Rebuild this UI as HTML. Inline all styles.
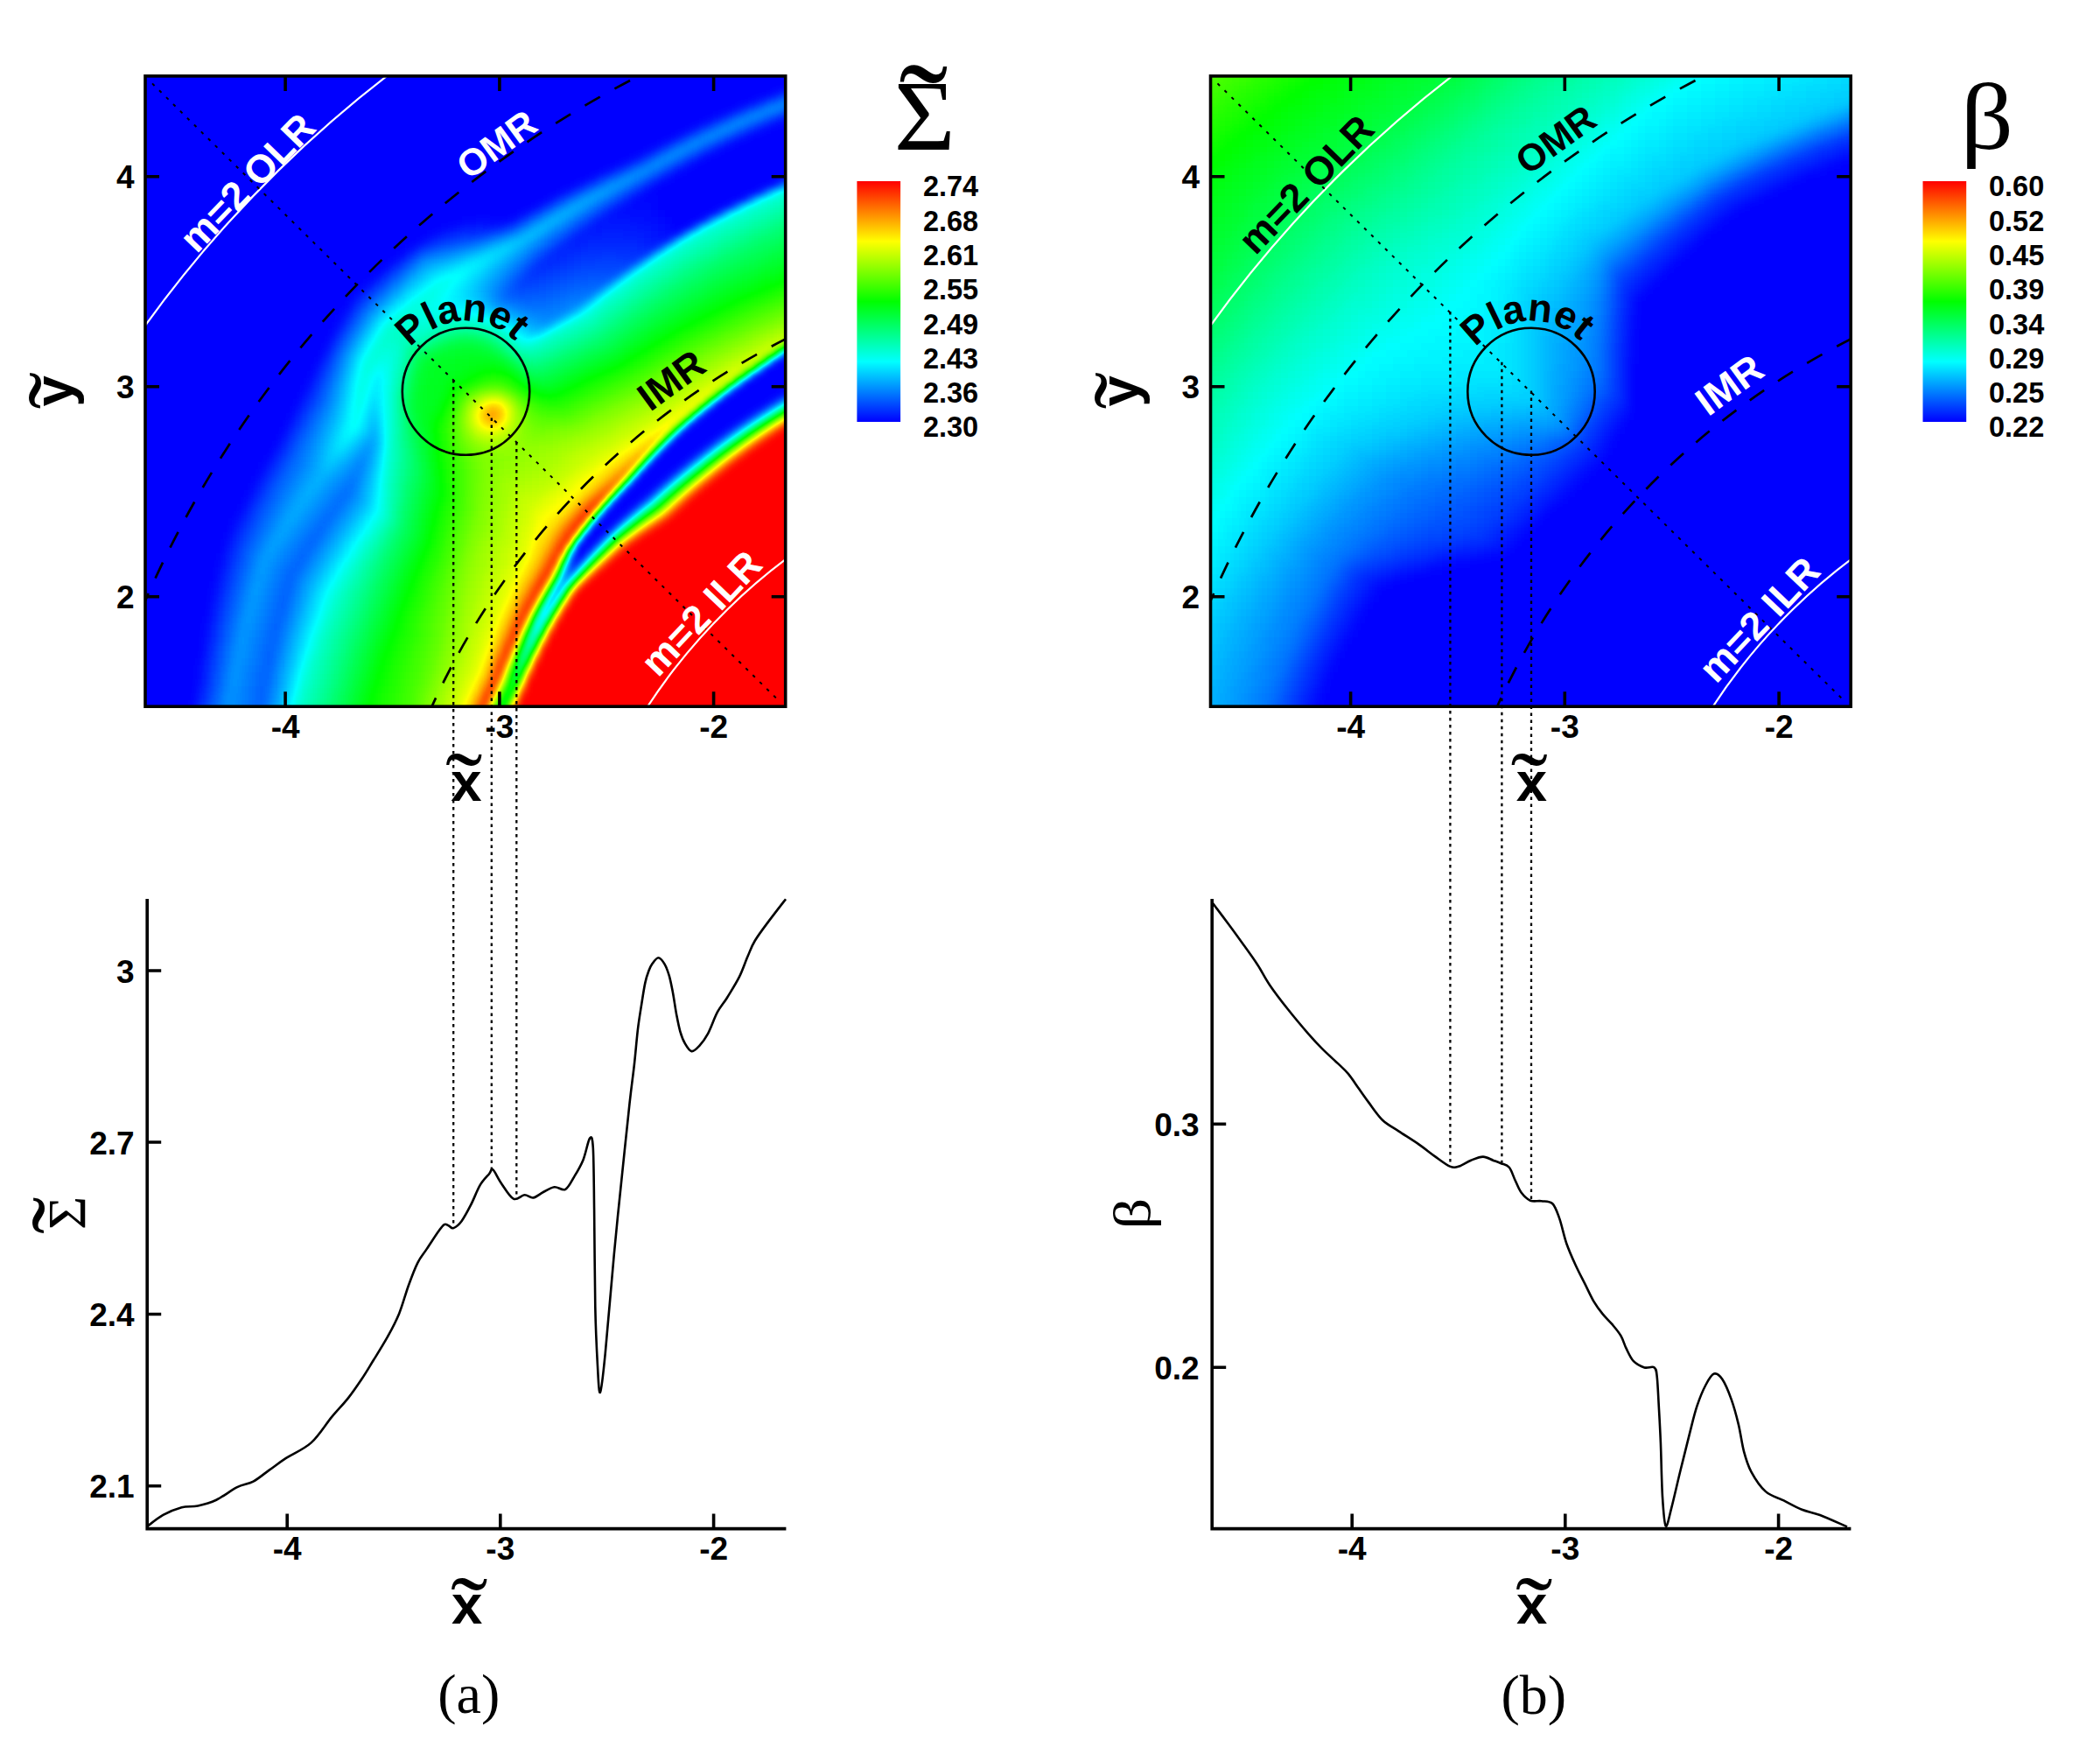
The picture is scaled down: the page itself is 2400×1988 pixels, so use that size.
<!DOCTYPE html><html><head><meta charset="utf-8"><title>figure</title><style>html,body{margin:0;padding:0;background:#fff}svg{display:block}</style></head><body>
<svg xmlns="http://www.w3.org/2000/svg" width="2400" height="1988" viewBox="0 0 2400 1988">
<rect width="2400" height="1988" fill="#fff"/>
<filter id="cm1" x="144" y="64" width="776" height="760" filterUnits="userSpaceOnUse" color-interpolation-filters="sRGB">
<feGaussianBlur stdDeviation="4.0"/>
<feComponentTransfer><feFuncR type="table" tableValues="0 0 0 1 1"/><feFuncG type="table" tableValues="0 1 1 1 0"/><feFuncB type="table" tableValues="1 1 0 0 0"/></feComponentTransfer>
</filter>
<clipPath id="fc1"><rect x="166.0" y="86.9" width="731.7" height="720.3"/></clipPath>
<g clip-path="url(#fc1)"><g filter="url(#cm1)">
<path fill="#000000" d="M144 64h776v8h-776zM144 72h776v8h-776zM144 80h776v8h-776zM144 88h776v8h-776zM144 96h752v8h-752zM144 104h736v8h-736zM144 112h712v8h-712zM144 120h696v8h-696zM144 128h672v8h-672zM144 136h656v8h-656zM896 136h24v8h-24zM144 144h640v8h-640zM880 144h40v8h-40zM144 152h624v8h-624zM856 152h64v8h-64zM144 160h608v8h-608zM840 160h80v8h-80zM144 168h592v8h-592zM824 168h96v8h-96zM144 176h576v8h-576zM808 176h112v8h-112zM144 184h560v8h-560zM792 184h128v8h-128zM144 192h544v8h-544zM784 192h136v8h-136zM144 200h528v8h-528zM768 200h128v8h-128zM144 208h512v8h-512zM752 208h128v8h-128zM144 216h496v8h-496zM744 216h120v8h-120zM144 224h480v8h-480zM752 224h96v8h-96zM144 232h464v8h-464zM752 232h80v8h-80zM144 240h448v8h-448zM760 240h56v8h-56zM144 248h384v8h-384zM768 248h32v8h-32zM144 256h360v8h-360zM768 256h16v8h-16zM144 264h344v8h-344zM144 272h336v8h-336zM144 280h320v8h-320zM144 288h312v8h-312zM144 296h304v8h-304zM144 304h296v8h-296zM144 312h280v8h-280zM144 320h272v8h-272zM144 328h264v8h-264zM144 336h256v8h-256zM144 344h256v8h-256zM144 352h248v8h-248zM144 360h240v8h-240zM144 368h240v8h-240zM144 376h232v8h-232zM144 384h232v8h-232zM144 392h224v8h-224zM912 392h8v8h-8zM144 400h224v8h-224zM896 400h24v8h-24zM144 408h216v8h-216zM888 408h32v8h-32zM144 416h216v8h-216zM872 416h48v8h-48zM144 424h208v8h-208zM864 424h56v8h-56zM144 432h208v8h-208zM856 432h64v8h-64zM144 440h200v8h-200zM840 440h64v8h-64zM144 448h200v8h-200zM832 448h56v8h-56zM144 456h192v8h-192zM824 456h56v8h-56zM144 464h192v8h-192zM808 464h56v8h-56zM144 472h184v8h-184zM800 472h56v8h-56zM144 480h184v8h-184zM792 480h48v8h-48zM144 488h176v8h-176zM784 488h48v8h-48zM144 496h176v8h-176zM776 496h40v8h-40zM144 504h168v8h-168zM768 504h40v8h-40zM144 512h168v8h-168zM760 512h40v8h-40zM144 520h160v8h-160zM752 520h32v8h-32zM144 528h152v8h-152zM744 528h32v8h-32zM144 536h152v8h-152zM736 536h32v8h-32zM144 544h144v8h-144zM728 544h32v8h-32zM144 552h144v8h-144zM720 552h32v8h-32zM144 560h136v8h-136zM712 560h32v8h-32zM144 568h136v8h-136zM704 568h24v8h-24zM144 576h128v8h-128zM696 576h24v8h-24zM144 584h128v8h-128zM688 584h24v8h-24zM144 592h120v8h-120zM680 592h24v8h-24zM144 600h120v8h-120zM672 600h24v8h-24zM144 608h112v8h-112zM672 608h16v8h-16zM144 616h112v8h-112zM664 616h16v8h-16zM144 624h112v8h-112zM656 624h16v8h-16zM144 632h104v8h-104zM656 632h8v8h-8zM144 640h104v8h-104zM144 648h104v8h-104zM144 656h104v8h-104zM144 664h96v8h-96zM144 672h96v8h-96zM144 680h96v8h-96zM144 688h96v8h-96zM144 696h96v8h-96zM144 704h88v8h-88zM144 712h88v8h-88zM144 720h88v8h-88zM144 728h88v8h-88zM144 736h88v8h-88zM144 744h88v8h-88zM144 752h80v8h-80zM144 760h80v8h-80zM144 768h80v8h-80zM144 776h80v8h-80zM144 784h80v8h-80zM144 792h80v8h-80zM144 800h72v8h-72zM144 808h72v8h-72zM144 816h72v8h-72z"/>
<path fill="#010101" d="M896 96h8v8h-8zM856 112h8v8h-8zM816 128h8v8h-8zM912 128h8v8h-8zM800 136h8v8h-8zM784 144h8v8h-8zM872 144h8v8h-8zM768 152h8v8h-8zM752 160h8v8h-8zM736 168h8v8h-8zM720 176h8v8h-8zM704 184h8v8h-8zM776 192h8v8h-8zM896 200h8v8h-8zM736 216h8v8h-8zM728 224h24v8h-24zM608 232h8v8h-8zM744 232h8v8h-8zM592 240h8v8h-8zM752 240h8v8h-8zM528 248h16v8h-16zM560 248h24v8h-24zM760 248h8v8h-8zM504 256h8v8h-8zM488 264h8v8h-8zM464 280h8v8h-8zM424 312h8v8h-8zM416 320h8v8h-8zM384 360h8v8h-8zM376 376h8v8h-8zM368 392h8v8h-8zM360 408h8v8h-8zM352 424h8v8h-8zM344 440h8v8h-8zM888 448h8v8h-8zM336 456h8v8h-8zM816 456h8v8h-8zM328 472h8v8h-8zM320 488h8v8h-8zM768 496h8v8h-8zM816 496h8v8h-8zM312 504h8v8h-8zM760 504h8v8h-8zM752 512h8v8h-8zM784 520h8v8h-8zM296 528h8v8h-8zM288 544h8v8h-8zM280 560h8v8h-8zM728 568h8v8h-8zM272 576h8v8h-8zM256 608h8v8h-8zM248 632h8v8h-8zM240 664h8v8h-8zM232 704h8v8h-8zM224 752h8v8h-8zM216 800h8v8h-8z"/>
<path fill="#020202" d="M888 136h8v8h-8zM688 192h8v8h-8zM672 200h8v8h-8zM760 200h8v8h-8zM624 224h8v8h-8zM720 232h24v8h-24zM744 240h8v8h-8zM544 248h16v8h-16zM752 248h8v8h-8zM512 256h8v8h-8zM760 256h8v8h-8zM784 256h8v8h-8zM768 264h8v8h-8zM456 288h8v8h-8zM408 328h8v8h-8zM400 336h8v8h-8zM848 432h8v8h-8zM904 440h8v8h-8zM864 464h8v8h-8zM840 480h8v8h-8zM304 520h8v8h-8zM744 520h8v8h-8zM776 528h8v8h-8zM720 576h8v8h-8zM264 592h8v8h-8zM248 640h8v8h-8zM240 672h8v8h-8zM232 712h8v8h-8zM224 760h8v8h-8zM224 768h8v8h-8zM216 808h8v8h-8z"/>
<path fill="#030303" d="M880 104h8v8h-8zM840 120h8v8h-8zM832 160h8v8h-8zM816 168h8v8h-8zM800 176h8v8h-8zM656 208h8v8h-8zM744 208h8v8h-8zM880 208h8v8h-8zM640 216h8v8h-8zM720 224h8v8h-8zM712 232h8v8h-8zM704 240h40v8h-40zM736 248h16v8h-16zM752 256h8v8h-8zM496 264h8v8h-8zM760 264h8v8h-8zM480 272h8v8h-8zM392 352h8v8h-8zM776 488h8v8h-8zM736 528h8v8h-8zM296 536h8v8h-8zM712 584h8v8h-8zM256 616h8v8h-8zM240 680h8v8h-8zM232 720h8v8h-8zM224 776h8v8h-8zM216 816h8v8h-8z"/>
<path fill="#040404" d="M904 96h8v8h-8zM824 128h8v8h-8zM904 128h8v8h-8zM848 152h8v8h-8zM784 184h8v8h-8zM696 240h8v8h-8zM584 248h8v8h-8zM688 248h8v8h-8zM720 248h16v8h-16zM520 256h8v8h-8zM744 256h8v8h-8zM752 264h8v8h-8zM448 296h8v8h-8zM384 368h8v8h-8zM352 432h8v8h-8zM344 448h8v8h-8zM336 464h8v8h-8zM328 480h8v8h-8zM320 496h8v8h-8zM808 504h8v8h-8zM288 552h8v8h-8zM280 568h8v8h-8zM272 584h8v8h-8zM264 600h8v8h-8zM656 640h8v8h-8zM248 648h8v8h-8zM232 728h8v8h-8z"/>
<path fill="#050505" d="M864 144h8v8h-8zM728 176h8v8h-8zM768 192h8v8h-8zM864 216h8v8h-8zM696 248h24v8h-24zM800 248h8v8h-8zM680 256h8v8h-8zM728 256h16v8h-16zM744 264h8v8h-8zM752 272h8v8h-8zM440 304h8v8h-8zM376 384h8v8h-8zM368 400h8v8h-8zM360 416h8v8h-8zM312 512h8v8h-8zM728 536h8v8h-8zM768 536h8v8h-8zM704 592h8v8h-8zM256 624h8v8h-8zM664 632h8v8h-8zM248 656h8v8h-8zM240 688h8v8h-8zM232 736h8v8h-8zM224 784h8v8h-8z"/>
<path fill="#060606" d="M864 112h8v8h-8zM808 136h8v8h-8zM880 136h8v8h-8zM744 168h8v8h-8zM712 184h8v8h-8zM728 216h8v8h-8zM704 232h8v8h-8zM600 240h8v8h-8zM528 256h16v8h-16zM552 256h16v8h-16zM672 256h8v8h-8zM688 256h40v8h-40zM664 264h8v8h-8zM736 264h8v8h-8zM744 272h8v8h-8zM432 312h8v8h-8zM400 344h8v8h-8zM304 528h8v8h-8zM696 600h8v8h-8zM664 608h8v8h-8zM672 624h8v8h-8zM240 696h8v8h-8zM232 744h8v8h-8zM224 792h8v8h-8z"/>
<path fill="#070707" d="M792 144h8v8h-8zM776 152h8v8h-8zM760 160h8v8h-8zM696 192h8v8h-8zM752 200h8v8h-8zM848 224h8v8h-8zM616 232h8v8h-8zM816 240h8v8h-8zM680 248h8v8h-8zM544 256h8v8h-8zM504 264h8v8h-8zM672 264h16v8h-16zM712 264h24v8h-24zM656 272h8v8h-8zM736 272h8v8h-8zM472 280h8v8h-8zM424 320h8v8h-8zM352 440h8v8h-8zM880 456h8v8h-8zM296 544h8v8h-8zM288 560h8v8h-8zM280 576h8v8h-8zM272 592h8v8h-8zM264 608h8v8h-8zM688 608h8v8h-8zM680 616h8v8h-8zM256 632h8v8h-8zM248 664h8v8h-8zM240 704h8v8h-8z"/>
<path fill="#080808" d="M832 232h8v8h-8zM568 256h8v8h-8zM688 264h24v8h-24zM488 272h8v8h-8zM648 272h8v8h-8zM664 272h8v8h-8zM728 272h8v8h-8zM640 280h8v8h-8zM416 328h8v8h-8zM408 336h8v8h-8zM392 360h8v8h-8zM360 424h8v8h-8zM344 456h8v8h-8zM336 472h8v8h-8zM328 488h8v8h-8zM320 504h8v8h-8zM760 544h8v8h-8zM256 640h8v8h-8zM248 672h8v8h-8zM232 752h8v8h-8zM224 800h8v8h-8z"/>
<path fill="#090909" d="M888 104h8v8h-8zM848 120h8v8h-8zM824 160h8v8h-8zM808 168h8v8h-8zM680 200h8v8h-8zM664 208h8v8h-8zM648 216h8v8h-8zM632 224h8v8h-8zM712 224h8v8h-8zM688 240h8v8h-8zM512 264h8v8h-8zM656 264h8v8h-8zM672 272h56v8h-56zM648 280h16v8h-16zM736 280h16v8h-16zM632 288h8v8h-8zM384 376h8v8h-8zM368 408h8v8h-8zM824 448h8v8h-8zM784 480h8v8h-8zM832 488h8v8h-8zM312 520h8v8h-8zM264 616h8v8h-8zM648 648h8v8h-8zM240 712h8v8h-8zM232 760h8v8h-8z"/>
<path fill="#0a0a0a" d="M896 128h8v8h-8zM840 152h8v8h-8zM792 176h8v8h-8zM736 208h8v8h-8zM760 272h8v8h-8zM664 280h8v8h-8zM728 280h8v8h-8zM464 288h8v8h-8zM640 288h8v8h-8zM624 296h8v8h-8zM376 392h8v8h-8zM856 472h8v8h-8zM800 512h8v8h-8zM304 536h8v8h-8zM296 552h8v8h-8zM288 568h8v8h-8zM280 584h8v8h-8zM272 600h8v8h-8zM256 648h8v8h-8zM248 680h8v8h-8zM240 720h8v8h-8zM232 768h8v8h-8zM224 808h8v8h-8z"/>
<path fill="#0b0b0b" d="M912 96h8v8h-8zM856 144h8v8h-8zM776 184h8v8h-8zM664 256h8v8h-8zM520 264h8v8h-8zM496 272h8v8h-8zM672 280h56v8h-56zM624 288h8v8h-8zM648 288h8v8h-8zM456 296h8v8h-8zM616 296h8v8h-8zM632 296h8v8h-8zM352 448h8v8h-8zM344 464h8v8h-8zM336 480h8v8h-8zM328 496h8v8h-8zM320 512h8v8h-8zM264 624h8v8h-8zM248 688h8v8h-8zM240 728h8v8h-8zM232 776h8v8h-8zM224 816h8v8h-8z"/>
<path fill="#0c0c0c" d="M832 128h8v8h-8zM904 200h8v8h-8zM696 232h8v8h-8zM592 248h8v8h-8zM528 264h16v8h-16zM632 280h8v8h-8zM656 288h8v8h-8zM720 288h16v8h-16zM640 296h8v8h-8zM608 304h16v8h-16zM400 352h8v8h-8zM360 432h8v8h-8zM896 448h8v8h-8zM312 528h8v8h-8zM720 544h8v8h-8zM752 552h8v8h-8zM256 656h8v8h-8zM232 784h8v8h-8z"/>
<path fill="#0d0d0d" d="M872 112h8v8h-8zM872 136h8v8h-8zM736 176h8v8h-8zM720 184h8v8h-8zM760 192h8v8h-8zM720 216h8v8h-8zM672 248h8v8h-8zM576 256h8v8h-8zM544 264h8v8h-8zM640 272h8v8h-8zM480 280h8v8h-8zM664 288h24v8h-24zM704 288h16v8h-16zM648 296h8v8h-8zM448 304h8v8h-8zM624 304h8v8h-8zM392 368h8v8h-8zM368 416h8v8h-8zM304 544h8v8h-8zM296 560h8v8h-8zM280 592h8v8h-8zM272 608h8v8h-8zM264 632h8v8h-8zM648 640h8v8h-8zM256 664h8v8h-8zM248 696h8v8h-8zM240 736h8v8h-8z"/>
<path fill="#0e0e0e" d="M912 120h8v8h-8zM816 136h8v8h-8zM608 240h8v8h-8zM504 272h8v8h-8zM688 288h16v8h-16zM656 296h8v8h-8zM632 304h8v8h-8zM440 312h8v8h-8zM600 312h16v8h-16zM376 400h8v8h-8zM352 456h8v8h-8zM712 552h8v8h-8zM288 576h8v8h-8zM248 704h8v8h-8zM240 744h8v8h-8zM232 792h8v8h-8z"/>
<path fill="#0f0f0f" d="M800 144h8v8h-8zM752 168h8v8h-8zM704 192h8v8h-8zM744 200h8v8h-8zM648 264h8v8h-8zM664 296h16v8h-16zM712 296h16v8h-16zM640 304h8v8h-8zM616 312h8v8h-8zM432 320h8v8h-8zM424 328h8v8h-8zM408 344h8v8h-8zM384 384h8v8h-8zM880 408h8v8h-8zM360 440h8v8h-8zM344 472h8v8h-8zM336 488h8v8h-8zM328 504h8v8h-8zM320 520h8v8h-8zM272 616h8v8h-8zM264 640h8v8h-8zM256 672h8v8h-8zM240 752h8v8h-8z"/>
<path fill="#101010" d="M896 104h8v8h-8zM888 128h8v8h-8zM784 152h8v8h-8zM768 160h8v8h-8zM704 224h8v8h-8zM624 232h8v8h-8zM680 240h8v8h-8zM552 264h8v8h-8zM512 272h8v8h-8zM608 296h8v8h-8zM680 296h32v8h-32zM648 304h8v8h-8zM624 312h8v8h-8zM592 320h16v8h-16zM416 336h8v8h-8zM312 536h8v8h-8zM744 560h8v8h-8zM280 600h8v8h-8zM248 712h8v8h-8zM240 760h8v8h-8zM232 800h8v8h-8z"/>
<path fill="#111111" d="M856 120h8v8h-8zM832 152h8v8h-8zM816 160h8v8h-8zM800 168h8v8h-8zM688 200h8v8h-8zM672 208h8v8h-8zM728 208h8v8h-8zM656 216h8v8h-8zM640 224h8v8h-8zM656 256h8v8h-8zM488 280h8v8h-8zM616 288h8v8h-8zM736 288h8v8h-8zM600 304h8v8h-8zM656 304h8v8h-8zM632 312h8v8h-8zM608 320h8v8h-8zM400 360h8v8h-8zM368 424h8v8h-8zM912 440h8v8h-8zM304 552h8v8h-8zM704 560h8v8h-8zM296 568h8v8h-8zM288 584h8v8h-8zM264 648h8v8h-8zM256 680h8v8h-8zM248 720h8v8h-8zM240 768h8v8h-8zM232 808h8v8h-8z"/>
<path fill="#121212" d="M848 144h8v8h-8zM784 176h8v8h-8zM776 264h8v8h-8zM520 272h8v8h-8zM624 280h8v8h-8zM472 288h8v8h-8zM664 304h48v8h-48zM640 312h8v8h-8zM616 320h8v8h-8zM360 448h8v8h-8zM352 464h8v8h-8zM344 480h8v8h-8zM328 512h8v8h-8zM792 520h8v8h-8zM272 624h8v8h-8zM264 656h8v8h-8zM256 688h8v8h-8zM248 728h8v8h-8zM240 776h8v8h-8z"/>
<path fill="#131313" d="M768 184h8v8h-8zM688 232h8v8h-8zM584 256h8v8h-8zM592 312h8v8h-8zM648 312h8v8h-8zM624 320h8v8h-8zM592 328h8v8h-8zM392 376h8v8h-8zM904 392h8v8h-8zM376 408h8v8h-8zM336 496h8v8h-8zM824 496h8v8h-8zM320 528h8v8h-8zM288 592h8v8h-8zM280 608h8v8h-8zM272 632h8v8h-8zM232 816h8v8h-8z"/>
<path fill="#141414" d="M904 120h8v8h-8zM840 128h8v8h-8zM864 136h8v8h-8zM712 216h8v8h-8zM664 248h8v8h-8zM560 264h8v8h-8zM528 272h8v8h-8zM632 272h8v8h-8zM464 296h8v8h-8zM656 312h16v8h-16zM632 320h8v8h-8zM584 328h8v8h-8zM600 328h16v8h-16zM384 392h8v8h-8zM856 424h8v8h-8zM368 432h8v8h-8zM872 464h8v8h-8zM312 544h8v8h-8zM304 560h8v8h-8zM736 568h8v8h-8zM296 576h8v8h-8zM264 664h8v8h-8zM256 696h8v8h-8zM248 736h8v8h-8zM240 784h8v8h-8z"/>
<path fill="#151515" d="M880 112h8v8h-8zM728 184h8v8h-8zM752 192h8v8h-8zM888 208h8v8h-8zM600 248h8v8h-8zM496 280h8v8h-8zM456 304h8v8h-8zM712 304h8v8h-8zM672 312h32v8h-32zM584 320h8v8h-8zM640 320h8v8h-8zM616 328h8v8h-8zM408 352h8v8h-8zM360 456h8v8h-8zM280 616h8v8h-8zM272 640h8v8h-8zM256 704h8v8h-8zM248 744h8v8h-8zM240 792h8v8h-8z"/>
<path fill="#161616" d="M824 136h8v8h-8zM640 264h8v8h-8zM536 272h8v8h-8zM448 312h8v8h-8zM440 320h8v8h-8zM648 320h8v8h-8zM624 328h8v8h-8zM376 416h8v8h-8zM352 472h8v8h-8zM792 472h8v8h-8zM344 488h8v8h-8zM336 504h8v8h-8zM328 520h8v8h-8zM320 536h8v8h-8zM304 568h8v8h-8zM296 584h8v8h-8zM288 600h8v8h-8zM264 672h8v8h-8zM248 752h8v8h-8z"/>
<path fill="#171717" d="M880 128h8v8h-8zM744 176h8v8h-8zM712 192h8v8h-8zM736 200h8v8h-8zM696 224h8v8h-8zM616 240h8v8h-8zM672 240h8v8h-8zM608 288h8v8h-8zM600 296h8v8h-8zM656 320h16v8h-16zM432 328h8v8h-8zM632 328h8v8h-8zM424 336h8v8h-8zM592 336h16v8h-16zM416 344h8v8h-8zM400 368h8v8h-8zM368 440h8v8h-8zM848 480h8v8h-8zM312 552h8v8h-8zM696 568h8v8h-8zM272 648h8v8h-8zM264 680h8v8h-8zM256 712h8v8h-8zM248 760h8v8h-8zM240 800h8v8h-8z"/>
<path fill="#181818" d="M904 104h8v8h-8zM808 144h8v8h-8zM808 160h8v8h-8zM760 168h8v8h-8zM792 168h8v8h-8zM696 200h8v8h-8zM632 232h8v8h-8zM648 256h8v8h-8zM568 264h8v8h-8zM504 280h8v8h-8zM616 280h8v8h-8zM592 304h8v8h-8zM672 320h16v8h-16zM576 328h8v8h-8zM640 328h8v8h-8zM584 336h8v8h-8zM608 336h16v8h-16zM288 608h8v8h-8zM280 624h8v8h-8zM328 656h8v8h-8zM320 680h8v8h-8zM320 688h8v8h-8zM312 712h8v8h-8zM256 720h8v8h-8zM304 744h8v8h-8zM304 752h8v8h-8zM296 784h8v8h-8zM296 792h8v8h-8z"/>
<path fill="#191919" d="M864 120h8v8h-8zM792 152h8v8h-8zM824 152h8v8h-8zM776 160h8v8h-8zM776 176h8v8h-8zM680 208h8v8h-8zM720 208h8v8h-8zM648 224h8v8h-8zM480 288h8v8h-8zM584 312h8v8h-8zM688 320h8v8h-8zM648 328h8v8h-8zM576 336h8v8h-8zM624 336h8v8h-8zM392 384h8v8h-8zM384 400h8v8h-8zM360 464h8v8h-8zM352 480h8v8h-8zM344 496h8v8h-8zM336 512h8v8h-8zM328 528h8v8h-8zM320 544h8v8h-8zM312 560h8v8h-8zM304 576h8v8h-8zM296 592h8v8h-8zM352 616h8v8h-8zM344 632h8v8h-8zM336 640h8v8h-8zM328 648h8v8h-8zM272 656h8v8h-8zM640 656h8v8h-8zM328 664h8v8h-8zM320 672h8v8h-8zM264 688h8v8h-8zM320 696h8v8h-8zM312 704h8v8h-8zM312 720h8v8h-8zM256 728h8v8h-8zM312 728h8v8h-8zM304 736h8v8h-8zM304 760h8v8h-8zM248 768h8v8h-8zM296 768h8v8h-8zM296 776h8v8h-8zM296 800h8v8h-8zM240 808h8v8h-8zM288 808h8v8h-8zM288 816h8v8h-8z"/>
<path fill="#1a1a1a" d="M840 144h8v8h-8zM760 184h8v8h-8zM664 216h8v8h-8zM680 232h8v8h-8zM656 248h8v8h-8zM544 272h8v8h-8zM624 272h8v8h-8zM512 280h8v8h-8zM656 328h8v8h-8zM632 336h8v8h-8zM376 424h8v8h-8zM368 448h8v8h-8zM368 592h8v8h-8zM360 600h8v8h-8zM360 608h8v8h-8zM344 624h8v8h-8zM280 632h8v8h-8zM336 648h8v8h-8zM272 664h8v8h-8zM320 664h8v8h-8zM328 672h8v8h-8zM264 696h8v8h-8zM312 696h8v8h-8zM304 720h8v8h-8zM304 728h8v8h-8zM296 760h8v8h-8zM304 768h8v8h-8zM248 776h8v8h-8zM288 800h8v8h-8zM296 808h8v8h-8zM240 816h8v8h-8z"/>
<path fill="#1b1b1b" d="M896 120h8v8h-8zM856 136h8v8h-8zM704 216h8v8h-8zM592 256h8v8h-8zM792 256h8v8h-8zM752 280h8v8h-8zM576 320h8v8h-8zM664 328h16v8h-16zM640 336h8v8h-8zM600 344h24v8h-24zM408 360h8v8h-8zM336 520h8v8h-8zM784 528h8v8h-8zM328 536h8v8h-8zM320 552h8v8h-8zM392 560h8v8h-8zM312 568h8v8h-8zM384 568h8v8h-8zM304 584h8v8h-8zM376 584h8v8h-8zM296 600h8v8h-8zM352 608h8v8h-8zM288 616h8v8h-8zM656 616h8v8h-8zM352 624h8v8h-8zM336 632h8v8h-8zM280 640h8v8h-8zM312 688h8v8h-8zM320 704h8v8h-8zM304 712h8v8h-8zM256 736h8v8h-8zM312 736h8v8h-8zM296 744h8v8h-8zM296 752h8v8h-8zM304 776h8v8h-8zM248 784h8v8h-8zM288 784h8v8h-8zM288 792h8v8h-8zM296 816h8v8h-8z"/>
<path fill="#1c1c1c" d="M744 192h8v8h-8zM632 264h8v8h-8zM472 296h8v8h-8zM592 344h8v8h-8zM624 344h8v8h-8zM368 456h8v8h-8zM360 472h8v8h-8zM352 488h8v8h-8zM344 504h8v8h-8zM376 576h16v8h-16zM368 584h8v8h-8zM368 600h8v8h-8zM344 616h8v8h-8zM328 640h8v8h-8zM344 640h8v8h-8zM320 656h8v8h-8zM272 672h8v8h-8zM312 680h8v8h-8zM328 680h8v8h-8zM264 704h8v8h-8zM304 704h8v8h-8zM296 736h8v8h-8zM256 744h8v8h-8zM288 768h8v8h-8zM288 776h8v8h-8zM280 808h8v8h-8zM280 816h8v8h-8z"/>
<path fill="#1d1d1d" d="M888 112h8v8h-8zM848 128h8v8h-8zM872 216h8v8h-8zM664 240h8v8h-8zM576 264h8v8h-8zM520 280h8v8h-8zM488 288h8v8h-8zM728 296h8v8h-8zM464 304h8v8h-8zM704 312h8v8h-8zM648 336h16v8h-16zM632 344h8v8h-8zM400 376h8v8h-8zM384 408h8v8h-8zM376 432h8v8h-8zM336 528h8v8h-8zM328 544h8v8h-8zM392 552h8v8h-8zM728 576h8v8h-8zM360 592h8v8h-8zM360 616h8v8h-8zM288 624h8v8h-8zM336 624h8v8h-8zM280 648h8v8h-8zM320 648h8v8h-8zM336 656h8v8h-8zM312 672h8v8h-8zM304 696h8v8h-8zM264 712h8v8h-8zM320 712h8v8h-8zM296 728h8v8h-8zM312 744h8v8h-8zM256 752h8v8h-8zM288 760h8v8h-8zM304 784h8v8h-8zM248 792h8v8h-8zM280 800h8v8h-8z"/>
<path fill="#1e1e1e" d="M872 128h8v8h-8zM736 184h8v8h-8zM728 200h8v8h-8zM688 224h8v8h-8zM608 248h8v8h-8zM640 256h8v8h-8zM552 272h8v8h-8zM608 280h8v8h-8zM600 288h8v8h-8zM592 296h8v8h-8zM584 304h8v8h-8zM456 312h8v8h-8zM448 320h8v8h-8zM568 328h8v8h-8zM680 328h8v8h-8zM568 336h8v8h-8zM664 336h8v8h-8zM584 344h8v8h-8zM640 344h8v8h-8zM416 352h8v8h-8zM392 392h8v8h-8zM344 512h8v8h-8zM400 544h8v8h-8zM400 552h8v8h-8zM320 560h8v8h-8zM384 560h8v8h-8zM376 568h8v8h-8zM392 568h8v8h-8zM312 576h8v8h-8zM304 592h8v8h-8zM376 592h8v8h-8zM352 600h8v8h-8zM296 608h8v8h-8zM344 608h8v8h-8zM328 632h8v8h-8zM648 632h8v8h-8zM312 664h8v8h-8zM272 680h8v8h-8zM304 688h8v8h-8zM328 688h8v8h-8zM296 720h8v8h-8zM288 752h8v8h-8zM312 752h8v8h-8zM280 784h8v8h-8zM280 792h8v8h-8zM304 792h8v8h-8zM248 800h8v8h-8z"/>
<path fill="#1f1f1f" d="M912 104h8v8h-8zM912 112h8v8h-8zM832 136h8v8h-8zM800 160h8v8h-8zM720 192h8v8h-8zM576 312h8v8h-8zM440 328h8v8h-8zM432 336h8v8h-8zM424 344h8v8h-8zM608 352h24v8h-24zM888 456h8v8h-8zM352 496h8v8h-8zM336 536h8v8h-8zM368 576h8v8h-8zM368 608h8v8h-8zM336 616h8v8h-8zM352 632h8v8h-8zM320 640h8v8h-8zM344 648h8v8h-8zM280 656h8v8h-8zM312 656h8v8h-8zM336 664h8v8h-8zM632 672h8v8h-8zM304 680h8v8h-8zM272 688h8v8h-8zM296 712h8v8h-8zM264 720h8v8h-8zM320 720h8v8h-8zM288 736h8v8h-8zM288 744h8v8h-8zM256 760h8v8h-8zM280 768h8v8h-8zM280 776h8v8h-8zM272 808h8v8h-8zM272 816h8v8h-8z"/>
<path fill="#202020" d="M816 144h8v8h-8zM816 152h8v8h-8zM784 168h8v8h-8zM752 176h8v8h-8zM704 200h8v8h-8zM712 208h8v8h-8zM672 232h8v8h-8zM624 240h8v8h-8zM616 272h8v8h-8zM528 280h8v8h-8zM496 288h8v8h-8zM576 344h8v8h-8zM648 344h8v8h-8zM600 352h8v8h-8zM632 352h8v8h-8zM408 368h8v8h-8zM384 416h8v8h-8zM376 440h8v8h-8zM368 464h8v8h-8zM360 480h8v8h-8zM816 504h8v8h-8zM344 520h8v8h-8zM408 528h8v8h-8zM400 536h8v8h-8zM392 544h8v8h-8zM328 552h8v8h-8zM400 560h8v8h-8zM320 568h8v8h-8zM312 584h8v8h-8zM360 584h8v8h-8zM384 584h8v8h-8zM352 592h8v8h-8zM304 600h8v8h-8zM296 616h8v8h-8zM328 624h8v8h-8zM288 632h8v8h-8zM312 648h8v8h-8zM304 672h8v8h-8zM328 696h8v8h-8zM296 704h8v8h-8zM264 728h8v8h-8zM288 728h8v8h-8zM280 760h8v8h-8zM312 760h8v8h-8zM256 768h8v8h-8zM272 800h8v8h-8zM304 800h8v8h-8zM248 808h8v8h-8z"/>
<path fill="#212121" d="M872 120h8v8h-8zM888 120h8v8h-8zM832 144h8v8h-8zM800 152h8v8h-8zM784 160h8v8h-8zM768 168h8v8h-8zM768 176h8v8h-8zM688 208h8v8h-8zM640 232h8v8h-8zM648 248h8v8h-8zM808 248h8v8h-8zM568 320h8v8h-8zM656 344h8v8h-8zM640 352h8v8h-8zM352 504h8v8h-8zM344 528h8v8h-8zM408 536h8v8h-8zM384 552h8v8h-8zM376 560h8v8h-8zM344 600h8v8h-8zM360 624h8v8h-8zM320 632h8v8h-8zM280 664h8v8h-8zM304 664h8v8h-8zM336 672h8v8h-8zM272 696h8v8h-8zM296 696h8v8h-8zM288 720h8v8h-8zM320 728h8v8h-8zM280 752h8v8h-8zM256 776h8v8h-8zM272 784h8v8h-8zM272 792h8v8h-8zM248 816h8v8h-8z"/>
<path fill="#222222" d="M848 136h8v8h-8zM752 184h8v8h-8zM672 216h8v8h-8zM696 216h8v8h-8zM656 224h8v8h-8zM856 224h8v8h-8zM624 264h8v8h-8zM504 288h8v8h-8zM568 344h8v8h-8zM592 352h8v8h-8zM616 360h16v8h-16zM400 384h8v8h-8zM832 440h8v8h-8zM376 448h8v8h-8zM360 488h8v8h-8zM336 544h8v8h-8zM328 560h8v8h-8zM368 568h8v8h-8zM360 576h8v8h-8zM392 576h8v8h-8zM688 576h8v8h-8zM376 600h8v8h-8zM336 608h8v8h-8zM328 616h8v8h-8zM288 640h8v8h-8zM312 640h8v8h-8zM352 640h8v8h-8zM296 688h8v8h-8zM328 704h8v8h-8zM288 712h8v8h-8zM264 736h8v8h-8zM320 736h8v8h-8zM280 744h8v8h-8zM312 768h8v8h-8zM272 776h8v8h-8zM256 784h8v8h-8zM264 808h8v8h-8zM304 808h8v8h-8zM264 816h8v8h-8z"/>
<path fill="#232323" d="M896 112h16v8h-16zM856 128h16v8h-16zM736 192h8v8h-8zM584 264h8v8h-8zM560 272h8v8h-8zM536 280h8v8h-8zM672 336h8v8h-8zM392 400h8v8h-8zM384 424h8v8h-8zM368 472h8v8h-8zM352 512h8v8h-8zM408 520h8v8h-8zM408 544h8v8h-8zM400 568h8v8h-8zM320 576h8v8h-8zM352 584h8v8h-8zM312 592h8v8h-8zM304 608h8v8h-8zM368 616h8v8h-8zM296 624h8v8h-8zM320 624h8v8h-8zM304 656h8v8h-8zM344 656h8v8h-8zM640 664h8v8h-8zM280 672h8v8h-8zM296 680h8v8h-8zM336 680h8v8h-8zM272 704h8v8h-8zM288 704h8v8h-8zM280 728h8v8h-8zM280 736h8v8h-8zM264 744h8v8h-8zM272 760h8v8h-8zM272 768h8v8h-8zM312 776h8v8h-8zM264 792h8v8h-8zM264 800h8v8h-8z"/>
<path fill="#242424" d="M880 120h8v8h-8zM840 136h8v8h-8zM824 144h8v8h-8zM808 152h8v8h-8zM792 160h8v8h-8zM776 168h8v8h-8zM760 176h8v8h-8zM744 184h8v8h-8zM728 192h8v8h-8zM720 200h8v8h-8zM680 224h8v8h-8zM840 232h8v8h-8zM656 240h8v8h-8zM824 240h8v8h-8zM600 256h8v8h-8zM632 256h8v8h-8zM600 280h8v8h-8zM592 288h8v8h-8zM480 296h8v8h-8zM584 296h8v8h-8zM576 304h8v8h-8zM560 328h8v8h-8zM560 336h8v8h-8zM416 360h8v8h-8zM608 360h8v8h-8zM632 360h8v8h-8zM376 456h8v8h-8zM416 512h8v8h-8zM400 528h8v8h-8zM344 536h8v8h-8zM392 536h8v8h-8zM776 536h8v8h-8zM384 544h8v8h-8zM336 552h8v8h-8zM376 552h8v8h-8zM368 560h8v8h-8zM344 592h8v8h-8zM384 592h8v8h-8zM336 600h8v8h-8zM312 632h8v8h-8zM360 632h8v8h-8zM288 648h8v8h-8zM304 648h8v8h-8zM296 672h8v8h-8zM280 680h8v8h-8zM288 696h8v8h-8zM272 712h8v8h-8zM328 712h8v8h-8zM280 720h8v8h-8zM320 744h8v8h-8zM264 752h16v8h-16zM264 784h8v8h-8zM256 792h8v8h-8zM256 800h8v8h-8zM256 816h8v8h-8zM304 816h8v8h-8z"/>
<path fill="#252525" d="M912 200h8v8h-8zM512 288h8v8h-8zM472 304h8v8h-8zM568 312h8v8h-8zM584 352h8v8h-8zM648 352h8v8h-8zM360 496h8v8h-8zM352 520h8v8h-8zM416 520h8v8h-8zM408 552h8v8h-8zM328 568h8v8h-8zM360 568h8v8h-8zM320 584h8v8h-8zM392 584h8v8h-8zM312 600h8v8h-8zM328 608h8v8h-8zM376 608h8v8h-8zM304 640h8v8h-8zM288 656h8v8h-8zM296 664h8v8h-8zM288 688h8v8h-8zM336 688h8v8h-8zM280 712h8v8h-8zM272 720h8v8h-8zM272 736h8v8h-8zM272 744h8v8h-8zM264 760h8v8h-8zM264 768h8v8h-8zM264 776h8v8h-8zM312 784h8v8h-8zM256 808h8v8h-8z"/>
<path fill="#262626" d="M712 200h8v8h-8zM704 208h8v8h-8zM616 248h8v8h-8zM608 272h8v8h-8zM464 312h8v8h-8zM456 320h8v8h-8zM560 320h8v8h-8zM448 328h8v8h-8zM600 360h8v8h-8zM408 376h8v8h-8zM384 432h8v8h-8zM368 480h8v8h-8zM352 528h8v8h-8zM344 544h8v8h-8zM352 576h8v8h-8zM344 584h8v8h-8zM720 584h8v8h-8zM304 616h8v8h-8zM320 616h8v8h-8zM312 624h8v8h-8zM296 632h8v8h-8zM352 648h8v8h-8zM296 656h8v8h-8zM648 656h8v8h-8zM344 664h8v8h-8zM288 680h8v8h-8zM280 688h8v8h-8zM280 696h8v8h-8zM280 704h8v8h-8zM328 720h8v8h-8zM272 728h8v8h-8zM320 752h8v8h-8z"/>
<path fill="#272727" d="M696 208h8v8h-8zM664 232h8v8h-8zM640 248h8v8h-8zM544 280h8v8h-8zM488 296h8v8h-8zM696 320h8v8h-8zM440 336h8v8h-8zM432 344h8v8h-8zM424 352h8v8h-8zM616 368h8v8h-8zM392 408h8v8h-8zM376 464h8v8h-8zM864 472h8v8h-8zM840 488h8v8h-8zM360 504h8v8h-8zM416 504h8v8h-8zM416 528h8v8h-8zM376 544h8v8h-8zM368 552h8v8h-8zM336 560h8v8h-8zM408 560h8v8h-8zM328 576h8v8h-8zM400 576h8v8h-8zM336 592h8v8h-8zM328 600h8v8h-8zM384 600h8v8h-8zM368 624h8v8h-8zM304 632h8v8h-8zM296 640h8v8h-8zM296 648h8v8h-8zM288 664h8v8h-8zM288 672h8v8h-8zM624 688h8v8h-8zM336 696h8v8h-8zM312 792h8v8h-8z"/>
<path fill="#282828" d="M680 216h16v8h-16zM632 240h8v8h-8zM616 264h8v8h-8zM568 272h8v8h-8zM520 288h8v8h-8zM560 344h8v8h-8zM400 392h8v8h-8zM904 448h8v8h-8zM408 512h8v8h-8zM400 520h8v8h-8zM392 528h8v8h-8zM352 536h8v8h-8zM384 536h8v8h-8zM360 560h8v8h-8zM352 568h8v8h-8zM320 592h8v8h-8zM312 608h16v8h-16zM312 616h8v8h-8zM304 624h8v8h-8zM360 640h8v8h-8zM344 672h8v8h-8zM328 728h8v8h-8zM320 760h8v8h-8zM312 800h8v8h-8z"/>
<path fill="#292929" d="M664 224h8v8h-8zM648 232h8v8h-8zM584 288h8v8h-8zM576 296h8v8h-8zM568 304h8v8h-8zM552 328h8v8h-8zM664 344h8v8h-8zM576 352h8v8h-8zM592 360h8v8h-8zM608 368h8v8h-8zM384 440h8v8h-8zM368 488h8v8h-8zM360 512h8v8h-8zM416 536h8v8h-8zM344 552h8v8h-8zM336 568h8v8h-8zM408 568h8v8h-8zM344 576h8v8h-8zM336 584h8v8h-8zM392 592h8v8h-8zM320 600h8v8h-8zM376 616h8v8h-8zM352 656h8v8h-8zM336 704h8v8h-8z"/>
<path fill="#2a2a2a" d="M672 224h8v8h-8zM648 240h8v8h-8zM624 256h8v8h-8zM592 264h8v8h-8zM768 272h8v8h-8zM592 280h8v8h-8zM496 296h8v8h-8zM560 312h8v8h-8zM552 336h8v8h-8zM416 368h8v8h-8zM624 368h8v8h-8zM392 416h8v8h-8zM376 472h8v8h-8zM424 496h8v8h-8zM424 504h8v8h-8zM360 520h8v8h-8zM352 544h8v8h-8zM368 544h8v8h-8zM328 584h8v8h-8zM328 592h8v8h-8zM368 632h8v8h-8zM656 648h8v8h-8zM344 680h8v8h-8zM328 736h8v8h-8zM320 768h8v8h-8zM312 808h8v8h-8z"/>
<path fill="#2b2b2b" d="M656 232h8v8h-8zM480 304h8v8h-8zM552 320h8v8h-8zM384 448h8v8h-8zM368 496h8v8h-8zM360 528h8v8h-8zM376 536h8v8h-8zM416 544h8v8h-8zM360 552h8v8h-8zM344 560h16v8h-16zM344 568h8v8h-8zM336 576h8v8h-8zM400 584h8v8h-8zM384 608h8v8h-8zM360 648h8v8h-8zM616 696h8v8h-8zM336 712h8v8h-8zM320 776h8v8h-8z"/>
<path fill="#2c2c2c" d="M608 256h8v8h-8zM600 272h8v8h-8zM552 280h8v8h-8zM528 288h8v8h-8zM504 296h8v8h-8zM720 304h8v8h-8zM472 312h8v8h-8zM568 352h8v8h-8zM600 368h8v8h-8zM424 488h8v8h-8zM424 512h8v8h-8zM808 512h8v8h-8zM384 528h8v8h-8zM360 536h8v8h-8zM352 552h8v8h-8zM352 664h8v8h-8zM624 680h8v8h-8zM344 688h8v8h-8zM328 744h8v8h-8zM312 816h8v8h-8z"/>
<path fill="#2d2d2d" d="M640 240h8v8h-8zM624 248h16v8h-16zM576 272h8v8h-8zM464 320h8v8h-8zM456 328h8v8h-8zM640 360h8v8h-8zM408 384h8v8h-8zM392 424h8v8h-8zM384 456h8v8h-8zM800 464h8v8h-8zM376 480h8v8h-8zM416 496h8v8h-8zM368 504h8v8h-8zM408 504h8v8h-8zM400 512h8v8h-8zM392 520h8v8h-8zM360 544h8v8h-8zM768 544h8v8h-8zM416 552h8v8h-8zM408 576h8v8h-8zM392 600h8v8h-8zM376 624h8v8h-8zM320 784h8v8h-8z"/>
<path fill="#2e2e2e" d="M608 264h8v8h-8zM744 288h8v8h-8zM568 296h8v8h-8zM560 304h8v8h-8zM544 328h8v8h-8zM448 336h8v8h-8zM552 344h8v8h-8zM424 360h8v8h-8zM584 360h8v8h-8zM400 400h8v8h-8zM424 520h8v8h-8zM368 536h8v8h-8zM368 640h8v8h-8zM344 696h8v8h-8zM336 720h8v8h-8zM328 752h8v8h-8z"/>
<path fill="#2f2f2f" d="M616 256h8v8h-8zM576 288h8v8h-8zM552 312h8v8h-8zM544 336h8v8h-8zM440 344h8v8h-8zM432 352h8v8h-8zM384 464h8v8h-8zM424 480h8v8h-8zM376 488h8v8h-8zM368 512h8v8h-8zM416 560h8v8h-8zM400 592h8v8h-8zM712 592h8v8h-8zM384 616h8v8h-8zM360 656h8v8h-8zM352 672h8v8h-8zM320 792h8v8h-8z"/>
<path fill="#303030" d="M600 264h8v8h-8zM584 280h8v8h-8zM536 288h8v8h-8zM512 296h8v8h-8zM488 304h8v8h-8zM544 320h8v8h-8zM688 328h8v8h-8zM560 352h8v8h-8zM656 352h8v8h-8zM608 376h8v8h-8zM392 432h8v8h-8zM368 520h8v8h-8zM368 528h16v8h-16zM424 528h8v8h-8zM416 568h8v8h-8zM336 728h8v8h-8zM328 760h8v8h-8z"/>
<path fill="#313131" d="M896 208h8v8h-8zM592 272h8v8h-8zM560 280h8v8h-8zM480 312h8v8h-8zM592 368h8v8h-8zM416 376h8v8h-8zM384 472h8v8h-8zM424 472h8v8h-8zM384 520h8v8h-8zM408 584h8v8h-8zM392 608h8v8h-8zM376 632h8v8h-8zM664 640h8v8h-8zM352 680h8v8h-8zM632 680h8v8h-8zM344 704h8v8h-8zM616 704h8v8h-8zM320 800h8v8h-8z"/>
<path fill="#323232" d="M584 272h8v8h-8zM400 408h8v8h-8zM392 440h8v8h-8zM416 488h8v8h-8zM376 496h8v8h-8zM368 648h8v8h-8zM336 736h8v8h-8z"/>
<path fill="#333333" d="M520 296h8v8h-8zM560 296h8v8h-8zM496 304h8v8h-8zM552 304h8v8h-8zM472 320h8v8h-8zM536 328h8v8h-8zM536 336h8v8h-8zM544 344h8v8h-8zM576 360h8v8h-8zM408 392h8v8h-8zM408 496h8v8h-8zM400 504h8v8h-8zM392 512h8v8h-8zM424 536h8v8h-8zM416 576h8v8h-8zM384 624h8v8h-8zM360 664h8v8h-8zM344 712h8v8h-8zM328 768h8v8h-8z"/>
<path fill="#343434" d="M544 288h8v8h-8zM568 288h8v8h-8zM544 312h8v8h-8zM464 328h8v8h-8zM600 376h8v8h-8zM392 448h8v8h-8zM424 464h8v8h-8zM384 480h8v8h-8zM376 504h8v8h-8zM376 520h8v8h-8zM400 600h8v8h-8zM632 664h8v8h-8zM352 688h8v8h-8zM320 808h8v8h-8z"/>
<path fill="#353535" d="M568 280h16v8h-16zM536 320h8v8h-8zM456 336h8v8h-8zM552 352h8v8h-8zM424 368h8v8h-8zM400 416h8v8h-8zM880 464h8v8h-8zM416 480h8v8h-8zM376 512h8v8h-8zM424 544h8v8h-8zM760 552h8v8h-8zM680 584h8v8h-8zM376 640h8v8h-8zM336 744h8v8h-8zM328 776h8v8h-8z"/>
<path fill="#363636" d="M504 304h8v8h-8zM448 344h8v8h-8zM616 376h8v8h-8zM392 456h8v8h-8zM424 456h8v8h-8zM432 504h8v8h-8zM424 552h8v8h-8zM408 592h8v8h-8zM392 616h8v8h-8zM368 656h8v8h-8zM360 672h8v8h-8zM352 696h8v8h-8zM608 712h8v8h-8zM344 720h8v8h-8zM320 816h8v8h-8z"/>
<path fill="#373737" d="M784 264h8v8h-8zM528 296h8v8h-8zM488 312h8v8h-8zM528 328h8v8h-8zM528 336h8v8h-8zM536 344h8v8h-8zM440 352h8v8h-8zM568 360h8v8h-8zM584 368h8v8h-8zM416 384h8v8h-8zM416 472h8v8h-8zM384 488h8v8h-8zM432 496h8v8h-8zM832 496h8v8h-8zM384 512h8v8h-8zM704 600h8v8h-8zM384 632h8v8h-8zM672 632h8v8h-8zM336 752h8v8h-8zM328 784h8v8h-8z"/>
<path fill="#383838" d="M552 288h16v8h-16zM552 296h8v8h-8zM544 304h8v8h-8zM536 312h8v8h-8zM712 312h8v8h-8zM480 320h8v8h-8zM680 336h8v8h-8zM432 360h8v8h-8zM408 400h8v8h-8zM400 424h8v8h-8zM392 464h8v8h-8zM432 488h8v8h-8zM432 512h8v8h-8zM800 520h8v8h-8zM424 560h8v8h-8zM416 584h8v8h-8zM400 608h8v8h-8zM640 648h8v8h-8z"/>
<path fill="#393939" d="M880 216h8v8h-8zM512 304h8v8h-8zM528 320h8v8h-8zM632 368h8v8h-8zM424 448h8v8h-8zM392 472h8v8h-8zM432 480h8v8h-8zM384 496h8v8h-8zM392 504h8v8h-8zM376 648h8v8h-8zM360 680h8v8h-8zM352 704h8v8h-8zM344 728h8v8h-8z"/>
<path fill="#3a3a3a" d="M472 328h8v8h-8zM520 336h8v8h-8zM528 344h8v8h-8zM544 352h8v8h-8zM592 376h8v8h-8zM416 464h8v8h-8zM856 480h8v8h-8zM408 488h8v8h-8zM400 496h8v8h-8zM384 504h8v8h-8zM424 568h8v8h-8zM408 600h8v8h-8zM392 624h8v8h-8zM368 664h8v8h-8zM336 760h8v8h-8zM328 792h8v8h-8z"/>
<path fill="#3b3b3b" d="M536 296h8v8h-8zM520 328h8v8h-8zM424 376h8v8h-8zM888 400h8v8h-8zM400 432h8v8h-8zM424 440h8v8h-8zM432 472h8v8h-8zM392 480h8v8h-8zM432 520h8v8h-8zM752 560h8v8h-8zM424 576h8v8h-8zM680 624h8v8h-8zM344 736h8v8h-8z"/>
<path fill="#3c3c3c" d="M544 296h8v8h-8zM736 296h8v8h-8zM536 304h8v8h-8zM496 312h8v8h-8zM464 336h8v8h-8zM520 344h8v8h-8zM560 360h8v8h-8zM648 360h8v8h-8zM432 464h8v8h-8zM384 640h8v8h-8zM360 688h8v8h-8zM352 712h8v8h-8zM608 720h8v8h-8z"/>
<path fill="#3d3d3d" d="M800 256h8v8h-8zM760 280h8v8h-8zM520 304h8v8h-8zM528 312h8v8h-8zM520 320h8v8h-8zM512 336h8v8h-8zM456 344h8v8h-8zM672 344h8v8h-8zM536 352h8v8h-8zM576 368h8v8h-8zM416 392h8v8h-8zM424 432h16v8h-16zM400 440h8v8h-8zM432 440h8v8h-8zM432 448h8v8h-8zM416 456h8v8h-8zM432 456h8v8h-8zM432 528h8v8h-8zM416 592h8v8h-8zM696 608h8v8h-8zM400 616h8v8h-8zM688 616h8v8h-8zM376 656h8v8h-8zM336 768h8v8h-8zM328 800h8v8h-8z"/>
<path fill="#3e3e3e" d="M864 224h8v8h-8zM488 320h8v8h-8zM512 328h8v8h-8zM512 344h8v8h-8zM600 384h8v8h-8zM408 408h8v8h-8zM432 424h8v8h-8zM400 448h8v8h-8zM408 480h8v8h-8zM392 488h8v8h-8zM392 496h8v8h-8zM392 632h8v8h-8zM368 672h8v8h-8zM360 696h8v8h-8zM344 744h8v8h-8z"/>
<path fill="#3f3f3f" d="M816 248h8v8h-8zM528 304h8v8h-8zM504 312h8v8h-8zM448 352h8v8h-8zM528 352h8v8h-8zM552 360h8v8h-8zM432 368h8v8h-8zM424 424h8v8h-8zM416 448h8v8h-8zM432 536h8v8h-8zM424 584h8v8h-8zM408 608h8v8h-8zM624 696h8v8h-8zM352 720h8v8h-8zM336 776h8v8h-8zM328 808h8v8h-8z"/>
<path fill="#404040" d="M848 232h8v8h-8zM704 320h8v8h-8zM480 328h8v8h-8zM504 336h8v8h-8zM504 344h8v8h-8zM440 360h8v8h-8zM584 376h8v8h-8zM400 456h8v8h-8zM896 456h8v8h-8zM400 488h8v8h-8zM744 568h8v8h-8zM384 648h8v8h-8z"/>
<path fill="#414141" d="M832 240h8v8h-8zM520 312h8v8h-8zM512 320h8v8h-8zM520 352h8v8h-8zM664 352h8v8h-8zM424 384h8v8h-8zM592 384h8v8h-8zM408 416h8v8h-8zM400 464h8v8h-8zM408 472h8v8h-8zM432 544h8v8h-8zM416 600h8v8h-8zM400 624h8v8h-8zM376 664h8v8h-8zM368 680h8v8h-8zM360 704h8v8h-8zM352 728h8v8h-8zM344 752h8v8h-8z"/>
<path fill="#424242" d="M512 312h8v8h-8zM504 328h8v8h-8zM472 336h8v8h-8zM496 344h8v8h-8zM512 352h8v8h-8zM568 368h8v8h-8zM416 400h8v8h-8zM432 416h8v8h-8zM864 416h8v8h-8zM416 440h8v8h-8zM400 472h8v8h-8zM432 552h8v8h-8zM336 784h8v8h-8zM328 816h8v8h-8z"/>
<path fill="#434343" d="M496 320h8v8h-8zM496 336h8v8h-8zM504 352h8v8h-8zM544 360h8v8h-8zM608 384h8v8h-8zM408 424h8v8h-8zM408 464h8v8h-8zM400 480h8v8h-8zM792 528h8v8h-8zM432 560h8v8h-8zM392 640h8v8h-8zM368 688h8v8h-8z"/>
<path fill="#444444" d="M904 208h8v8h-8zM728 304h8v8h-8zM504 320h8v8h-8zM696 328h8v8h-8zM464 344h8v8h-8zM488 344h8v8h-8zM496 352h8v8h-8zM624 376h8v8h-8zM424 416h8v8h-8zM416 432h8v8h-8zM432 568h8v8h-8zM424 592h8v8h-8zM408 616h8v8h-8zM384 656h8v8h-8zM360 712h8v8h-8zM352 736h8v8h-8zM344 760h8v8h-8z"/>
<path fill="#454545" d="M488 328h16v8h-16zM456 352h8v8h-8zM488 352h8v8h-8zM536 360h8v8h-8zM432 376h8v8h-8zM432 408h8v8h-8zM440 416h8v8h-8zM408 432h8v8h-8zM408 456h8v8h-8zM432 576h8v8h-8zM400 632h8v8h-8zM376 672h8v8h-8zM640 672h8v8h-8zM336 792h8v8h-8z"/>
<path fill="#464646" d="M776 272h8v8h-8zM752 288h8v8h-8zM480 336h16v8h-16zM480 352h8v8h-8zM640 368h8v8h-8zM576 376h8v8h-8zM440 408h8v8h-8zM440 424h8v8h-8zM440 432h8v8h-8zM408 440h8v8h-8zM408 448h8v8h-8zM824 504h8v8h-8zM432 584h8v8h-8zM416 608h8v8h-8zM368 696h8v8h-8z"/>
<path fill="#474747" d="M888 216h8v8h-8zM688 336h8v8h-8zM480 344h8v8h-8zM448 360h8v8h-8zM480 360h32v8h-32zM528 360h8v8h-8zM656 360h8v8h-8zM560 368h8v8h-8zM424 392h8v8h-8zM416 408h8v8h-8zM416 424h8v8h-8zM440 440h8v8h-8zM440 448h8v8h-8zM440 456h8v8h-8zM440 464h8v8h-8zM440 472h8v8h-8zM440 480h8v8h-8zM440 488h8v8h-8zM440 496h8v8h-8zM392 648h8v8h-8zM360 720h8v8h-8zM600 728h8v8h-8zM600 736h8v8h-8zM352 744h8v8h-8zM344 768h8v8h-8z"/>
<path fill="#484848" d="M872 224h8v8h-8zM792 264h8v8h-8zM720 312h8v8h-8zM472 344h8v8h-8zM680 344h8v8h-8zM472 352h8v8h-8zM472 360h8v8h-8zM512 360h16v8h-16zM440 368h8v8h-8zM584 384h8v8h-8zM432 400h16v8h-16zM424 408h8v8h-8zM912 448h8v8h-8zM440 504h8v8h-8zM424 600h8v8h-8zM408 624h8v8h-8zM384 664h8v8h-8zM376 680h8v8h-8zM336 800h8v8h-8z"/>
<path fill="#494949" d="M912 208h8v8h-8zM856 232h8v8h-8zM840 240h8v8h-8zM824 248h8v8h-8zM808 256h8v8h-8zM768 280h8v8h-8zM744 296h8v8h-8zM712 320h8v8h-8zM464 352h8v8h-8zM672 352h8v8h-8zM464 360h8v8h-8zM472 368h8v8h-8zM416 416h8v8h-8zM440 512h8v8h-8zM368 704h8v8h-8zM344 776h8v8h-8z"/>
<path fill="#4a4a4a" d="M896 216h8v8h-8zM784 272h8v8h-8zM736 304h8v8h-8zM704 328h8v8h-8zM456 360h8v8h-8zM464 368h8v8h-8zM480 368h16v8h-16zM552 368h8v8h-8zM432 384h8v8h-8zM616 384h8v8h-8zM432 392h16v8h-16zM424 400h8v8h-8zM448 400h8v8h-8zM872 472h8v8h-8zM440 520h8v8h-8zM736 576h8v8h-8zM400 640h8v8h-8zM360 728h8v8h-8zM352 752h8v8h-8zM336 808h8v8h-8z"/>
<path fill="#4b4b4b" d="M880 224h8v8h-8zM864 232h8v8h-8zM848 240h8v8h-8zM832 248h8v8h-8zM816 256h8v8h-8zM800 264h8v8h-8zM760 288h8v8h-8zM664 360h8v8h-8zM448 368h16v8h-16zM648 368h8v8h-8zM464 376h8v8h-8zM632 376h8v8h-8zM440 384h8v8h-8zM912 384h8v8h-8zM448 392h8v8h-8zM592 392h8v8h-8zM448 408h8v8h-8zM440 528h8v8h-8zM432 592h8v8h-8zM416 616h8v8h-8zM392 656h8v8h-8zM384 672h8v8h-8zM376 688h8v8h-8zM616 712h8v8h-8z"/>
<path fill="#4c4c4c" d="M904 216h8v8h-8zM776 280h8v8h-8zM752 296h8v8h-8zM728 312h8v8h-8zM696 336h8v8h-8zM496 368h8v8h-8zM440 376h8v8h-8zM456 376h8v8h-8zM472 376h8v8h-8zM568 376h8v8h-8zM600 392h8v8h-8zM448 416h8v8h-8zM440 536h8v8h-8zM408 632h8v8h-8zM368 712h8v8h-8zM360 736h8v8h-8zM352 760h8v8h-8zM344 784h8v8h-8zM336 816h8v8h-8z"/>
<path fill="#4d4d4d" d="M888 224h8v8h-8zM872 232h8v8h-8zM792 272h8v8h-8zM720 320h8v8h-8zM688 344h8v8h-8zM448 376h8v8h-8zM480 376h8v8h-8zM448 384h8v8h-8zM448 424h8v8h-8zM848 488h8v8h-8zM784 536h8v8h-8zM440 544h8v8h-8zM424 608h8v8h-8zM400 648h8v8h-8zM376 696h8v8h-8zM344 792h8v8h-8z"/>
<path fill="#4e4e4e" d="M912 216h8v8h-8zM856 240h8v8h-8zM840 248h8v8h-8zM824 256h8v8h-8zM808 264h8v8h-8zM768 288h8v8h-8zM744 304h8v8h-8zM712 328h8v8h-8zM680 352h8v8h-8zM672 360h8v8h-8zM504 368h8v8h-8zM544 368h8v8h-8zM656 368h8v8h-8zM640 376h8v8h-8zM624 384h8v8h-8zM608 392h8v8h-8zM448 432h8v8h-8zM440 552h8v8h-8zM440 560h8v8h-8zM392 664h8v8h-8zM384 680h8v8h-8zM368 720h8v8h-8zM360 744h8v8h-8zM352 768h8v8h-8z"/>
<path fill="#4f4f4f" d="M896 224h8v8h-8zM784 280h8v8h-8zM760 296h8v8h-8zM736 312h8v8h-8zM704 336h8v8h-8zM464 384h16v8h-16zM576 384h8v8h-8zM456 392h8v8h-8zM840 432h8v8h-8zM448 440h8v8h-8zM440 568h8v8h-8zM440 576h8v8h-8zM416 624h8v8h-8zM376 704h8v8h-8zM352 776h8v8h-8zM344 800h8v8h-8z"/>
<path fill="#505050" d="M880 232h8v8h-8zM864 240h8v8h-8zM848 248h8v8h-8zM832 256h8v8h-8zM816 264h8v8h-8zM800 272h8v8h-8zM512 368h8v8h-8zM536 368h8v8h-8zM488 376h8v8h-8zM456 384h8v8h-8zM456 400h8v8h-8zM808 456h8v8h-8zM440 584h8v8h-8zM432 600h8v8h-8zM408 640h8v8h-8zM400 656h8v8h-8zM384 688h8v8h-8zM368 728h8v8h-8zM360 752h8v8h-8zM344 808h8v8h-8z"/>
<path fill="#515151" d="M904 224h8v8h-8zM776 288h8v8h-8zM752 304h8v8h-8zM728 320h8v8h-8zM696 344h8v8h-8zM520 368h16v8h-16zM664 368h8v8h-8zM648 376h8v8h-8zM632 384h8v8h-8zM584 392h8v8h-8zM616 392h8v8h-8zM456 408h8v8h-8zM448 448h8v8h-8zM448 456h8v8h-8zM448 464h8v8h-8zM448 472h8v8h-8zM448 480h8v8h-8zM448 488h8v8h-8zM424 616h8v8h-8zM392 672h8v8h-8zM608 704h8v8h-8zM376 712h8v8h-8zM368 736h8v8h-8zM360 760h8v8h-8zM352 784h8v8h-8zM344 816h8v8h-8z"/>
<path fill="#525252" d="M888 232h8v8h-8zM872 240h8v8h-8zM808 272h8v8h-8zM792 280h8v8h-8zM720 328h8v8h-8zM688 352h8v8h-8zM560 376h8v8h-8zM448 496h8v8h-8zM448 504h8v8h-8zM448 512h8v8h-8zM448 520h8v8h-8zM440 592h8v8h-8zM416 632h8v8h-8zM384 696h8v8h-8zM352 792h8v8h-8z"/>
<path fill="#535353" d="M912 224h8v8h-8zM856 248h8v8h-8zM840 256h8v8h-8zM824 264h8v8h-8zM768 296h8v8h-8zM744 312h8v8h-8zM712 336h8v8h-8zM680 360h8v8h-8zM480 384h8v8h-8zM456 416h8v8h-8zM448 528h8v8h-8zM408 648h8v8h-8zM400 664h8v8h-8zM392 680h8v8h-8zM616 688h8v8h-8zM376 720h8v8h-8zM368 744h8v8h-8zM360 768h8v8h-8z"/>
<path fill="#545454" d="M896 232h8v8h-8zM784 288h8v8h-8zM760 304h8v8h-8zM736 320h8v8h-8zM704 344h8v8h-8zM672 368h8v8h-8zM496 376h8v8h-8zM656 376h8v8h-8zM640 384h8v8h-8zM624 392h8v8h-8zM600 400h8v8h-8zM816 512h8v8h-8zM448 536h8v8h-8zM432 608h8v8h-8zM384 704h8v8h-8zM608 728h8v8h-8zM592 752h8v8h-8zM360 776h8v8h-8zM352 800h8v8h-8z"/>
<path fill="#555555" d="M880 240h8v8h-8zM864 248h8v8h-8zM848 256h8v8h-8zM832 264h8v8h-8zM816 272h8v8h-8zM800 280h8v8h-8zM592 400h8v8h-8zM608 400h8v8h-8zM456 424h8v8h-8zM448 544h8v8h-8zM424 624h8v8h-8zM392 688h8v8h-8zM376 728h8v8h-8zM368 752h8v8h-8zM352 808h8v8h-8z"/>
<path fill="#565656" d="M904 232h8v8h-8zM776 296h8v8h-8zM752 312h8v8h-8zM728 328h8v8h-8zM696 352h8v8h-8zM464 392h8v8h-8zM776 544h8v8h-8zM448 552h8v8h-8zM728 584h8v8h-8zM416 640h8v8h-8zM408 656h8v8h-8zM400 672h8v8h-8zM384 712h8v8h-8zM376 736h8v8h-8zM368 760h8v8h-8zM360 784h8v8h-8zM352 816h8v8h-8z"/>
<path fill="#575757" d="M888 240h8v8h-8zM872 248h8v8h-8zM808 280h8v8h-8zM792 288h8v8h-8zM720 336h8v8h-8zM688 360h8v8h-8zM552 376h8v8h-8zM664 376h8v8h-8zM568 384h8v8h-8zM648 384h8v8h-8zM632 392h8v8h-8zM616 400h8v8h-8zM888 464h8v8h-8zM448 560h8v8h-8zM672 592h8v8h-8zM440 600h8v8h-8zM392 696h8v8h-8zM360 792h8v8h-8z"/>
<path fill="#585858" d="M912 232h8v8h-8zM856 256h8v8h-8zM840 264h8v8h-8zM824 272h8v8h-8zM768 304h8v8h-8zM744 320h8v8h-8zM712 344h8v8h-8zM680 368h8v8h-8zM504 376h8v8h-8zM488 384h8v8h-8zM456 432h8v8h-8zM448 568h8v8h-8zM432 616h8v8h-8zM424 632h8v8h-8zM408 664h8v8h-8zM400 680h8v8h-8zM384 720h8v8h-8zM376 744h8v8h-8zM368 768h8v8h-8z"/>
<path fill="#595959" d="M896 240h8v8h-8zM784 296h8v8h-8zM760 312h8v8h-8zM736 328h8v8h-8zM704 352h8v8h-8zM472 392h8v8h-8zM456 520h8v8h-8zM448 576h8v8h-8zM416 648h8v8h-8zM392 704h8v8h-8zM368 776h8v8h-8zM360 800h8v8h-8z"/>
<path fill="#5a5a5a" d="M880 248h8v8h-8zM864 256h8v8h-8zM848 264h8v8h-8zM832 272h8v8h-8zM816 280h8v8h-8zM800 288h8v8h-8zM728 336h8v8h-8zM672 376h8v8h-8zM656 384h8v8h-8zM576 392h8v8h-8zM640 392h8v8h-8zM464 400h8v8h-8zM624 400h8v8h-8zM456 504h8v8h-8zM456 512h8v8h-8zM456 528h8v8h-8zM448 584h8v8h-8zM400 688h8v8h-8zM384 728h8v8h-8zM376 752h8v8h-8zM360 808h8v8h-8z"/>
<path fill="#5b5b5b" d="M904 240h8v8h-8zM776 304h8v8h-8zM752 320h8v8h-8zM696 360h8v8h-8zM512 376h8v8h-8zM544 376h8v8h-8zM584 400h8v8h-8zM456 488h8v8h-8zM456 496h8v8h-8zM456 536h8v8h-8zM448 592h8v8h-8zM440 608h8v8h-8zM416 656h8v8h-8zM408 672h8v8h-8zM392 712h8v8h-8zM384 736h8v8h-8zM600 744h8v8h-8zM376 760h8v8h-8zM368 784h8v8h-8zM360 816h8v8h-8z"/>
<path fill="#5c5c5c" d="M888 248h8v8h-8zM872 256h8v8h-8zM808 288h8v8h-8zM792 296h8v8h-8zM768 312h8v8h-8zM744 328h8v8h-8zM720 344h8v8h-8zM688 368h8v8h-8zM600 408h16v8h-16zM456 440h8v8h-8zM456 480h8v8h-8zM456 544h8v8h-8zM432 624h8v8h-8zM424 640h8v8h-8zM632 688h8v8h-8zM400 696h8v8h-8zM592 744h8v8h-8zM368 792h8v8h-8z"/>
<path fill="#5d5d5d" d="M912 240h8v8h-8zM856 264h8v8h-8zM840 272h8v8h-8zM824 280h8v8h-8zM712 352h8v8h-8zM520 376h8v8h-8zM536 376h8v8h-8zM680 376h8v8h-8zM664 384h8v8h-8zM480 392h8v8h-8zM648 392h8v8h-8zM632 400h8v8h-8zM464 408h8v8h-8zM456 472h8v8h-8zM408 680h8v8h-8zM392 720h8v8h-8zM384 744h8v8h-8zM376 768h8v8h-8z"/>
<path fill="#5e5e5e" d="M896 248h8v8h-8zM784 304h8v8h-8zM760 320h8v8h-8zM736 336h8v8h-8zM528 376h8v8h-8zM496 384h8v8h-8zM560 384h8v8h-8zM616 408h8v8h-8zM840 496h8v8h-8zM456 552h8v8h-8zM768 552h8v8h-8zM416 664h8v8h-8zM400 704h8v8h-8zM376 776h8v8h-8zM368 800h8v8h-8z"/>
<path fill="#5f5f5f" d="M880 256h8v8h-8zM864 264h8v8h-8zM848 272h8v8h-8zM832 280h8v8h-8zM816 288h8v8h-8zM800 296h8v8h-8zM728 344h8v8h-8zM704 360h8v8h-8zM592 408h8v8h-8zM456 448h8v8h-8zM456 456h8v8h-8zM456 464h8v8h-8zM864 480h8v8h-8zM456 560h8v8h-8zM448 600h8v8h-8zM440 616h8v8h-8zM432 632h8v8h-8zM424 648h8v8h-8zM408 688h8v8h-8zM392 728h8v8h-8zM384 752h8v8h-8zM368 808h8v8h-8z"/>
<path fill="#606060" d="M904 248h8v8h-8zM776 312h8v8h-8zM752 328h8v8h-8zM696 368h8v8h-8zM672 384h8v8h-8zM656 392h8v8h-8zM464 416h8v8h-8zM808 520h8v8h-8zM456 568h8v8h-8zM416 672h8v8h-8zM400 712h8v8h-8zM392 736h8v8h-8zM384 760h8v8h-8zM376 784h8v8h-8zM368 816h8v8h-8z"/>
<path fill="#616161" d="M888 256h8v8h-8zM872 264h8v8h-8zM808 296h8v8h-8zM792 304h8v8h-8zM768 320h8v8h-8zM744 336h8v8h-8zM720 352h8v8h-8zM688 376h8v8h-8zM640 400h8v8h-8zM624 408h8v8h-8zM464 520h8v8h-8zM464 528h8v8h-8zM720 592h8v8h-8zM424 656h8v8h-8zM648 664h8v8h-8zM408 696h8v8h-8zM592 760h8v8h-8zM376 792h8v8h-8z"/>
<path fill="#626262" d="M912 248h8v8h-8zM856 272h8v8h-8zM840 280h8v8h-8zM824 288h8v8h-8zM784 312h8v8h-8zM712 360h8v8h-8zM568 392h8v8h-8zM904 456h8v8h-8zM464 512h8v8h-8zM464 536h8v8h-8zM456 576h8v8h-8zM440 624h8v8h-8zM432 640h8v8h-8zM400 720h8v8h-8zM600 720h8v8h-8zM392 744h8v8h-8zM384 768h8v8h-8z"/>
<path fill="#636363" d="M896 256h8v8h-8zM880 264h8v8h-8zM800 304h8v8h-8zM760 328h8v8h-8zM736 344h8v8h-8zM704 368h8v8h-8zM504 384h8v8h-8zM680 384h8v8h-8zM488 392h8v8h-8zM664 392h8v8h-8zM608 416h8v8h-8zM464 504h8v8h-8zM464 544h8v8h-8zM456 584h8v8h-8zM448 608h8v8h-8zM624 672h8v8h-8zM416 680h8v8h-8zM408 704h8v8h-8zM384 776h8v8h-8zM376 800h8v8h-8z"/>
<path fill="#646464" d="M864 272h8v8h-8zM848 280h8v8h-8zM832 288h8v8h-8zM816 296h8v8h-8zM776 320h8v8h-8zM752 336h8v8h-8zM728 352h8v8h-8zM552 384h8v8h-8zM472 400h8v8h-8zM576 400h8v8h-8zM648 400h8v8h-8zM632 408h8v8h-8zM600 416h8v8h-8zM616 416h8v8h-8zM464 424h8v8h-8zM464 496h8v8h-8zM760 560h8v8h-8zM456 592h8v8h-8zM648 624h8v8h-8zM432 648h8v8h-8zM424 664h8v8h-8zM400 728h8v8h-8zM392 752h8v8h-8zM376 808h8v8h-8z"/>
<path fill="#656565" d="M904 256h8v8h-8zM888 264h8v8h-8zM792 312h8v8h-8zM696 376h8v8h-8zM464 552h8v8h-8zM440 632h8v8h-8zM416 688h8v8h-8zM408 712h8v8h-8zM384 784h8v8h-8zM376 816h8v8h-8z"/>
<path fill="#666666" d="M912 256h8v8h-8zM872 272h8v8h-8zM856 280h8v8h-8zM840 288h8v8h-8zM824 296h8v8h-8zM808 304h8v8h-8zM768 328h8v8h-8zM744 344h8v8h-8zM720 360h8v8h-8zM688 384h8v8h-8zM672 392h8v8h-8zM656 400h8v8h-8zM464 488h8v8h-8zM464 560h8v8h-8zM456 600h8v8h-8zM448 616h8v8h-8zM640 640h8v8h-8zM424 672h8v8h-8zM400 736h8v8h-8zM392 760h8v8h-8zM584 768h8v8h-8z"/>
<path fill="#676767" d="M896 264h8v8h-8zM880 272h8v8h-8zM800 312h8v8h-8zM784 320h8v8h-8zM760 336h8v8h-8zM736 352h8v8h-8zM712 368h8v8h-8zM512 384h8v8h-8zM584 408h8v8h-8zM640 408h8v8h-8zM624 416h8v8h-8zM464 432h8v8h-8zM464 568h8v8h-8zM432 656h8v8h-8zM416 696h8v8h-8zM408 720h8v8h-8zM392 768h8v8h-8zM384 792h8v8h-8z"/>
<path fill="#686868" d="M904 264h8v8h-8zM864 280h8v8h-8zM848 288h8v8h-8zM832 296h8v8h-8zM816 304h8v8h-8zM776 328h8v8h-8zM704 376h8v8h-8zM544 384h8v8h-8zM680 392h8v8h-8zM464 480h8v8h-8zM472 528h8v8h-8zM472 536h8v8h-8zM464 576h8v8h-8zM456 608h8v8h-8zM448 624h8v8h-8zM440 640h8v8h-8zM424 680h8v8h-8zM400 744h8v8h-8zM584 776h8v8h-8zM384 800h8v8h-8z"/>
<path fill="#696969" d="M888 272h8v8h-8zM872 280h8v8h-8zM792 320h8v8h-8zM752 344h8v8h-8zM728 360h8v8h-8zM696 384h8v8h-8zM496 392h8v8h-8zM560 392h8v8h-8zM480 400h8v8h-8zM664 400h8v8h-8zM472 408h8v8h-8zM648 408h8v8h-8zM592 416h8v8h-8zM464 440h8v8h-8zM472 520h8v8h-8zM472 544h8v8h-8zM752 568h8v8h-8zM464 584h8v8h-8zM432 664h8v8h-8zM416 704h8v8h-8zM408 728h8v8h-8zM400 752h8v8h-8zM392 776h8v8h-8zM384 808h8v8h-8z"/>
<path fill="#6a6a6a" d="M912 264h8v8h-8zM896 272h8v8h-8zM856 288h8v8h-8zM840 296h8v8h-8zM824 304h8v8h-8zM808 312h8v8h-8zM768 336h8v8h-8zM744 352h8v8h-8zM720 368h8v8h-8zM520 384h24v8h-24zM632 416h8v8h-8zM608 424h8v8h-8zM464 472h8v8h-8zM472 512h8v8h-8zM472 552h8v8h-8zM448 632h8v8h-8zM440 648h8v8h-8zM424 688h8v8h-8zM392 784h8v8h-8z"/>
<path fill="#6b6b6b" d="M880 280h8v8h-8zM864 288h8v8h-8zM800 320h8v8h-8zM784 328h8v8h-8zM760 344h8v8h-8zM712 376h8v8h-8zM688 392h8v8h-8zM616 424h8v8h-8zM464 448h8v8h-8zM472 504h8v8h-8zM800 528h8v8h-8zM464 592h8v8h-8zM456 616h8v8h-8zM432 672h8v8h-8zM416 712h8v8h-8zM408 736h8v8h-8zM400 760h8v8h-8zM384 816h8v8h-8z"/>
<path fill="#6c6c6c" d="M904 272h8v8h-8zM848 296h8v8h-8zM832 304h8v8h-8zM816 312h8v8h-8zM776 336h8v8h-8zM736 360h8v8h-8zM568 400h8v8h-8zM672 400h8v8h-8zM656 408h8v8h-8zM472 416h8v8h-8zM640 416h8v8h-8zM464 456h8v8h-8zM464 464h8v8h-8zM472 560h8v8h-8zM464 600h8v8h-8zM712 600h8v8h-8zM440 656h8v8h-8zM424 696h8v8h-8zM392 792h8v8h-8z"/>
<path fill="#6d6d6d" d="M912 272h8v8h-8zM888 280h8v8h-8zM872 288h8v8h-8zM856 296h8v8h-8zM792 328h8v8h-8zM752 352h8v8h-8zM728 368h8v8h-8zM704 384h8v8h-8zM504 392h8v8h-8zM600 424h8v8h-8zM624 424h8v8h-8zM472 496h8v8h-8zM752 504h8v8h-8zM832 504h8v8h-8zM472 568h8v8h-8zM456 624h8v8h-8zM448 640h8v8h-8zM432 680h8v8h-8zM416 720h8v8h-8zM408 744h8v8h-8zM400 768h8v8h-8zM576 792h8v8h-8zM392 800h8v8h-8z"/>
<path fill="#6e6e6e" d="M896 280h8v8h-8zM840 304h8v8h-8zM824 312h8v8h-8zM808 320h8v8h-8zM768 344h8v8h-8zM552 392h8v8h-8zM696 392h8v8h-8zM488 400h8v8h-8zM680 400h8v8h-8zM760 496h8v8h-8zM480 536h8v8h-8zM472 576h8v8h-8zM464 608h8v8h-8zM656 656h8v8h-8zM440 664h8v8h-8zM424 704h8v8h-8zM416 728h8v8h-8zM400 776h8v8h-8zM568 808h8v8h-8z"/>
<path fill="#6f6f6f" d="M880 288h8v8h-8zM864 296h8v8h-8zM800 328h8v8h-8zM784 336h8v8h-8zM744 360h8v8h-8zM720 376h8v8h-8zM664 408h8v8h-8zM648 416h8v8h-8zM472 424h8v8h-8zM632 424h8v8h-8zM880 472h8v8h-8zM472 488h8v8h-8zM480 528h8v8h-8zM480 544h8v8h-8zM744 576h8v8h-8zM448 648h8v8h-8zM432 688h8v8h-8zM408 752h8v8h-8zM392 808h8v8h-8z"/>
<path fill="#707070" d="M904 280h8v8h-8zM888 288h8v8h-8zM848 304h8v8h-8zM832 312h8v8h-8zM816 320h8v8h-8zM760 352h8v8h-8zM736 368h8v8h-8zM712 384h8v8h-8zM512 392h8v8h-8zM544 392h8v8h-8zM576 408h8v8h-8zM480 520h8v8h-8zM480 552h8v8h-8zM472 584h8v8h-8zM464 616h8v8h-8zM456 632h8v8h-8zM440 672h8v8h-8zM624 704h8v8h-8zM424 712h8v8h-8zM416 736h8v8h-8zM408 760h8v8h-8zM400 784h8v8h-8zM392 816h8v8h-8z"/>
<path fill="#717171" d="M912 280h8v8h-8zM872 296h8v8h-8zM856 304h8v8h-8zM792 336h8v8h-8zM776 344h8v8h-8zM752 360h8v8h-8zM520 392h8v8h-8zM704 392h8v8h-8zM496 400h8v8h-8zM560 400h8v8h-8zM688 400h8v8h-8zM480 408h8v8h-8zM672 408h8v8h-8zM472 432h8v8h-8zM616 432h8v8h-8zM472 480h8v8h-8zM480 512h8v8h-8zM744 512h8v8h-8zM472 592h8v8h-8zM448 656h8v8h-8zM432 696h8v8h-8zM400 792h8v8h-8z"/>
<path fill="#727272" d="M896 288h8v8h-8zM840 312h8v8h-8zM824 320h8v8h-8zM808 328h8v8h-8zM768 352h8v8h-8zM728 376h8v8h-8zM528 392h16v8h-16zM584 416h8v8h-8zM656 416h8v8h-8zM640 424h8v8h-8zM608 432h8v8h-8zM624 432h8v8h-8zM472 440h8v8h-8zM472 472h8v8h-8zM480 504h8v8h-8zM480 560h8v8h-8zM472 600h8v8h-8zM456 640h8v8h-8zM424 720h8v8h-8zM416 744h8v8h-8zM408 768h8v8h-8z"/>
<path fill="#737373" d="M904 288h8v8h-8zM880 296h8v8h-8zM864 304h8v8h-8zM848 312h8v8h-8zM800 336h8v8h-8zM784 344h8v8h-8zM744 368h8v8h-8zM720 384h8v8h-8zM504 400h8v8h-8zM696 400h8v8h-8zM480 416h8v8h-8zM472 448h8v8h-8zM472 456h8v8h-8zM472 464h8v8h-8zM856 488h8v8h-8zM480 496h8v8h-8zM480 568h8v8h-8zM472 608h8v8h-8zM464 624h8v8h-8zM440 680h8v8h-8zM432 704h8v8h-8zM584 760h8v8h-8zM400 800h8v8h-8z"/>
<path fill="#747474" d="M888 296h8v8h-8zM832 320h8v8h-8zM816 328h8v8h-8zM760 360h8v8h-8zM512 400h8v8h-8zM552 400h8v8h-8zM488 408h8v8h-8zM680 408h8v8h-8zM664 416h8v8h-8zM592 424h8v8h-8zM480 576h8v8h-8zM448 664h8v8h-8zM424 728h8v8h-8zM416 752h8v8h-8zM408 776h8v8h-8zM400 808h8v8h-8z"/>
<path fill="#757575" d="M912 288h8v8h-8zM872 304h8v8h-8zM856 312h8v8h-8zM792 344h8v8h-8zM776 352h8v8h-8zM736 376h8v8h-8zM712 392h8v8h-8zM520 400h32v8h-32zM496 408h8v8h-8zM568 408h8v8h-8zM480 424h8v8h-8zM648 424h8v8h-8zM480 432h8v8h-8zM632 432h8v8h-8zM480 488h8v8h-8zM792 536h8v8h-8zM488 544h8v8h-8zM464 632h8v8h-8zM456 648h8v8h-8zM440 688h8v8h-8zM432 712h8v8h-8zM408 784h8v8h-8z"/>
<path fill="#767676" d="M896 296h8v8h-8zM880 304h8v8h-8zM840 320h8v8h-8zM824 328h8v8h-8zM808 336h8v8h-8zM752 368h8v8h-8zM728 384h8v8h-8zM704 400h8v8h-8zM504 408h16v8h-16zM688 408h8v8h-8zM488 416h8v8h-8zM488 424h8v8h-8zM600 432h8v8h-8zM480 440h8v8h-8zM480 448h8v8h-8zM480 456h8v8h-8zM480 464h8v8h-8zM480 472h8v8h-8zM480 480h8v8h-8zM768 488h8v8h-8zM488 528h8v8h-8zM488 536h8v8h-8zM488 552h8v8h-8zM480 584h8v8h-8zM472 616h8v8h-8zM664 648h8v8h-8zM448 672h8v8h-8zM424 736h8v8h-8zM416 760h8v8h-8zM400 816h8v8h-8z"/>
<path fill="#777777" d="M904 296h8v8h-8zM864 312h8v8h-8zM848 320h8v8h-8zM784 352h8v8h-8zM768 360h8v8h-8zM520 408h16v8h-16zM560 408h8v8h-8zM496 416h24v8h-24zM672 416h8v8h-8zM496 424h16v8h-16zM656 424h8v8h-8zM488 432h16v8h-16zM640 432h8v8h-8zM488 440h8v8h-8zM488 448h8v8h-8zM488 456h8v8h-8zM488 520h8v8h-8zM488 560h8v8h-8zM480 592h8v8h-8zM704 608h8v8h-8zM456 656h8v8h-8zM440 696h8v8h-8zM432 720h8v8h-8zM592 736h8v8h-8zM416 768h8v8h-8zM576 784h8v8h-8zM408 792h8v8h-8zM568 816h8v8h-8z"/>
<path fill="#787878" d="M888 304h8v8h-8zM832 328h8v8h-8zM816 336h8v8h-8zM800 344h8v8h-8zM744 376h8v8h-8zM720 392h8v8h-8zM536 408h24v8h-24zM520 416h8v8h-8zM576 416h8v8h-8zM512 424h8v8h-8zM496 440h8v8h-8zM616 440h16v8h-16zM496 448h8v8h-8zM488 464h8v8h-8zM488 512h8v8h-8zM480 600h8v8h-8zM472 624h8v8h-8zM464 640h8v8h-8zM448 680h8v8h-8zM440 704h8v8h-8zM424 744h8v8h-8zM408 800h8v8h-8z"/>
<path fill="#797979" d="M912 296h8v8h-8zM872 312h8v8h-8zM856 320h8v8h-8zM776 360h8v8h-8zM760 368h8v8h-8zM736 384h8v8h-8zM896 392h8v8h-8zM696 408h8v8h-8zM872 408h8v8h-8zM528 416h8v8h-8zM680 416h8v8h-8zM520 424h8v8h-8zM504 432h8v8h-8zM504 440h8v8h-8zM496 456h8v8h-8zM488 472h8v8h-8zM488 504h8v8h-8zM488 568h8v8h-8zM456 664h8v8h-8zM432 728h8v8h-8zM424 752h8v8h-8zM416 776h8v8h-8zM584 784h8v8h-8zM568 800h16v8h-16z"/>
<path fill="#7a7a7a" d="M896 304h8v8h-8zM880 312h8v8h-8zM840 328h8v8h-8zM824 336h8v8h-8zM808 344h8v8h-8zM792 352h8v8h-8zM752 376h8v8h-8zM712 400h8v8h-8zM536 416h8v8h-8zM664 424h8v8h-8zM648 432h8v8h-8zM608 440h8v8h-8zM632 440h8v8h-8zM496 464h8v8h-8zM488 480h8v8h-8zM488 488h8v8h-8zM488 496h8v8h-8zM488 576h8v8h-8zM480 608h8v8h-8zM672 640h8v8h-8zM464 648h8v8h-8zM632 656h8v8h-8zM448 688h8v8h-8zM440 712h8v8h-8zM408 808h8v8h-8z"/>
<path fill="#7b7b7b" d="M904 304h8v8h-8zM864 320h8v8h-8zM848 328h8v8h-8zM768 368h8v8h-8zM728 392h8v8h-8zM704 408h8v8h-8zM544 416h8v8h-8zM568 416h8v8h-8zM528 424h8v8h-8zM584 424h8v8h-8zM512 432h8v8h-8zM504 448h8v8h-8zM816 448h8v8h-8zM736 520h8v8h-8zM480 616h8v8h-8zM696 616h8v8h-8zM472 632h8v8h-8zM456 672h8v8h-8zM432 736h8v8h-8zM424 760h8v8h-8zM416 784h8v8h-8zM408 816h8v8h-8z"/>
<path fill="#7c7c7c" d="M912 304h8v8h-8zM888 312h8v8h-8zM832 336h8v8h-8zM816 344h8v8h-8zM800 352h8v8h-8zM784 360h8v8h-8zM744 384h8v8h-8zM552 416h16v8h-16zM688 416h8v8h-8zM520 432h8v8h-8zM592 432h8v8h-8zM896 464h8v8h-8zM824 512h8v8h-8zM496 544h8v8h-8zM496 552h8v8h-8zM488 584h8v8h-8zM688 624h8v8h-8zM680 632h8v8h-8zM464 656h8v8h-8zM448 696h8v8h-8zM440 720h8v8h-8zM616 720h8v8h-8zM592 768h8v8h-8zM416 792h8v8h-8zM560 816h8v8h-8z"/>
<path fill="#7d7d7d" d="M896 312h8v8h-8zM872 320h8v8h-8zM856 328h8v8h-8zM760 376h8v8h-8zM720 400h8v8h-8zM536 424h8v8h-8zM672 424h8v8h-8zM656 432h8v8h-8zM640 440h8v8h-8zM496 536h8v8h-8zM496 560h8v8h-8zM736 584h8v8h-8zM488 592h8v8h-8zM472 640h8v8h-8zM456 680h8v8h-8zM432 744h8v8h-8zM424 768h8v8h-8z"/>
<path fill="#7e7e7e" d="M880 320h8v8h-8zM840 336h8v8h-8zM824 344h8v8h-8zM808 352h8v8h-8zM792 360h8v8h-8zM776 368h8v8h-8zM736 392h8v8h-8zM696 416h8v8h-8zM504 456h8v8h-8zM496 472h8v8h-8zM496 528h8v8h-8zM784 544h8v8h-8zM496 568h8v8h-8zM488 600h8v8h-8zM480 624h8v8h-8zM464 664h8v8h-8zM448 704h8v8h-8zM440 728h8v8h-8zM424 776h8v8h-8zM416 800h8v8h-8z"/>
<path fill="#7f7f7f" d="M904 312h8v8h-8zM864 328h8v8h-8zM752 384h8v8h-8zM712 408h8v8h-8zM680 424h8v8h-8zM528 432h8v8h-8zM512 440h8v8h-8zM600 440h8v8h-8zM624 448h8v8h-8zM496 512h8v8h-8zM496 520h8v8h-8zM472 648h8v8h-8zM456 688h8v8h-8zM448 712h8v8h-8zM432 752h8v8h-8zM416 808h8v8h-8z"/>
<path fill="#808080" d="M888 320h8v8h-8zM848 336h8v8h-8zM832 344h8v8h-8zM816 352h8v8h-8zM800 360h8v8h-8zM784 368h8v8h-8zM768 376h8v8h-8zM728 400h8v8h-8zM544 424h8v8h-8zM576 424h8v8h-8zM664 432h8v8h-8zM648 440h8v8h-8zM616 448h8v8h-8zM632 448h8v8h-8zM496 504h8v8h-8zM496 576h8v8h-8zM488 608h8v8h-8zM480 632h8v8h-8zM464 672h8v8h-8zM440 736h8v8h-8zM600 752h8v8h-8zM432 760h8v8h-8zM424 784h8v8h-8zM416 816h8v8h-8z"/>
<path fill="#818181" d="M912 312h8v8h-8zM872 328h8v8h-8zM744 392h8v8h-8zM704 416h8v8h-8zM504 464h8v8h-8zM496 480h8v8h-8zM496 496h8v8h-8zM496 584h8v8h-8zM488 616h8v8h-8zM472 656h8v8h-8zM456 696h8v8h-8zM448 720h8v8h-8zM608 736h8v8h-8zM440 744h8v8h-8zM432 768h8v8h-8zM424 792h8v8h-8z"/>
<path fill="#828282" d="M896 320h8v8h-8zM856 336h8v8h-8zM760 384h8v8h-8zM720 408h8v8h-8zM552 424h8v8h-8zM568 424h8v8h-8zM688 424h8v8h-8zM672 432h8v8h-8zM656 440h8v8h-8zM512 448h8v8h-8zM496 488h8v8h-8zM504 552h8v8h-8zM504 560h8v8h-8zM496 592h8v8h-8zM480 640h8v8h-8zM464 680h8v8h-8zM456 704h8v8h-8zM448 728h8v8h-8zM440 752h8v8h-8zM432 776h8v8h-8zM424 800h8v8h-8zM424 808h8v8h-8z"/>
<path fill="#838383" d="M880 328h8v8h-8zM840 344h8v8h-8zM824 352h8v8h-8zM808 360h8v8h-8zM792 368h8v8h-8zM776 376h8v8h-8zM736 400h8v8h-8zM560 424h8v8h-8zM536 432h8v8h-8zM584 432h8v8h-8zM608 448h8v8h-8zM640 448h8v8h-8zM504 536h8v8h-8zM504 544h8v8h-8zM504 568h8v8h-8zM488 624h8v8h-8zM472 664h8v8h-8zM464 688h8v8h-8zM456 712h8v8h-8zM448 736h8v8h-8zM440 760h8v8h-8zM432 784h8v8h-8zM424 816h8v8h-8z"/>
<path fill="#848484" d="M904 320h8v8h-8zM864 336h8v8h-8zM752 392h8v8h-8zM712 416h8v8h-8zM696 424h8v8h-8zM520 440h8v8h-8zM592 440h8v8h-8zM504 472h8v8h-8zM504 528h8v8h-8zM496 600h8v8h-8zM480 648h8v8h-8zM472 672h8v8h-8zM456 720h8v8h-8zM448 744h8v8h-8zM440 768h8v8h-8zM432 792h8v8h-8z"/>
<path fill="#858585" d="M848 344h8v8h-8zM832 352h8v8h-8zM784 376h8v8h-8zM768 384h8v8h-8zM728 408h8v8h-8zM848 424h8v8h-8zM680 432h8v8h-8zM664 440h8v8h-8zM648 448h8v8h-8zM512 456h8v8h-8zM912 456h8v8h-8zM872 480h8v8h-8zM848 496h8v8h-8zM504 520h8v8h-8zM504 576h8v8h-8zM496 608h8v8h-8zM488 632h8v8h-8zM464 696h8v8h-8zM440 776h8v8h-8zM432 800h8v8h-8zM432 808h8v8h-8z"/>
<path fill="#868686" d="M888 328h8v8h-8zM816 360h8v8h-8zM800 368h8v8h-8zM744 400h8v8h-8zM624 456h16v8h-16zM504 512h8v8h-8zM776 552h8v8h-8zM504 584h8v8h-8zM496 616h8v8h-8zM480 656h8v8h-8zM472 680h8v8h-8zM464 704h8v8h-8zM456 728h8v8h-8zM448 752h8v8h-8zM440 784h8v8h-8zM432 816h8v8h-8z"/>
<path fill="#878787" d="M912 320h8v8h-8zM872 336h8v8h-8zM760 392h8v8h-8zM720 416h8v8h-8zM704 424h8v8h-8zM544 432h8v8h-8zM688 432h8v8h-8zM504 480h8v8h-8zM504 504h8v8h-8zM488 640h8v8h-8zM480 664h8v8h-8zM472 688h8v8h-8zM464 712h8v8h-8zM456 736h8v8h-8zM448 760h8v8h-8zM448 768h8v8h-8zM440 792h8v8h-8z"/>
<path fill="#888888" d="M896 328h8v8h-8zM856 344h8v8h-8zM840 352h8v8h-8zM824 360h8v8h-8zM808 368h8v8h-8zM792 376h8v8h-8zM776 384h8v8h-8zM736 408h8v8h-8zM576 432h8v8h-8zM528 440h8v8h-8zM672 440h8v8h-8zM600 448h8v8h-8zM656 448h8v8h-8zM616 456h8v8h-8zM640 456h8v8h-8zM504 496h8v8h-8zM816 520h8v8h-8zM512 552h8v8h-8zM512 560h8v8h-8zM512 568h8v8h-8zM504 592h8v8h-8zM496 624h8v8h-8zM488 648h8v8h-8zM640 680h8v8h-8zM464 720h8v8h-8zM456 744h8v8h-8zM448 776h8v8h-8zM440 800h8v8h-8zM440 808h8v8h-8z"/>
<path fill="#898989" d="M880 336h8v8h-8zM752 400h8v8h-8zM712 424h8v8h-8zM512 464h8v8h-8zM504 488h8v8h-8zM512 536h8v8h-8zM512 544h8v8h-8zM504 600h8v8h-8zM664 600h8v8h-8zM496 632h8v8h-8zM480 672h8v8h-8zM472 696h8v8h-8zM464 728h8v8h-8zM456 752h8v8h-8zM448 784h8v8h-8zM440 816h8v8h-8z"/>
<path fill="#8a8a8a" d="M904 328h8v8h-8zM864 344h8v8h-8zM768 392h8v8h-8zM728 416h8v8h-8zM552 432h8v8h-8zM696 432h8v8h-8zM680 440h8v8h-8zM520 448h8v8h-8zM664 448h8v8h-8zM648 456h8v8h-8zM776 480h8v8h-8zM512 520h8v8h-8zM512 528h8v8h-8zM728 528h8v8h-8zM512 576h8v8h-8zM504 608h8v8h-8zM488 656h8v8h-8zM480 680h8v8h-8zM472 704h8v8h-8zM464 736h8v8h-8zM456 760h8v8h-8zM448 792h8v8h-8z"/>
<path fill="#8b8b8b" d="M888 336h8v8h-8zM848 352h8v8h-8zM832 360h8v8h-8zM816 368h8v8h-8zM800 376h8v8h-8zM784 384h8v8h-8zM744 408h8v8h-8zM568 432h8v8h-8zM584 440h8v8h-8zM608 456h8v8h-8zM512 584h8v8h-8zM728 592h8v8h-8zM496 640h8v8h-8zM480 688h8v8h-8zM472 712h8v8h-8zM472 720h8v8h-8zM464 744h8v8h-8zM456 768h8v8h-8zM576 776h8v8h-8zM448 800h8v8h-8zM448 808h8v8h-8z"/>
<path fill="#8c8c8c" d="M912 328h8v8h-8zM872 344h8v8h-8zM760 400h8v8h-8zM720 424h8v8h-8zM560 432h8v8h-8zM704 432h8v8h-8zM512 512h8v8h-8zM768 560h8v8h-8zM504 616h8v8h-8zM488 664h8v8h-8zM472 728h8v8h-8zM464 752h8v8h-8zM456 776h8v8h-8zM456 784h8v8h-8zM448 816h8v8h-8z"/>
<path fill="#8d8d8d" d="M856 352h8v8h-8zM776 392h8v8h-8zM736 416h8v8h-8zM536 440h8v8h-8zM688 440h8v8h-8zM672 448h8v8h-8zM656 456h8v8h-8zM624 464h24v8h-24zM512 472h8v8h-8zM512 592h8v8h-8zM504 624h8v8h-8zM496 648h8v8h-8zM488 672h8v8h-8zM480 696h8v8h-8zM584 752h8v8h-8zM464 760h8v8h-8zM456 792h8v8h-8z"/>
<path fill="#8e8e8e" d="M896 336h8v8h-8zM840 360h8v8h-8zM824 368h8v8h-8zM808 376h8v8h-8zM792 384h8v8h-8zM752 408h8v8h-8zM616 464h8v8h-8zM512 504h8v8h-8zM520 536h8v8h-8zM520 544h8v8h-8zM520 552h8v8h-8zM520 560h8v8h-8zM520 568h8v8h-8zM512 600h8v8h-8zM504 632h8v8h-8zM488 680h8v8h-8zM480 704h8v8h-8zM472 736h8v8h-8zM464 768h8v8h-8zM456 800h8v8h-8z"/>
<path fill="#8f8f8f" d="M880 344h8v8h-8zM768 400h8v8h-8zM728 424h8v8h-8zM712 432h8v8h-8zM696 440h8v8h-8zM592 448h8v8h-8zM680 448h8v8h-8zM664 456h8v8h-8zM648 464h8v8h-8zM512 480h8v8h-8zM512 496h8v8h-8zM520 528h8v8h-8zM520 576h8v8h-8zM496 656h8v8h-8zM480 712h8v8h-8zM480 720h8v8h-8zM472 744h8v8h-8zM464 776h8v8h-8zM568 792h8v8h-8zM456 808h8v8h-8zM456 816h8v8h-8z"/>
<path fill="#909090" d="M904 336h8v8h-8zM864 352h8v8h-8zM848 360h8v8h-8zM832 368h8v8h-8zM816 376h8v8h-8zM800 384h8v8h-8zM784 392h8v8h-8zM744 416h8v8h-8zM520 456h8v8h-8zM600 456h8v8h-8zM512 488h8v8h-8zM520 520h8v8h-8zM520 584h8v8h-8zM512 608h8v8h-8zM504 640h8v8h-8zM496 664h8v8h-8zM488 688h8v8h-8zM608 696h8v8h-8zM480 728h8v8h-8zM472 752h8v8h-8zM472 760h8v8h-8zM464 784h8v8h-8zM464 792h8v8h-8z"/>
<path fill="#919191" d="M888 344h8v8h-8zM720 432h8v8h-8zM608 464h8v8h-8zM760 568h8v8h-8zM512 616h8v8h-8zM488 696h8v8h-8zM480 736h8v8h-8zM472 768h8v8h-8zM464 800h8v8h-8z"/>
<path fill="#929292" d="M912 336h8v8h-8zM872 352h8v8h-8zM776 400h8v8h-8zM760 408h8v8h-8zM736 424h8v8h-8zM576 440h8v8h-8zM704 440h8v8h-8zM688 448h8v8h-8zM672 456h8v8h-8zM656 464h8v8h-8zM520 512h8v8h-8zM520 592h8v8h-8zM512 624h8v8h-8zM504 648h8v8h-8zM496 672h8v8h-8zM488 704h8v8h-8zM480 744h8v8h-8zM472 776h8v8h-8zM464 808h8v8h-8zM464 816h8v8h-8z"/>
<path fill="#939393" d="M856 360h8v8h-8zM840 368h8v8h-8zM824 376h8v8h-8zM808 384h8v8h-8zM792 392h8v8h-8zM544 440h8v8h-8zM528 448h8v8h-8zM624 472h24v8h-24zM808 528h8v8h-8zM528 536h8v8h-8zM528 544h8v8h-8zM528 552h8v8h-8zM528 560h8v8h-8zM520 600h8v8h-8zM504 656h8v8h-8zM496 680h8v8h-8zM488 712h8v8h-8zM488 720h8v8h-8zM480 752h8v8h-8zM472 784h8v8h-8zM560 808h8v8h-8z"/>
<path fill="#949494" d="M896 344h8v8h-8zM752 416h8v8h-8zM728 432h8v8h-8zM712 440h8v8h-8zM696 448h8v8h-8zM680 456h8v8h-8zM520 464h8v8h-8zM664 464h8v8h-8zM616 472h8v8h-8zM648 472h8v8h-8zM888 472h8v8h-8zM528 528h8v8h-8zM528 568h8v8h-8zM528 576h8v8h-8zM512 632h8v8h-8zM496 688h8v8h-8zM488 728h8v8h-8zM480 760h8v8h-8zM472 792h8v8h-8z"/>
<path fill="#959595" d="M880 352h8v8h-8zM864 360h8v8h-8zM784 400h8v8h-8zM768 408h8v8h-8zM520 504h8v8h-8zM840 504h8v8h-8zM528 520h8v8h-8zM752 576h8v8h-8zM528 584h8v8h-8zM520 608h8v8h-8zM512 640h8v8h-8zM504 664h8v8h-8zM496 696h8v8h-8zM488 736h8v8h-8zM480 768h8v8h-8zM472 800h8v8h-8z"/>
<path fill="#969696" d="M904 344h8v8h-8zM848 368h8v8h-8zM832 376h8v8h-8zM816 384h8v8h-8zM800 392h8v8h-8zM744 424h8v8h-8zM600 464h8v8h-8zM608 472h8v8h-8zM520 616h8v8h-8zM504 672h8v8h-8zM496 704h8v8h-8zM600 712h8v8h-8zM488 744h8v8h-8zM480 776h8v8h-8zM472 808h8v8h-8z"/>
<path fill="#979797" d="M888 352h8v8h-8zM760 416h8v8h-8zM736 432h8v8h-8zM552 440h8v8h-8zM568 440h8v8h-8zM720 440h8v8h-8zM704 448h8v8h-8zM688 456h8v8h-8zM672 464h8v8h-8zM656 472h8v8h-8zM520 496h8v8h-8zM528 592h8v8h-8zM520 624h8v8h-8zM512 648h8v8h-8zM504 680h8v8h-8zM496 712h8v8h-8zM496 720h8v8h-8zM488 752h8v8h-8z"/>
<path fill="#989898" d="M912 344h8v8h-8zM872 360h8v8h-8zM856 368h8v8h-8zM840 376h8v8h-8zM792 400h8v8h-8zM776 408h8v8h-8zM584 448h8v8h-8zM592 456h8v8h-8zM520 472h8v8h-8zM616 480h16v8h-16zM520 488h8v8h-8zM528 512h8v8h-8zM536 536h8v8h-8zM536 544h8v8h-8zM536 552h8v8h-8zM528 600h8v8h-8zM720 600h8v8h-8zM512 656h8v8h-8zM504 688h8v8h-8zM496 728h8v8h-8zM488 760h8v8h-8zM480 784h8v8h-8zM472 816h8v8h-8z"/>
<path fill="#999999" d="M896 352h8v8h-8zM824 384h8v8h-8zM808 392h8v8h-8zM752 424h8v8h-8zM560 440h8v8h-8zM728 440h8v8h-8zM664 472h8v8h-8zM520 480h8v8h-8zM632 480h16v8h-16zM864 488h8v8h-8zM536 528h8v8h-8zM536 560h8v8h-8zM536 568h8v8h-8zM536 576h8v8h-8zM520 632h8v8h-8zM504 696h8v8h-8zM496 736h8v8h-8zM480 792h8v8h-8z"/>
<path fill="#9a9a9a" d="M880 360h8v8h-8zM768 416h8v8h-8zM712 448h8v8h-8zM696 456h8v8h-8zM680 464h8v8h-8zM600 472h8v8h-8zM608 480h8v8h-8zM648 480h8v8h-8zM536 520h8v8h-8zM536 584h8v8h-8zM528 608h8v8h-8zM520 640h8v8h-8zM512 664h8v8h-8zM504 704h8v8h-8zM496 744h8v8h-8zM488 768h8v8h-8z"/>
<path fill="#9b9b9b" d="M864 368h8v8h-8zM848 376h8v8h-8zM832 384h8v8h-8zM816 392h8v8h-8zM800 400h8v8h-8zM784 408h8v8h-8zM744 432h8v8h-8zM528 504h8v8h-8zM528 616h8v8h-8zM512 672h8v8h-8zM504 712h8v8h-8zM488 776h8v8h-8zM480 800h8v8h-8z"/>
<path fill="#9c9c9c" d="M904 352h8v8h-8zM760 424h8v8h-8zM736 440h8v8h-8zM536 448h8v8h-8zM720 448h8v8h-8zM528 456h8v8h-8zM704 456h8v8h-8zM688 464h8v8h-8zM672 472h8v8h-8zM656 480h8v8h-8zM616 488h8v8h-8zM536 512h8v8h-8zM544 536h8v8h-8zM720 536h8v8h-8zM544 544h8v8h-8zM536 592h8v8h-8zM520 648h8v8h-8zM512 680h8v8h-8zM504 720h8v8h-8zM496 752h8v8h-8zM480 808h8v8h-8z"/>
<path fill="#9d9d9d" d="M888 360h8v8h-8zM872 368h8v8h-8zM792 408h8v8h-8zM776 416h8v8h-8zM600 480h8v8h-8zM608 488h8v8h-8zM624 488h8v8h-8zM544 528h8v8h-8zM800 536h8v8h-8zM544 552h8v8h-8zM544 560h8v8h-8zM536 600h8v8h-8zM528 624h8v8h-8zM520 656h8v8h-8zM616 680h8v8h-8zM512 688h8v8h-8zM504 728h8v8h-8zM496 760h8v8h-8zM488 784h8v8h-8z"/>
<path fill="#9e9e9e" d="M912 352h8v8h-8zM856 376h8v8h-8zM840 384h8v8h-8zM824 392h8v8h-8zM808 400h8v8h-8zM752 432h8v8h-8zM664 480h8v8h-8zM632 488h8v8h-8zM528 496h8v8h-8zM544 520h8v8h-8zM544 568h8v8h-8zM544 576h8v8h-8zM528 632h8v8h-8zM512 696h8v8h-8zM504 736h8v8h-8zM480 816h8v8h-8z"/>
<path fill="#9f9f9f" d="M768 424h8v8h-8zM744 440h8v8h-8zM728 448h8v8h-8zM712 456h8v8h-8zM592 464h8v8h-8zM696 464h8v8h-8zM680 472h8v8h-8zM600 488h8v8h-8zM640 488h8v8h-8zM544 584h8v8h-8zM536 608h8v8h-8zM520 664h8v8h-8zM512 704h8v8h-8zM504 744h8v8h-8zM496 768h8v8h-8zM488 792h8v8h-8zM576 808h8v8h-8z"/>
<path fill="#a0a0a0" d="M896 360h8v8h-8zM880 368h8v8h-8zM800 408h8v8h-8zM784 416h8v8h-8zM824 440h8v8h-8zM904 464h8v8h-8zM648 488h8v8h-8zM608 496h16v8h-16zM536 504h8v8h-8zM544 512h8v8h-8zM552 520h8v8h-8zM552 528h8v8h-8zM552 536h8v8h-8zM552 544h8v8h-8zM552 552h8v8h-8zM544 592h8v8h-8zM536 616h8v8h-8zM528 640h8v8h-8zM520 672h8v8h-8zM512 712h8v8h-8zM488 800h8v8h-8z"/>
<path fill="#a1a1a1" d="M864 376h8v8h-8zM848 384h8v8h-8zM832 392h8v8h-8zM816 400h8v8h-8zM760 432h8v8h-8zM736 448h8v8h-8zM720 456h8v8h-8zM704 464h8v8h-8zM688 472h8v8h-8zM784 472h8v8h-8zM672 480h8v8h-8zM656 488h8v8h-8zM600 496h8v8h-8zM624 496h8v8h-8zM560 520h8v8h-8zM560 528h8v8h-8zM552 560h8v8h-8zM552 568h8v8h-8zM744 584h8v8h-8zM544 600h8v8h-8zM536 624h8v8h-8zM528 648h8v8h-8zM520 680h8v8h-8zM520 688h8v8h-8zM512 720h8v8h-8zM504 752h8v8h-8zM576 768h8v8h-8zM496 776h8v8h-8z"/>
<path fill="#a2a2a2" d="M904 360h8v8h-8zM792 416h8v8h-8zM776 424h8v8h-8zM752 440h8v8h-8zM576 448h8v8h-8zM528 464h8v8h-8zM592 472h8v8h-8zM528 488h8v8h-8zM632 496h8v8h-8zM552 512h8v8h-8zM568 520h8v8h-8zM560 536h8v8h-8zM552 576h8v8h-8zM544 608h8v8h-8zM528 656h8v8h-8zM520 696h8v8h-8zM512 728h8v8h-8zM592 728h8v8h-8zM504 760h8v8h-8zM496 784h8v8h-8zM584 792h8v8h-8zM488 808h8v8h-8z"/>
<path fill="#a3a3a3" d="M888 368h8v8h-8zM824 400h8v8h-8zM808 408h8v8h-8zM768 432h8v8h-8zM728 456h8v8h-8zM712 464h8v8h-8zM696 472h8v8h-8zM592 480h8v8h-8zM680 480h8v8h-8zM592 488h8v8h-8zM664 488h8v8h-8zM592 496h8v8h-8zM640 496h8v8h-8zM600 504h16v8h-16zM560 512h8v8h-8zM832 512h8v8h-8zM576 520h8v8h-8zM568 528h8v8h-8zM560 544h8v8h-8zM560 552h8v8h-8zM552 584h8v8h-8zM552 592h8v8h-8zM536 632h8v8h-8zM528 664h8v8h-8zM520 704h8v8h-8zM512 736h8v8h-8z"/>
<path fill="#a4a4a4" d="M872 376h8v8h-8zM856 384h8v8h-8zM840 392h8v8h-8zM784 424h8v8h-8zM544 448h8v8h-8zM744 448h8v8h-8zM584 456h8v8h-8zM648 496h8v8h-8zM544 504h8v8h-8zM592 504h8v8h-8zM616 504h16v8h-16zM568 512h32v8h-32zM584 520h8v8h-8zM576 528h8v8h-8zM568 536h8v8h-8zM560 560h8v8h-8zM552 600h8v8h-8zM544 616h8v8h-8zM536 640h8v8h-8zM528 672h8v8h-8zM520 712h8v8h-8zM512 744h8v8h-8zM504 768h8v8h-8zM496 792h8v8h-8zM488 816h8v8h-8z"/>
<path fill="#a5a5a5" d="M912 360h8v8h-8zM880 400h8v8h-8zM800 416h8v8h-8zM760 440h8v8h-8zM528 472h8v8h-8zM704 472h8v8h-8zM528 480h8v8h-8zM688 480h8v8h-8zM672 488h8v8h-8zM584 504h8v8h-8zM632 504h8v8h-8zM600 512h16v8h-16zM592 520h8v8h-8zM584 528h8v8h-8zM576 536h8v8h-8zM568 544h8v8h-8zM560 568h8v8h-8zM560 576h8v8h-8zM552 608h8v8h-8zM544 624h8v8h-8zM536 648h8v8h-8zM528 680h8v8h-8zM520 720h8v8h-8zM512 752h8v8h-8z"/>
<path fill="#a6a6a6" d="M896 368h8v8h-8zM848 392h8v8h-8zM832 400h8v8h-8zM816 408h8v8h-8zM776 432h8v8h-8zM736 456h8v8h-8zM720 464h8v8h-8zM536 496h8v8h-8zM584 496h8v8h-8zM656 496h8v8h-8zM576 504h8v8h-8zM616 512h8v8h-8zM600 520h8v8h-8zM592 528h8v8h-8zM584 536h8v8h-8zM792 544h8v8h-8zM568 552h8v8h-8zM560 584h8v8h-8zM560 592h8v8h-8zM712 608h8v8h-8zM544 632h8v8h-8zM536 656h8v8h-8zM528 688h8v8h-8zM520 728h8v8h-8zM504 776h8v8h-8zM496 800h8v8h-8z"/>
<path fill="#a7a7a7" d="M880 376h8v8h-8zM864 384h8v8h-8zM792 424h8v8h-8zM752 448h8v8h-8zM696 480h8v8h-8zM680 488h8v8h-8zM664 496h8v8h-8zM552 504h8v8h-8zM568 504h8v8h-8zM640 504h8v8h-8zM624 512h8v8h-8zM608 520h8v8h-8zM600 528h8v8h-8zM576 544h8v8h-8zM568 560h8v8h-8zM568 568h8v8h-8zM560 600h8v8h-8zM552 616h8v8h-8zM544 640h8v8h-8zM536 664h8v8h-8zM528 696h8v8h-8zM632 696h8v8h-8zM512 760h8v8h-8z"/>
<path fill="#a8a8a8" d="M808 416h8v8h-8zM768 440h8v8h-8zM744 456h8v8h-8zM728 464h8v8h-8zM712 472h8v8h-8zM560 504h8v8h-8zM648 504h8v8h-8zM632 512h8v8h-8zM616 520h8v8h-8zM608 528h8v8h-8zM592 536h8v8h-8zM584 544h8v8h-8zM576 552h8v8h-8zM568 576h8v8h-8zM560 608h8v8h-8zM552 624h8v8h-8zM544 648h8v8h-8zM536 672h8v8h-8zM528 704h8v8h-8zM520 736h8v8h-8zM504 784h8v8h-8zM496 808h8v8h-8z"/>
<path fill="#a9a9a9" d="M904 368h8v8h-8zM904 384h8v8h-8zM856 392h8v8h-8zM840 400h8v8h-8zM824 408h8v8h-8zM784 432h8v8h-8zM536 456h8v8h-8zM584 488h8v8h-8zM688 488h8v8h-8zM672 496h8v8h-8zM624 520h8v8h-8zM616 528h8v8h-8zM600 536h8v8h-8zM576 560h8v8h-8zM568 584h8v8h-8zM552 632h8v8h-8zM544 656h8v8h-8zM536 680h8v8h-8zM528 712h8v8h-8zM520 744h8v8h-8zM512 768h8v8h-8z"/>
<path fill="#aaaaaa" d="M888 376h8v8h-8zM872 384h8v8h-8zM800 424h8v8h-8zM552 448h8v8h-8zM568 448h8v8h-8zM760 448h8v8h-8zM736 464h8v8h-8zM720 472h8v8h-8zM704 480h8v8h-8zM576 496h8v8h-8zM656 504h8v8h-8zM640 512h8v8h-8zM632 520h8v8h-8zM608 536h8v8h-8zM592 544h8v8h-8zM584 552h8v8h-8zM576 568h8v8h-8zM568 592h8v8h-8zM568 600h8v8h-8zM560 616h8v8h-8zM552 640h8v8h-8zM544 664h8v8h-8zM536 688h8v8h-8zM528 720h8v8h-8zM520 752h8v8h-8zM504 792h8v8h-8zM496 816h8v8h-8z"/>
<path fill="#ababab" d="M816 416h8v8h-8zM776 440h8v8h-8zM752 456h8v8h-8zM584 464h8v8h-8zM584 480h8v8h-8zM880 480h8v8h-8zM696 488h8v8h-8zM680 496h8v8h-8zM664 504h8v8h-8zM648 512h8v8h-8zM624 528h8v8h-8zM616 536h8v8h-8zM600 544h8v8h-8zM576 576h8v8h-8zM568 608h8v8h-8zM560 624h8v8h-8zM552 648h8v8h-8zM544 672h8v8h-8zM536 696h8v8h-8zM528 728h8v8h-8zM512 776h8v8h-8zM592 776h8v8h-8zM504 800h8v8h-8z"/>
<path fill="#acacac" d="M912 368h8v8h-8zM864 392h8v8h-8zM848 400h8v8h-8zM832 408h8v8h-8zM792 432h8v8h-8zM768 448h8v8h-8zM744 464h8v8h-8zM728 472h8v8h-8zM712 480h8v8h-8zM536 488h8v8h-8zM544 496h8v8h-8zM856 496h8v8h-8zM640 520h8v8h-8zM632 528h8v8h-8zM624 536h8v8h-8zM608 544h8v8h-8zM592 552h8v8h-8zM584 560h8v8h-8zM576 584h8v8h-8zM560 632h8v8h-8zM544 680h8v8h-8zM536 704h8v8h-8zM528 736h8v8h-8zM520 760h8v8h-8zM568 784h8v8h-8z"/>
<path fill="#adadad" d="M896 376h8v8h-8zM880 384h8v8h-8zM856 416h8v8h-8zM808 424h8v8h-8zM560 448h8v8h-8zM584 472h8v8h-8zM688 496h8v8h-8zM672 504h8v8h-8zM656 512h8v8h-8zM616 544h8v8h-8zM712 544h8v8h-8zM600 552h8v8h-8zM584 568h8v8h-8zM576 592h8v8h-8zM568 616h8v8h-8zM560 640h8v8h-8zM552 656h8v8h-8zM536 712h8v8h-8zM512 784h8v8h-8zM504 808h8v8h-8z"/>
<path fill="#aeaeae" d="M824 416h8v8h-8zM784 440h8v8h-8zM760 456h8v8h-8zM720 480h8v8h-8zM704 488h8v8h-8zM568 496h8v8h-8zM648 520h8v8h-8zM640 528h8v8h-8zM632 536h8v8h-8zM624 544h8v8h-8zM608 552h8v8h-8zM784 552h8v8h-8zM592 560h8v8h-8zM584 576h8v8h-8zM576 600h8v8h-8zM576 608h8v8h-8zM568 624h8v8h-8zM552 664h8v8h-8zM544 688h8v8h-8zM536 720h8v8h-8zM528 744h8v8h-8zM520 768h8v8h-8z"/>
<path fill="#afafaf" d="M856 400h8v8h-8zM840 408h8v8h-8zM800 432h8v8h-8zM776 448h8v8h-8zM752 464h8v8h-8zM736 472h8v8h-8zM552 496h8v8h-8zM696 496h8v8h-8zM680 504h8v8h-8zM664 512h8v8h-8zM616 552h8v8h-8zM600 560h8v8h-8zM584 584h8v8h-8zM576 616h8v8h-8zM568 632h8v8h-8zM560 648h8v8h-8zM552 672h8v8h-8zM544 696h8v8h-8zM528 752h8v8h-8zM512 792h8v8h-8zM560 800h8v8h-8zM504 816h8v8h-8z"/>
<path fill="#b0b0b0" d="M904 376h8v8h-8zM888 384h8v8h-8zM872 392h8v8h-8zM816 424h8v8h-8zM576 488h8v8h-8zM712 488h8v8h-8zM560 496h8v8h-8zM672 512h8v8h-8zM656 520h8v8h-8zM824 520h8v8h-8zM648 528h8v8h-8zM640 536h8v8h-8zM632 544h8v8h-8zM608 560h8v8h-8zM592 568h8v8h-8zM584 592h8v8h-8zM568 640h8v8h-8zM560 656h8v8h-8zM624 664h8v8h-8zM552 680h8v8h-8zM544 704h8v8h-8zM536 728h8v8h-8zM584 744h8v8h-8zM520 776h8v8h-8z"/>
<path fill="#b1b1b1" d="M832 416h8v8h-8zM792 440h8v8h-8zM768 456h8v8h-8zM536 464h8v8h-8zM744 472h8v8h-8zM728 480h8v8h-8zM688 504h8v8h-8zM624 552h8v8h-8zM592 576h8v8h-8zM736 592h8v8h-8zM584 600h8v8h-8zM576 624h8v8h-8zM560 664h8v8h-8zM552 688h8v8h-8zM544 712h8v8h-8zM536 736h8v8h-8zM528 760h8v8h-8zM512 800h8v8h-8z"/>
<path fill="#b2b2b2" d="M864 400h8v8h-8zM848 408h8v8h-8zM808 432h8v8h-8zM576 456h8v8h-8zM760 464h8v8h-8zM536 480h8v8h-8zM720 488h8v8h-8zM704 496h8v8h-8zM664 520h8v8h-8zM656 528h8v8h-8zM648 536h8v8h-8zM616 560h8v8h-8zM600 568h8v8h-8zM592 584h8v8h-8zM584 608h8v8h-8zM584 616h8v8h-8zM704 616h8v8h-8zM576 632h8v8h-8zM568 648h8v8h-8zM560 672h8v8h-8zM536 744h8v8h-8zM520 784h8v8h-8z"/>
<path fill="#b3b3b3" d="M912 376h8v8h-8zM896 384h8v8h-8zM880 392h8v8h-8zM824 424h8v8h-8zM784 448h8v8h-8zM736 480h8v8h-8zM696 504h8v8h-8zM680 512h8v8h-8zM640 544h8v8h-8zM608 568h8v8h-8zM600 576h8v8h-8zM592 592h8v8h-8zM576 640h8v8h-8zM568 656h8v8h-8zM552 696h8v8h-8zM544 720h8v8h-8zM528 768h8v8h-8zM512 808h8v8h-8z"/>
<path fill="#b4b4b4" d="M840 416h8v8h-8zM800 440h8v8h-8zM544 456h8v8h-8zM776 456h8v8h-8zM792 464h8v8h-8zM536 472h8v8h-8zM752 472h8v8h-8zM712 496h8v8h-8zM672 520h8v8h-8zM664 528h8v8h-8zM632 552h8v8h-8zM776 560h8v8h-8zM600 584h8v8h-8zM592 600h8v8h-8zM584 624h8v8h-8zM568 664h8v8h-8zM560 680h8v8h-8zM552 704h8v8h-8zM544 728h8v8h-8zM536 752h8v8h-8zM520 792h8v8h-8z"/>
<path fill="#b5b5b5" d="M888 392h8v8h-8zM872 400h8v8h-8zM856 408h8v8h-8zM816 432h8v8h-8zM544 488h8v8h-8zM728 488h8v8h-8zM688 512h8v8h-8zM624 560h8v8h-8zM600 592h8v8h-8zM592 608h8v8h-8zM584 632h8v8h-8zM576 648h8v8h-8zM560 688h8v8h-8zM552 712h8v8h-8zM544 736h8v8h-8zM536 760h8v8h-8zM528 776h8v8h-8zM512 816h8v8h-8z"/>
<path fill="#b6b6b6" d="M792 448h8v8h-8zM768 464h8v8h-8zM744 480h8v8h-8zM704 504h8v8h-8zM680 520h8v8h-8zM656 536h8v8h-8zM616 568h8v8h-8zM608 576h8v8h-8zM592 616h8v8h-8zM584 640h8v8h-8zM576 656h8v8h-8zM568 672h8v8h-8zM560 696h8v8h-8zM520 800h8v8h-8zM552 816h8v8h-8z"/>
<path fill="#b7b7b7" d="M848 416h8v8h-8zM832 424h8v8h-8zM832 432h8v8h-8zM576 480h8v8h-8zM720 496h8v8h-8zM696 512h8v8h-8zM672 528h8v8h-8zM648 544h8v8h-8zM640 552h8v8h-8zM600 600h8v8h-8zM592 624h8v8h-8zM568 680h8v8h-8zM552 720h8v8h-8zM544 744h8v8h-8zM536 768h8v8h-8zM528 784h8v8h-8z"/>
<path fill="#b8b8b8" d="M864 408h8v8h-8zM808 440h8v8h-8zM784 456h8v8h-8zM760 472h8v8h-8zM568 488h8v8h-8zM704 552h8v8h-8zM632 560h8v8h-8zM600 608h8v8h-8zM696 624h8v8h-8zM592 632h8v8h-8zM584 648h8v8h-8zM576 664h8v8h-8zM560 704h8v8h-8z"/>
<path fill="#b9b9b9" d="M824 432h8v8h-8zM736 488h8v8h-8zM712 504h8v8h-8zM688 520h8v8h-8zM664 536h8v8h-8zM624 568h8v8h-8zM768 568h8v8h-8zM616 576h8v8h-8zM608 584h8v8h-8zM648 672h8v8h-8zM568 688h8v8h-8zM552 728h8v8h-8zM544 752h8v8h-8zM600 760h8v8h-8zM520 808h8v8h-8z"/>
<path fill="#bababa" d="M800 448h8v8h-8zM776 464h8v8h-8zM896 472h8v8h-8zM752 480h8v8h-8zM656 544h8v8h-8zM648 552h8v8h-8zM600 616h8v8h-8zM592 640h8v8h-8zM584 656h8v8h-8zM576 672h8v8h-8zM560 712h8v8h-8zM528 792h8v8h-8z"/>
<path fill="#bbbbbb" d="M840 424h8v8h-8zM552 488h8v8h-8zM728 496h8v8h-8zM704 512h8v8h-8zM680 528h8v8h-8zM640 560h8v8h-8zM608 592h8v8h-8zM600 624h8v8h-8zM632 648h8v8h-8zM552 736h8v8h-8zM536 776h8v8h-8z"/>
<path fill="#bcbcbc" d="M576 464h8v8h-8zM768 472h8v8h-8zM560 488h8v8h-8zM848 504h8v8h-8zM816 528h8v8h-8zM632 568h8v8h-8zM624 576h8v8h-8zM688 632h8v8h-8zM568 696h8v8h-8zM544 760h8v8h-8z"/>
<path fill="#bdbdbd" d="M816 440h8v8h-8zM792 456h8v8h-8zM576 472h8v8h-8zM744 488h8v8h-8zM720 504h8v8h-8zM696 520h8v8h-8zM672 536h8v8h-8zM760 576h8v8h-8zM616 584h8v8h-8zM608 600h8v8h-8zM656 608h8v8h-8zM576 680h8v8h-8zM624 712h8v8h-8zM520 816h8v8h-8z"/>
<path fill="#bebebe" d="M552 456h8v8h-8zM664 544h8v8h-8zM656 552h8v8h-8zM648 560h8v8h-8zM600 632h8v8h-8zM592 648h8v8h-8zM584 664h8v8h-8zM560 720h8v8h-8z"/>
<path fill="#bfbfbf" d="M568 456h8v8h-8zM800 456h8v8h-8zM544 480h8v8h-8zM760 480h8v8h-8zM688 528h8v8h-8zM640 568h8v8h-8zM632 576h8v8h-8zM616 592h8v8h-8zM608 608h8v8h-8zM640 632h8v8h-8zM528 800h8v8h-8z"/>
<path fill="#c0c0c0" d="M872 488h8v8h-8zM736 496h8v8h-8zM712 512h8v8h-8zM624 584h8v8h-8zM680 640h8v8h-8zM552 744h8v8h-8zM576 760h8v8h-8zM536 784h8v8h-8z"/>
<path fill="#c1c1c1" d="M808 448h8v8h-8zM544 464h8v8h-8zM784 464h8v8h-8zM680 536h8v8h-8zM656 560h8v8h-8zM568 704h8v8h-8zM544 768h8v8h-8z"/>
<path fill="#c2c2c2" d="M752 488h8v8h-8zM704 520h8v8h-8zM672 544h8v8h-8zM664 552h8v8h-8zM648 568h8v8h-8zM640 576h8v8h-8zM616 600h8v8h-8zM728 600h8v8h-8zM608 616h8v8h-8zM576 688h8v8h-8zM608 744h8v8h-8z"/>
<path fill="#c3c3c3" d="M560 456h8v8h-8zM728 504h8v8h-8zM632 584h8v8h-8zM752 584h8v8h-8zM624 592h8v8h-8zM600 640h8v8h-8zM592 656h8v8h-8zM584 672h8v8h-8zM560 728h8v8h-8zM616 728h8v8h-8z"/>
<path fill="#c4c4c4" d="M544 472h8v8h-8zM568 480h8v8h-8zM696 528h8v8h-8zM552 752h8v8h-8z"/>
<path fill="#c5c5c5" d="M912 464h8v8h-8zM776 472h8v8h-8zM720 512h8v8h-8zM808 536h8v8h-8zM616 608h8v8h-8zM608 624h8v8h-8zM672 648h8v8h-8zM528 808h8v8h-8z"/>
<path fill="#c6c6c6" d="M744 496h8v8h-8zM688 536h8v8h-8zM680 544h8v8h-8zM672 552h8v8h-8zM664 560h8v8h-8zM696 560h8v8h-8zM656 568h8v8h-8zM648 576h8v8h-8zM640 584h8v8h-8zM624 600h8v8h-8zM568 712h8v8h-8z"/>
<path fill="#c7c7c7" d="M632 592h8v8h-8zM536 792h8v8h-8z"/>
<path fill="#c8c8c8" d="M712 520h8v8h-8zM608 632h8v8h-8zM600 648h8v8h-8zM584 680h8v8h-8zM576 696h8v8h-8zM560 736h8v8h-8zM544 776h8v8h-8z"/>
<path fill="#c9c9c9" d="M768 480h8v8h-8zM616 616h8v8h-8zM664 656h8v8h-8zM592 664h8v8h-8z"/>
<path fill="#cacaca" d="M552 480h8v8h-8zM736 504h8v8h-8zM704 528h8v8h-8zM624 608h8v8h-8zM552 760h8v8h-8z"/>
<path fill="#cbcbcb" d="M840 512h8v8h-8zM656 664h8v8h-8zM568 720h8v8h-8zM528 816h8v8h-8z"/>
<path fill="#cccccc" d="M696 536h8v8h-8zM616 624h8v8h-8zM608 640h8v8h-8z"/>
<path fill="#cdcdcd" d="M568 464h8v8h-8zM560 480h8v8h-8zM760 488h8v8h-8zM728 512h8v8h-8zM688 544h8v8h-8zM600 656h8v8h-8zM576 704h8v8h-8zM600 704h8v8h-8zM560 744h8v8h-8zM536 800h8v8h-8z"/>
<path fill="#cecece" d="M552 464h8v8h-8zM632 600h8v8h-8zM592 672h8v8h-8zM584 688h8v8h-8zM544 784h8v8h-8z"/>
<path fill="#cfcfcf" d="M568 472h8v8h-8zM800 544h8v8h-8zM680 552h8v8h-8zM552 768h8v8h-8z"/>
<path fill="#d0d0d0" d="M624 616h8v8h-8zM592 720h8v8h-8zM568 728h8v8h-8z"/>
<path fill="#d1d1d1" d="M888 480h8v8h-8zM752 496h8v8h-8zM720 520h8v8h-8zM672 560h8v8h-8zM640 592h8v8h-8zM616 632h8v8h-8zM608 688h8v8h-8zM568 776h8v8h-8z"/>
<path fill="#d2d2d2" d="M648 584h8v8h-8zM720 608h8v8h-8zM608 648h8v8h-8z"/>
<path fill="#d3d3d3" d="M552 472h8v8h-8zM864 496h8v8h-8zM664 568h8v8h-8zM576 712h8v8h-8zM560 792h8v8h-8z"/>
<path fill="#d4d4d4" d="M560 464h8v8h-8zM712 528h8v8h-8zM688 568h8v8h-8zM656 576h8v8h-8zM600 664h8v8h-8zM584 696h8v8h-8zM560 752h8v8h-8z"/>
<path fill="#d5d5d5" d="M744 504h8v8h-8zM744 592h8v8h-8zM592 680h8v8h-8zM576 816h8v8h-8z"/>
<path fill="#d6d6d6" d="M536 808h8v8h-8z"/>
<path fill="#d7d7d7" d="M704 536h8v8h-8zM792 552h8v8h-8z"/>
<path fill="#d8d8d8" d="M560 472h8v8h-8zM632 608h8v8h-8zM568 736h8v8h-8zM584 736h8v8h-8zM544 792h8v8h-8z"/>
<path fill="#d9d9d9" d="M736 512h8v8h-8zM832 520h8v8h-8zM624 624h8v8h-8zM616 640h8v8h-8zM640 688h8v8h-8zM552 776h8v8h-8zM552 808h8v8h-8z"/>
<path fill="#dadada" d="M696 544h8v8h-8zM584 800h8v8h-8z"/>
<path fill="#dbdbdb" d="M608 656h8v8h-8z"/>
<path fill="#dcdcdc" d="M576 720h8v8h-8z"/>
<path fill="#dddddd" d="M784 560h8v8h-8zM616 672h8v8h-8zM560 760h8v8h-8zM592 784h8v8h-8z"/>
<path fill="#dedede" d="M728 520h8v8h-8zM688 552h8v8h-8zM640 600h8v8h-8zM600 672h8v8h-8z"/>
<path fill="#dfdfdf" d="M904 472h8v8h-8zM584 704h8v8h-8z"/>
<path fill="#e0e0e0" d="M592 688h8v8h-8z"/>
<path fill="#e1e1e1" d="M680 560h8v8h-8zM648 592h8v8h-8z"/>
<path fill="#e2e2e2" d="M720 528h8v8h-8zM776 568h8v8h-8z"/>
<path fill="#e3e3e3" d="M856 504h8v8h-8zM656 584h8v8h-8zM632 616h8v8h-8zM712 616h8v8h-8zM576 752h8v8h-8zM536 816h8v8h-8z"/>
<path fill="#e4e4e4" d="M824 528h8v8h-8zM672 568h8v8h-8zM624 632h8v8h-8zM568 744h8v8h-8z"/>
<path fill="#e5e5e5" d="M712 536h8v8h-8zM664 576h8v8h-8zM680 576h8v8h-8zM768 576h8v8h-8zM616 648h8v8h-8z"/>
<path fill="#e6e6e6" d="M880 488h8v8h-8z"/>
<path fill="#e7e7e7" d="M736 600h8v8h-8zM544 800h8v8h-8z"/>
<path fill="#e8e8e8" d="M760 584h8v8h-8z"/>
<path fill="#e9e9e9" d="M704 544h8v8h-8zM648 616h8v8h-8zM552 784h8v8h-8z"/>
<path fill="#eaeaea" d="M640 608h8v8h-8zM608 664h8v8h-8zM576 728h8v8h-8zM600 768h8v8h-8z"/>
<path fill="#ebebeb" d="M624 656h8v8h-8zM560 768h8v8h-8z"/>
<path fill="#ececec" d="M816 536h8v8h-8zM704 624h8v8h-8zM632 704h8v8h-8z"/>
<path fill="#ededed" d="M696 552h8v8h-8zM600 680h8v8h-8zM584 712h8v8h-8z"/>
<path fill="#eeeeee" d="M648 600h8v8h-8zM632 624h8v8h-8zM568 768h8v8h-8z"/>
<path fill="#efefef" d="M592 696h8v8h-8z"/>
<path fill="#f0f0f0" d="M848 512h8v8h-8zM688 560h8v8h-8z"/>
<path fill="#f1f1f1" d="M696 632h8v8h-8zM624 640h8v8h-8zM608 752h8v8h-8z"/>
<path fill="#f2f2f2" d="M656 592h8v8h-8zM632 640h8v8h-8zM600 696h8v8h-8zM592 712h8v8h-8zM560 784h8v8h-8z"/>
<path fill="#f3f3f3" d="M896 480h8v8h-8zM808 544h8v8h-8zM752 592h8v8h-8zM624 720h8v8h-8zM568 752h8v8h-8z"/>
<path fill="#f4f4f4" d="M872 496h8v8h-8zM680 568h8v8h-8zM672 584h8v8h-8zM616 736h8v8h-8zM552 800h8v8h-8z"/>
<path fill="#f5f5f5" d="M664 584h8v8h-8zM728 608h8v8h-8zM640 616h8v8h-8zM688 640h8v8h-8zM616 656h8v8h-8zM648 680h8v8h-8zM584 728h8v8h-8z"/>
<path fill="#f6f6f6" d="M672 576h8v8h-8zM608 680h8v8h-8zM544 808h8v8h-8z"/>
<path fill="#f7f7f7" d="M576 736h8v8h-8zM544 816h8v8h-8z"/>
<path fill="#f8f8f8" d="M840 520h8v8h-8zM800 552h8v8h-8zM608 672h8v8h-8zM576 744h8v8h-8zM560 776h8v8h-8zM552 792h8v8h-8z"/>
<path fill="#f9f9f9" d="M912 472h8v8h-8zM632 632h8v8h-8zM680 648h8v8h-8zM584 720h8v8h-8z"/>
<path fill="#fafafa" d="M648 608h8v8h-8zM600 688h8v8h-8zM592 704h8v8h-8zM568 760h8v8h-8zM584 808h8v8h-8z"/>
<path fill="#fbfbfb" d="M792 560h8v8h-8zM640 624h8v8h-8zM624 648h8v8h-8zM672 656h8v8h-8zM616 664h8v8h-8zM592 792h8v8h-8z"/>
<path fill="#fcfcfc" d="M888 488h8v8h-8zM864 504h8v8h-8zM664 592h8v8h-8zM744 600h8v8h-8zM720 616h8v8h-8z"/>
<path fill="#fdfdfd" d="M832 528h8v8h-8zM784 568h8v8h-8zM776 576h8v8h-8zM656 600h8v8h-8zM664 664h8v8h-8zM640 696h8v8h-8z"/>
<path fill="#fefefe" d="M824 536h8v8h-8zM768 584h8v8h-8zM656 672h8v8h-8zM600 776h8v8h-8z"/>
<path fill="#ffffff" d="M904 480h16v8h-16zM896 488h24v8h-24zM880 496h40v8h-40zM872 504h48v8h-48zM856 512h64v8h-64zM848 520h72v8h-72zM840 528h80v8h-80zM832 536h88v8h-88zM816 544h104v8h-104zM808 552h112v8h-112zM800 560h120v8h-120zM792 568h128v8h-128zM784 576h136v8h-136zM776 584h144v8h-144zM760 592h160v8h-160zM752 600h168v8h-168zM736 608h184v8h-184zM728 616h192v8h-192zM712 624h208v8h-208zM704 632h216v8h-216zM696 640h224v8h-224zM688 648h232v8h-232zM680 656h240v8h-240zM672 664h248v8h-248zM664 672h256v8h-256zM656 680h264v8h-264zM648 688h272v8h-272zM648 696h272v8h-272zM640 704h280v8h-280zM632 712h288v8h-288zM632 720h288v8h-288zM624 728h296v8h-296zM624 736h296v8h-296zM616 744h304v8h-304zM616 752h304v8h-304zM608 760h312v8h-312zM608 768h312v8h-312zM608 776h312v8h-312zM600 784h320v8h-320zM600 792h320v8h-320zM592 800h328v8h-328zM592 808h328v8h-328zM584 816h336v8h-336z"/>
</g></g>
<filter id="cm2" x="1360" y="64" width="776" height="760" filterUnits="userSpaceOnUse" color-interpolation-filters="sRGB">
<feGaussianBlur stdDeviation="4.0"/>
<feComponentTransfer><feFuncR type="table" tableValues="0 0 0 1 1"/><feFuncG type="table" tableValues="0 1 1 1 0"/><feFuncB type="table" tableValues="1 1 0 0 0"/></feComponentTransfer>
</filter>
<clipPath id="fc2"><rect x="1383.5" y="86.9" width="731.7" height="720.3"/></clipPath>
<g clip-path="url(#fc2)"><g filter="url(#cm2)">
<path fill="#000000" d="M2128 176h8v8h-8zM2104 184h32v8h-32zM2088 192h48v8h-48zM2064 200h72v8h-72zM2048 208h88v8h-88zM2032 216h104v8h-104zM2016 224h120v8h-120zM2000 232h136v8h-136zM1984 240h152v8h-152zM1976 248h160v8h-160zM1968 256h168v8h-168zM1952 264h184v8h-184zM1944 272h192v8h-192zM1936 280h200v8h-200zM1928 288h208v8h-208zM1920 296h216v8h-216zM1912 304h224v8h-224zM1904 312h232v8h-232zM1896 320h240v8h-240zM1888 328h248v8h-248zM1880 336h256v8h-256zM1872 344h264v8h-264zM1872 352h264v8h-264zM1872 360h264v8h-264zM1872 368h264v8h-264zM1872 376h264v8h-264zM1872 384h264v8h-264zM1872 392h264v8h-264zM1872 400h264v8h-264zM1872 408h264v8h-264zM1864 416h272v8h-272zM1864 424h272v8h-272zM1864 432h272v8h-272zM1864 440h272v8h-272zM1864 448h272v8h-272zM1864 456h272v8h-272zM1864 464h272v8h-272zM1864 472h272v8h-272zM1856 480h280v8h-280zM1856 488h280v8h-280zM1848 496h288v8h-288zM1848 504h288v8h-288zM1840 512h296v8h-296zM1832 520h304v8h-304zM1832 528h304v8h-304zM1824 536h312v8h-312zM1816 544h320v8h-320zM1808 552h328v8h-328zM1800 560h336v8h-336zM1792 568h344v8h-344zM1776 576h360v8h-360zM1768 584h368v8h-368zM1760 592h376v8h-376zM1752 600h384v8h-384zM1744 608h392v8h-392zM1736 616h400v8h-400zM1728 624h408v8h-408zM1720 632h416v8h-416zM1680 640h456v8h-456zM1648 648h488v8h-488zM1616 656h520v8h-520zM1592 664h544v8h-544zM1576 672h560v8h-560zM1576 680h560v8h-560zM1568 688h568v8h-568zM1560 696h576v8h-576zM1560 704h576v8h-576zM1552 712h584v8h-584zM1552 720h584v8h-584zM1544 728h592v8h-592zM1536 736h600v8h-600zM1536 744h600v8h-600zM1528 752h608v8h-608zM1528 760h608v8h-608zM1520 768h616v8h-616zM1520 776h616v8h-616zM1520 784h616v8h-616zM1512 792h624v8h-624zM1512 800h624v8h-624zM1504 808h632v8h-632zM1504 816h632v8h-632z"/>
<path fill="#010101" d="M2120 176h8v8h-8zM2096 184h8v8h-8zM2080 192h8v8h-8zM2056 200h8v8h-8zM2040 208h8v8h-8zM2024 216h8v8h-8zM2008 224h8v8h-8zM1992 232h8v8h-8zM1968 248h8v8h-8zM1960 256h8v8h-8zM1912 296h8v8h-8zM1904 304h8v8h-8zM1896 312h8v8h-8zM1888 320h8v8h-8zM1880 328h8v8h-8zM1872 336h8v8h-8zM1864 376h8v8h-8zM1864 384h8v8h-8zM1864 392h8v8h-8zM1864 400h8v8h-8zM1864 408h8v8h-8zM1848 488h8v8h-8zM1840 504h8v8h-8zM1824 528h8v8h-8zM1816 536h8v8h-8zM1808 544h8v8h-8zM1800 552h8v8h-8zM1792 560h8v8h-8zM1784 568h8v8h-8zM1704 632h16v8h-16zM1664 640h16v8h-16zM1632 648h16v8h-16zM1608 656h8v8h-8zM1584 664h8v8h-8zM1568 680h8v8h-8zM1560 688h8v8h-8zM1552 704h8v8h-8zM1544 720h8v8h-8zM1536 728h8v8h-8zM1528 744h8v8h-8zM1520 760h8v8h-8zM1512 776h8v8h-8zM1512 784h8v8h-8zM1504 800h8v8h-8z"/>
<path fill="#020202" d="M2112 176h8v8h-8zM2088 184h8v8h-8zM2072 192h8v8h-8zM1976 240h8v8h-8zM1944 264h8v8h-8zM1936 272h8v8h-8zM1928 280h8v8h-8zM1920 288h8v8h-8zM1864 360h8v8h-8zM1864 368h8v8h-8zM1856 472h8v8h-8zM1840 496h8v8h-8zM1832 512h8v8h-8zM1768 576h8v8h-8zM1760 584h8v8h-8zM1752 592h8v8h-8zM1744 600h8v8h-8zM1736 608h8v8h-8zM1728 616h8v8h-8zM1720 624h8v8h-8zM1696 632h8v8h-8zM1656 640h8v8h-8zM1600 656h8v8h-8zM1576 664h8v8h-8zM1568 672h8v8h-8zM1552 696h8v8h-8zM1544 712h8v8h-8zM1520 752h8v8h-8zM1504 792h8v8h-8zM1496 816h8v8h-8z"/>
<path fill="#030303" d="M2128 168h8v8h-8zM2104 176h8v8h-8zM2064 192h8v8h-8zM2048 200h8v8h-8zM2032 208h8v8h-8zM2016 216h8v8h-8zM2000 224h8v8h-8zM1984 232h8v8h-8zM1960 248h8v8h-8zM1952 256h8v8h-8zM1864 344h8v8h-8zM1864 352h8v8h-8zM1848 480h8v8h-8zM1832 504h8v8h-8zM1824 520h8v8h-8zM1816 528h8v8h-8zM1808 536h8v8h-8zM1800 544h8v8h-8zM1792 552h8v8h-8zM1784 560h8v8h-8zM1776 568h8v8h-8zM1688 632h8v8h-8zM1648 640h8v8h-8zM1624 648h8v8h-8zM1592 656h8v8h-8zM1560 680h8v8h-8zM1544 704h8v8h-8zM1536 720h8v8h-8zM1528 736h8v8h-8zM1512 768h8v8h-8zM1504 784h8v8h-8zM1496 808h8v8h-8z"/>
<path fill="#040404" d="M2120 168h8v8h-8zM2080 184h8v8h-8zM1968 240h8v8h-8zM1920 280h8v8h-8zM1912 288h8v8h-8zM1904 296h8v8h-8zM1896 304h8v8h-8zM1888 312h8v8h-8zM1880 320h8v8h-8zM1872 328h8v8h-8zM1864 336h8v8h-8zM1856 464h8v8h-8zM1840 488h8v8h-8zM1744 592h8v8h-8zM1736 600h8v8h-8zM1728 608h8v8h-8zM1720 616h8v8h-8zM1712 624h8v8h-8zM1680 632h8v8h-8zM1640 640h8v8h-8zM1616 648h8v8h-8zM1568 664h8v8h-8zM1552 688h8v8h-8zM1528 728h8v8h-8zM1520 744h8v8h-8zM1512 760h8v8h-8zM1496 800h8v8h-8z"/>
<path fill="#050505" d="M2096 176h8v8h-8zM2056 192h8v8h-8zM2040 200h8v8h-8zM2024 208h8v8h-8zM2008 216h8v8h-8zM1992 224h8v8h-8zM1976 232h8v8h-8zM1936 264h8v8h-8zM1928 272h8v8h-8zM1856 408h8v8h-8zM1856 416h8v8h-8zM1856 424h8v8h-8zM1856 432h8v8h-8zM1856 440h8v8h-8zM1856 448h8v8h-8zM1856 456h8v8h-8zM1848 472h8v8h-8zM1832 496h8v8h-8zM1824 512h8v8h-8zM1808 528h8v8h-8zM1800 536h8v8h-8zM1792 544h8v8h-8zM1784 552h8v8h-8zM1776 560h8v8h-8zM1768 568h8v8h-8zM1760 576h8v8h-8zM1752 584h8v8h-8zM1704 624h8v8h-8zM1664 632h16v8h-16zM1632 640h8v8h-8zM1608 648h8v8h-8zM1584 656h8v8h-8zM1560 672h8v8h-8zM1544 696h8v8h-8zM1536 712h8v8h-8zM1504 776h8v8h-8zM1488 816h8v8h-8z"/>
<path fill="#060606" d="M2112 168h8v8h-8zM2072 184h8v8h-8zM1952 248h8v8h-8zM1944 256h8v8h-8zM1880 312h8v8h-8zM1872 320h8v8h-8zM1856 384h8v8h-8zM1856 392h8v8h-8zM1856 400h8v8h-8zM1840 480h8v8h-8zM1816 520h8v8h-8zM1728 600h8v8h-8zM1720 608h8v8h-8zM1712 616h8v8h-8zM1696 624h8v8h-8zM1656 632h8v8h-8zM1600 648h8v8h-8zM1576 656h8v8h-8zM1552 680h8v8h-8zM1528 720h8v8h-8zM1520 736h8v8h-8zM1512 752h8v8h-8zM1504 768h8v8h-8zM1496 792h8v8h-8z"/>
<path fill="#070707" d="M2128 160h8v8h-8zM2104 168h8v8h-8zM2088 176h8v8h-8zM2048 192h8v8h-8zM2032 200h8v8h-8zM2016 208h8v8h-8zM2000 216h8v8h-8zM1984 224h8v8h-8zM1960 240h8v8h-8zM1920 272h8v8h-8zM1912 280h8v8h-8zM1904 288h8v8h-8zM1896 296h8v8h-8zM1888 304h8v8h-8zM1864 328h8v8h-8zM1856 360h8v8h-8zM1856 368h8v8h-8zM1856 376h8v8h-8zM1848 464h8v8h-8zM1832 488h8v8h-8zM1824 504h8v8h-8zM1760 568h8v8h-8zM1752 576h8v8h-8zM1744 584h8v8h-8zM1736 592h8v8h-8zM1688 624h8v8h-8zM1648 632h8v8h-8zM1624 640h8v8h-8zM1592 648h8v8h-8zM1560 664h8v8h-8zM1544 688h8v8h-8zM1536 704h8v8h-8zM1496 784h8v8h-8zM1488 808h8v8h-8z"/>
<path fill="#080808" d="M2120 160h8v8h-8zM2080 176h8v8h-8zM2064 184h8v8h-8zM1968 232h8v8h-8zM1936 256h8v8h-8zM1928 264h8v8h-8zM1856 352h8v8h-8zM1840 472h8v8h-8zM1816 512h8v8h-8zM1808 520h8v8h-8zM1800 528h8v8h-8zM1792 536h8v8h-8zM1784 544h8v8h-8zM1776 552h8v8h-8zM1768 560h8v8h-8zM1720 600h8v8h-8zM1712 608h8v8h-8zM1704 616h8v8h-8zM1672 624h16v8h-16zM1640 632h8v8h-8zM1616 640h8v8h-8zM1568 656h8v8h-8zM1552 672h8v8h-8zM1536 696h8v8h-8zM1528 712h8v8h-8zM1520 728h8v8h-8zM1512 744h8v8h-8zM1504 760h8v8h-8zM1488 800h8v8h-8z"/>
<path fill="#090909" d="M2096 168h8v8h-8zM2056 184h8v8h-8zM2040 192h8v8h-8zM2024 200h8v8h-8zM2008 208h8v8h-8zM1992 216h8v8h-8zM1976 224h8v8h-8zM1944 248h8v8h-8zM1888 296h8v8h-8zM1880 304h8v8h-8zM1872 312h8v8h-8zM1864 320h8v8h-8zM1856 336h8v8h-8zM1856 344h8v8h-8zM1824 496h8v8h-8zM1752 568h8v8h-8zM1744 576h8v8h-8zM1736 584h8v8h-8zM1728 592h8v8h-8zM1664 624h8v8h-8zM1608 640h8v8h-8zM1584 648h8v8h-8zM1560 656h8v8h-8zM1544 680h8v8h-8zM1512 736h8v8h-8zM1504 752h8v8h-8zM1496 776h8v8h-8zM1488 792h8v8h-8zM1480 816h8v8h-8z"/>
<path fill="#0a0a0a" d="M2112 160h8v8h-8zM2072 176h8v8h-8zM1960 232h8v8h-8zM1952 240h8v8h-8zM1912 272h8v8h-8zM1904 280h8v8h-8zM1896 288h8v8h-8zM1856 328h8v8h-8zM1848 456h8v8h-8zM1832 480h8v8h-8zM1816 504h8v8h-8zM1792 528h8v8h-8zM1784 536h8v8h-8zM1776 544h8v8h-8zM1768 552h8v8h-8zM1760 560h8v8h-8zM1712 600h8v8h-8zM1704 608h8v8h-8zM1696 616h8v8h-8zM1656 624h8v8h-8zM1632 632h8v8h-8zM1600 640h8v8h-8zM1576 648h8v8h-8zM1552 664h8v8h-8zM1536 688h8v8h-8zM1528 704h8v8h-8zM1520 720h8v8h-8zM1496 768h8v8h-8z"/>
<path fill="#0b0b0b" d="M2128 152h8v8h-8zM2088 168h8v8h-8zM2048 184h8v8h-8zM2032 192h8v8h-8zM2016 200h8v8h-8zM2000 208h8v8h-8zM1984 216h8v8h-8zM1968 224h8v8h-8zM1928 256h8v8h-8zM1920 264h8v8h-8zM1848 392h8v8h-8zM1848 400h8v8h-8zM1848 408h8v8h-8zM1848 416h8v8h-8zM1848 424h8v8h-8zM1848 432h8v8h-8zM1848 440h8v8h-8zM1848 448h8v8h-8zM1840 464h8v8h-8zM1824 488h8v8h-8zM1808 512h8v8h-8zM1800 520h8v8h-8zM1744 568h8v8h-8zM1736 576h8v8h-8zM1728 584h8v8h-8zM1720 592h8v8h-8zM1680 616h16v8h-16zM1648 624h8v8h-8zM1624 632h8v8h-8zM1552 656h8v8h-8zM1544 672h8v8h-8zM1520 712h8v8h-8zM1512 728h8v8h-8zM1504 744h8v8h-8zM1496 760h8v8h-8zM1488 784h8v8h-8zM1480 808h8v8h-8z"/>
<path fill="#0c0c0c" d="M2104 160h8v8h-8zM2080 168h8v8h-8zM2064 176h8v8h-8zM1944 240h8v8h-8zM1936 248h8v8h-8zM1888 288h8v8h-8zM1880 296h8v8h-8zM1872 304h8v8h-8zM1864 312h8v8h-8zM1856 320h8v8h-8zM1848 368h8v8h-8zM1848 376h8v8h-8zM1848 384h8v8h-8zM1832 472h8v8h-8zM1816 496h8v8h-8zM1768 544h8v8h-8zM1760 552h8v8h-8zM1752 560h8v8h-8zM1704 600h8v8h-8zM1696 608h8v8h-8zM1672 616h8v8h-8zM1640 624h8v8h-8zM1616 632h8v8h-8zM1592 640h8v8h-8zM1568 648h8v8h-8zM1544 664h8v8h-8zM1536 680h8v8h-8zM1528 696h8v8h-8zM1488 776h8v8h-8zM1480 800h8v8h-8z"/>
<path fill="#0d0d0d" d="M2120 152h8v8h-8zM2096 160h8v8h-8zM2040 184h8v8h-8zM2024 192h8v8h-8zM2008 200h8v8h-8zM1992 208h8v8h-8zM1976 216h8v8h-8zM1952 232h8v8h-8zM1912 264h8v8h-8zM1904 272h8v8h-8zM1896 280h8v8h-8zM1848 352h8v8h-8zM1848 360h8v8h-8zM1840 456h8v8h-8zM1824 480h8v8h-8zM1808 504h8v8h-8zM1800 512h8v8h-8zM1792 520h8v8h-8zM1784 528h8v8h-8zM1776 536h8v8h-8zM1728 576h8v8h-8zM1720 584h8v8h-8zM1712 592h8v8h-8zM1664 616h8v8h-8zM1632 624h8v8h-8zM1608 632h8v8h-8zM1584 640h8v8h-8zM1560 648h8v8h-8zM1528 688h8v8h-8zM1520 704h8v8h-8zM1512 720h8v8h-8zM1504 736h8v8h-8zM1496 752h8v8h-8zM1480 792h8v8h-8zM1472 816h8v8h-8z"/>
<path fill="#0e0e0e" d="M2072 168h8v8h-8zM2056 176h8v8h-8zM1960 224h8v8h-8zM1920 256h8v8h-8zM1848 336h8v8h-8zM1848 344h8v8h-8zM1832 464h8v8h-8zM1816 488h8v8h-8zM1752 552h8v8h-8zM1744 560h8v8h-8zM1736 568h8v8h-8zM1704 592h8v8h-8zM1696 600h8v8h-8zM1688 608h8v8h-8zM1656 616h8v8h-8zM1624 624h8v8h-8zM1600 632h8v8h-8zM1576 640h8v8h-8zM1544 656h8v8h-8zM1536 672h8v8h-8zM1488 768h8v8h-8zM1472 808h8v8h-8z"/>
<path fill="#0f0f0f" d="M2112 152h8v8h-8zM2016 192h8v8h-8zM2000 200h8v8h-8zM1984 208h8v8h-8zM1928 248h8v8h-8zM1880 288h8v8h-8zM1872 296h8v8h-8zM1864 304h8v8h-8zM1856 312h8v8h-8zM1848 328h8v8h-8zM1840 448h8v8h-8zM1824 472h8v8h-8zM1784 520h8v8h-8zM1776 528h8v8h-8zM1768 536h8v8h-8zM1760 544h8v8h-8zM1728 568h8v8h-8zM1720 576h8v8h-8zM1712 584h8v8h-8zM1688 600h8v8h-8zM1672 608h16v8h-16zM1648 616h8v8h-8zM1616 624h8v8h-8zM1592 632h8v8h-8zM1552 648h8v8h-8zM1528 680h8v8h-8zM1520 696h8v8h-8zM1512 712h8v8h-8zM1504 728h8v8h-8zM1496 744h8v8h-8zM1488 760h8v8h-8zM1480 784h8v8h-8z"/>
<path fill="#101010" d="M2128 144h8v8h-8zM2088 160h8v8h-8zM2048 176h8v8h-8zM2032 184h8v8h-8zM1968 216h8v8h-8zM1936 240h8v8h-8zM1896 272h8v8h-8zM1888 280h8v8h-8zM1848 320h8v8h-8zM1840 432h8v8h-8zM1840 440h8v8h-8zM1832 456h8v8h-8zM1808 496h8v8h-8zM1792 512h8v8h-8zM1744 552h8v8h-8zM1736 560h8v8h-8zM1720 568h8v8h-8zM1712 576h8v8h-8zM1704 584h8v8h-8zM1696 592h8v8h-8zM1680 600h8v8h-8zM1656 608h16v8h-16zM1632 616h16v8h-16zM1608 624h8v8h-8zM1568 640h8v8h-8zM1536 664h8v8h-8zM1480 776h8v8h-8zM1472 800h8v8h-8z"/>
<path fill="#111111" d="M2104 152h8v8h-8zM2064 168h8v8h-8zM1944 232h8v8h-8zM1904 264h8v8h-8zM1840 392h8v8h-8zM1840 400h8v8h-8zM1840 408h8v8h-8zM1840 416h8v8h-8zM1840 424h8v8h-8zM1816 480h8v8h-8zM1800 504h8v8h-8zM1768 528h8v8h-8zM1760 536h8v8h-8zM1752 544h8v8h-8zM1736 552h8v8h-8zM1728 560h8v8h-8zM1704 576h8v8h-8zM1696 584h8v8h-8zM1688 592h8v8h-8zM1672 600h8v8h-8zM1648 608h8v8h-8zM1624 616h8v8h-8zM1600 624h8v8h-8zM1584 632h8v8h-8zM1560 640h8v8h-8zM1544 648h8v8h-8zM1528 672h8v8h-8zM1520 688h8v8h-8zM1512 704h8v8h-8zM1504 720h8v8h-8zM1496 736h8v8h-8zM1488 752h8v8h-8zM1472 792h8v8h-8zM1464 816h8v8h-8z"/>
<path fill="#121212" d="M2080 160h8v8h-8zM2008 192h8v8h-8zM1992 200h8v8h-8zM1952 224h8v8h-8zM1912 256h8v8h-8zM1856 304h8v8h-8zM1848 312h8v8h-8zM1840 376h8v8h-8zM1840 384h8v8h-8zM1824 464h8v8h-8zM1808 488h8v8h-8zM1776 520h8v8h-8zM1744 544h8v8h-8zM1720 560h8v8h-8zM1712 568h8v8h-8zM1696 576h8v8h-8zM1688 584h8v8h-8zM1680 592h8v8h-8zM1656 600h16v8h-16zM1632 608h16v8h-16zM1616 616h8v8h-8zM1592 624h8v8h-8zM1576 632h8v8h-8zM1536 656h8v8h-8zM1480 768h8v8h-8zM1464 808h8v8h-8z"/>
<path fill="#131313" d="M2120 144h8v8h-8zM2040 176h8v8h-8zM2024 184h8v8h-8zM1976 208h8v8h-8zM1920 248h8v8h-8zM1872 288h8v8h-8zM1864 296h8v8h-8zM1840 360h8v8h-8zM1840 368h8v8h-8zM1832 448h8v8h-8zM1816 472h8v8h-8zM1784 512h8v8h-8zM1760 528h8v8h-8zM1752 536h8v8h-8zM1736 544h8v8h-8zM1728 552h8v8h-8zM1712 560h8v8h-8zM1704 568h8v8h-8zM1688 576h8v8h-8zM1680 584h8v8h-8zM1664 592h16v8h-16zM1648 600h8v8h-8zM1624 608h8v8h-8zM1608 616h8v8h-8zM1568 632h8v8h-8zM1552 640h8v8h-8zM1520 680h8v8h-8zM1512 696h8v8h-8zM1504 712h8v8h-8zM1496 728h8v8h-8zM1488 744h8v8h-8zM1480 760h8v8h-8zM1472 784h8v8h-8z"/>
<path fill="#141414" d="M2096 152h8v8h-8zM2056 168h8v8h-8zM1960 216h8v8h-8zM1928 240h8v8h-8zM1888 272h8v8h-8zM1880 280h8v8h-8zM1840 352h8v8h-8zM1824 456h8v8h-8zM1800 496h8v8h-8zM1792 504h8v8h-8zM1768 520h8v8h-8zM1744 536h8v8h-8zM1720 552h8v8h-8zM1704 560h8v8h-8zM1696 568h8v8h-8zM1680 576h8v8h-8zM1672 584h8v8h-8zM1656 592h8v8h-8zM1632 600h16v8h-16zM1616 608h8v8h-8zM1600 616h8v8h-8zM1584 624h8v8h-8zM1536 648h8v8h-8zM1528 664h8v8h-8zM1472 776h8v8h-8zM1464 800h8v8h-8z"/>
<path fill="#151515" d="M2072 160h8v8h-8zM1936 232h8v8h-8zM1896 264h8v8h-8zM1840 336h8v8h-8zM1840 344h8v8h-8zM1832 440h8v8h-8zM1808 480h8v8h-8zM1776 512h8v8h-8zM1752 528h8v8h-8zM1728 544h8v8h-8zM1712 552h8v8h-8zM1696 560h8v8h-8zM1688 568h8v8h-8zM1672 576h8v8h-8zM1656 584h16v8h-16zM1640 592h16v8h-16zM1624 600h8v8h-8zM1608 608h8v8h-8zM1592 616h8v8h-8zM1576 624h8v8h-8zM1560 632h8v8h-8zM1544 640h8v8h-8zM1520 672h8v8h-8zM1512 688h8v8h-8zM1504 704h8v8h-8zM1496 720h8v8h-8zM1488 736h8v8h-8zM1480 752h8v8h-8zM1464 792h8v8h-8zM1456 816h8v8h-8z"/>
<path fill="#161616" d="M2112 144h8v8h-8zM2016 184h8v8h-8zM2000 192h8v8h-8zM1984 200h8v8h-8zM1904 256h8v8h-8zM1848 304h8v8h-8zM1840 328h8v8h-8zM1832 432h8v8h-8zM1816 464h8v8h-8zM1784 504h8v8h-8zM1760 520h8v8h-8zM1744 528h8v8h-8zM1736 536h8v8h-8zM1720 544h8v8h-8zM1704 552h8v8h-8zM1688 560h8v8h-8zM1680 568h8v8h-8zM1664 576h8v8h-8zM1648 584h8v8h-8zM1632 592h8v8h-8zM1616 600h8v8h-8zM1600 608h8v8h-8zM1584 616h8v8h-8zM1568 624h8v8h-8zM1528 656h8v8h-8zM1472 768h8v8h-8z"/>
<path fill="#171717" d="M2088 152h8v8h-8zM2032 176h8v8h-8zM1968 208h8v8h-8zM1944 224h8v8h-8zM1912 248h8v8h-8zM1864 288h8v8h-8zM1856 296h8v8h-8zM1840 320h8v8h-8zM1832 400h8v8h-8zM1832 408h8v8h-8zM1832 416h8v8h-8zM1832 424h8v8h-8zM1824 448h8v8h-8zM1808 472h8v8h-8zM1800 488h8v8h-8zM1768 512h8v8h-8zM1752 520h8v8h-8zM1728 536h8v8h-8zM1712 544h8v8h-8zM1696 552h8v8h-8zM1680 560h8v8h-8zM1664 568h16v8h-16zM1656 576h8v8h-8zM1640 584h8v8h-8zM1624 592h8v8h-8zM1608 600h8v8h-8zM1592 608h8v8h-8zM1576 616h8v8h-8zM1552 632h8v8h-8zM1520 664h8v8h-8zM1512 680h8v8h-8zM1504 696h8v8h-8zM1496 712h8v8h-8zM1488 728h8v8h-8zM1480 744h8v8h-8zM1472 760h8v8h-8zM1464 784h8v8h-8zM1456 808h8v8h-8z"/>
<path fill="#181818" d="M2128 136h8v8h-8zM2048 168h8v8h-8zM1952 216h8v8h-8zM1920 240h8v8h-8zM1880 272h8v8h-8zM1872 280h8v8h-8zM1840 312h8v8h-8zM1832 384h8v8h-8zM1832 392h8v8h-8zM1816 456h8v8h-8zM1792 496h8v8h-8zM1776 504h8v8h-8zM1736 528h8v8h-8zM1720 536h8v8h-8zM1704 544h8v8h-8zM1688 552h8v8h-8zM1672 560h8v8h-8zM1656 568h8v8h-8zM1640 576h16v8h-16zM1632 584h8v8h-8zM1616 592h8v8h-8zM1600 600h8v8h-8zM1584 608h8v8h-8zM1560 624h8v8h-8zM1536 640h8v8h-8zM1528 648h8v8h-8zM1464 776h8v8h-8zM1456 800h8v8h-8z"/>
<path fill="#191919" d="M2104 144h8v8h-8zM2064 160h8v8h-8zM1888 264h8v8h-8zM1832 368h8v8h-8zM1832 376h8v8h-8zM1824 440h8v8h-8zM1800 480h8v8h-8zM1760 512h8v8h-8zM1744 520h8v8h-8zM1728 528h8v8h-8zM1712 536h8v8h-8zM1696 544h8v8h-8zM1680 552h8v8h-8zM1664 560h8v8h-8zM1648 568h8v8h-8zM1632 576h8v8h-8zM1616 584h16v8h-16zM1608 592h8v8h-8zM1592 600h8v8h-8zM1568 616h8v8h-8zM1544 632h8v8h-8zM1512 672h8v8h-8zM1504 688h8v8h-8zM1496 704h8v8h-8zM1488 720h8v8h-8zM1480 736h8v8h-8zM1472 752h8v8h-8zM1448 816h8v8h-8z"/>
<path fill="#1a1a1a" d="M2120 136h8v8h-8zM2080 152h8v8h-8zM2024 176h8v8h-8zM2008 184h8v8h-8zM1992 192h8v8h-8zM1976 200h8v8h-8zM1928 232h8v8h-8zM1896 256h8v8h-8zM1848 296h8v8h-8zM1840 304h8v8h-8zM1832 360h8v8h-8zM1816 448h8v8h-8zM1808 464h8v8h-8zM1768 504h8v8h-8zM1752 512h8v8h-8zM1736 520h8v8h-8zM1720 528h8v8h-8zM1704 536h8v8h-8zM1688 544h8v8h-8zM1672 552h8v8h-8zM1656 560h8v8h-8zM1640 568h8v8h-8zM1624 576h8v8h-8zM1608 584h8v8h-8zM1600 592h8v8h-8zM1584 600h8v8h-8zM1576 608h8v8h-8zM1560 616h8v8h-8zM1552 624h8v8h-8zM1520 656h8v8h-8zM1488 712h8v8h-8zM1464 768h8v8h-8zM1456 792h8v8h-8z"/>
<path fill="#1b1b1b" d="M2040 168h8v8h-8zM1960 208h8v8h-8zM1936 224h8v8h-8zM1904 248h8v8h-8zM1856 288h8v8h-8zM1832 344h8v8h-8zM1832 352h8v8h-8zM1824 432h8v8h-8zM1784 496h8v8h-8zM1712 528h8v8h-8zM1696 536h8v8h-8zM1680 544h8v8h-8zM1656 552h16v8h-16zM1640 560h16v8h-16zM1624 568h16v8h-16zM1616 576h8v8h-8zM1600 584h8v8h-8zM1592 592h8v8h-8zM1568 608h8v8h-8zM1536 632h8v8h-8zM1528 640h8v8h-8zM1512 664h8v8h-8zM1504 680h8v8h-8zM1496 696h8v8h-8zM1480 728h8v8h-8zM1472 744h8v8h-8zM1456 784h8v8h-8zM1448 808h8v8h-8z"/>
<path fill="#1c1c1c" d="M2096 144h8v8h-8zM2056 160h8v8h-8zM1912 240h8v8h-8zM1872 272h8v8h-8zM1864 280h8v8h-8zM1832 336h8v8h-8zM1824 424h8v8h-8zM1808 456h8v8h-8zM1800 472h8v8h-8zM1792 488h8v8h-8zM1760 504h8v8h-8zM1744 512h8v8h-8zM1728 520h8v8h-8zM1704 528h8v8h-8zM1688 536h8v8h-8zM1664 544h16v8h-16zM1648 552h8v8h-8zM1632 560h8v8h-8zM1616 568h8v8h-8zM1608 576h8v8h-8zM1592 584h8v8h-8zM1584 592h8v8h-8zM1576 600h8v8h-8zM1552 616h8v8h-8zM1544 624h8v8h-8zM1520 648h8v8h-8zM1488 704h8v8h-8zM1480 720h8v8h-8zM1464 760h8v8h-8zM1456 776h8v8h-8zM1448 800h8v8h-8z"/>
<path fill="#1d1d1d" d="M2112 136h8v8h-8zM2072 152h8v8h-8zM1944 216h8v8h-8zM1880 264h8v8h-8zM1832 328h8v8h-8zM1824 392h8v8h-8zM1824 400h8v8h-8zM1824 408h8v8h-8zM1824 416h8v8h-8zM1816 440h8v8h-8zM1776 496h8v8h-8zM1736 512h8v8h-8zM1720 520h8v8h-8zM1696 528h8v8h-8zM1680 536h8v8h-8zM1656 544h8v8h-8zM1640 552h8v8h-8zM1624 560h8v8h-8zM1608 568h8v8h-8zM1600 576h8v8h-8zM1576 592h8v8h-8zM1568 600h8v8h-8zM1560 608h8v8h-8zM1528 632h8v8h-8zM1512 656h8v8h-8zM1504 672h8v8h-8zM1496 688h8v8h-8zM1472 736h8v8h-8zM1464 752h8v8h-8zM1448 792h8v8h-8zM1440 816h8v8h-8z"/>
<path fill="#1e1e1e" d="M2032 168h8v8h-8zM2016 176h8v8h-8zM2000 184h8v8h-8zM1984 192h8v8h-8zM1968 200h8v8h-8zM1920 232h8v8h-8zM1888 256h8v8h-8zM1840 296h8v8h-8zM1832 320h8v8h-8zM1824 376h8v8h-8zM1824 384h8v8h-8zM1816 432h8v8h-8zM1808 448h8v8h-8zM1800 464h8v8h-8zM1792 480h8v8h-8zM1768 496h8v8h-8zM1752 504h8v8h-8zM1728 512h8v8h-8zM1712 520h8v8h-8zM1688 528h8v8h-8zM1664 536h16v8h-16zM1648 544h8v8h-8zM1624 552h16v8h-16zM1608 560h16v8h-16zM1600 568h8v8h-8zM1592 576h8v8h-8zM1584 584h8v8h-8zM1568 592h8v8h-8zM1560 600h8v8h-8zM1552 608h8v8h-8zM1544 616h8v8h-8zM1536 624h8v8h-8zM1520 640h8v8h-8zM1512 648h8v8h-8zM1504 664h8v8h-8zM1496 680h8v8h-8zM1488 696h8v8h-8zM1480 712h8v8h-8zM1472 728h8v8h-8zM1464 744h8v8h-8zM1456 760h8v8h-8zM1456 768h8v8h-8zM1448 784h8v8h-8zM1440 808h8v8h-8z"/>
<path fill="#1f1f1f" d="M2088 144h8v8h-8zM2048 160h8v8h-8zM1952 208h8v8h-8zM1896 248h8v8h-8zM1856 280h8v8h-8zM1848 288h8v8h-8zM1832 312h8v8h-8zM1824 360h8v8h-8zM1824 368h8v8h-8zM1816 424h8v8h-8zM1808 440h8v8h-8zM1800 456h8v8h-8zM1744 504h8v8h-8zM1720 512h8v8h-8zM1696 520h16v8h-16zM1680 528h8v8h-8zM1656 536h8v8h-8zM1632 544h16v8h-16zM1616 552h8v8h-8zM1600 560h8v8h-8zM1592 568h8v8h-8zM1584 576h8v8h-8zM1576 584h8v8h-8zM1544 608h8v8h-8zM1536 616h8v8h-8zM1528 624h8v8h-8zM1520 632h8v8h-8zM1512 640h8v8h-8zM1504 656h8v8h-8zM1496 672h8v8h-8zM1488 688h8v8h-8zM1480 704h8v8h-8zM1472 720h8v8h-8zM1464 736h8v8h-8zM1456 752h8v8h-8zM1448 776h8v8h-8zM1440 792h8v8h-8zM1440 800h8v8h-8zM1432 816h8v8h-8z"/>
<path fill="#202020" d="M2128 128h8v8h-8zM2064 152h8v8h-8zM1928 224h8v8h-8zM1864 272h8v8h-8zM1832 304h8v8h-8zM1824 344h8v8h-8zM1824 352h8v8h-8zM1816 408h8v8h-8zM1816 416h8v8h-8zM1808 432h8v8h-8zM1792 472h8v8h-8zM1784 488h8v8h-8zM1760 496h8v8h-8zM1736 504h8v8h-8zM1712 512h8v8h-8zM1688 520h8v8h-8zM1664 528h16v8h-16zM1648 536h8v8h-8zM1624 544h8v8h-8zM1608 552h8v8h-8zM1584 568h8v8h-8zM1576 576h8v8h-8zM1568 584h8v8h-8zM1560 592h8v8h-8zM1552 600h8v8h-8zM1504 648h8v8h-8zM1496 664h8v8h-8zM1488 680h8v8h-8zM1480 696h8v8h-8zM1472 712h8v8h-8zM1464 728h8v8h-8zM1456 744h8v8h-8zM1448 760h8v8h-8zM1448 768h8v8h-8zM1440 784h8v8h-8zM1432 808h8v8h-8z"/>
<path fill="#212121" d="M2104 136h8v8h-8zM1992 184h8v8h-8zM1904 240h8v8h-8zM1872 264h8v8h-8zM1824 336h8v8h-8zM1816 384h8v8h-8zM1816 392h8v8h-8zM1816 400h8v8h-8zM1808 424h8v8h-8zM1800 448h8v8h-8zM1792 464h8v8h-8zM1752 496h8v8h-8zM1728 504h8v8h-8zM1704 512h8v8h-8zM1680 520h8v8h-8zM1656 528h8v8h-8zM1632 536h16v8h-16zM1616 544h8v8h-8zM1600 552h8v8h-8zM1592 560h8v8h-8zM1576 568h8v8h-8zM1568 576h8v8h-8zM1560 584h8v8h-8zM1552 592h8v8h-8zM1544 600h8v8h-8zM1536 608h8v8h-8zM1528 616h8v8h-8zM1520 624h8v8h-8zM1512 632h8v8h-8zM1504 640h8v8h-8zM1496 656h8v8h-8zM1488 672h8v8h-8zM1480 688h8v8h-8zM1472 704h8v8h-8zM1464 720h8v8h-8zM1456 736h8v8h-8zM1448 752h8v8h-8zM1440 776h8v8h-8zM1432 792h8v8h-8zM1432 800h8v8h-8zM1424 816h8v8h-8z"/>
<path fill="#222222" d="M2080 144h8v8h-8zM2024 168h8v8h-8zM2008 176h8v8h-8zM1976 192h8v8h-8zM1960 200h8v8h-8zM1936 216h8v8h-8zM1912 232h8v8h-8zM1880 256h8v8h-8zM1840 288h8v8h-8zM1832 296h8v8h-8zM1824 328h8v8h-8zM1816 368h8v8h-8zM1816 376h8v8h-8zM1808 416h8v8h-8zM1800 440h8v8h-8zM1776 488h8v8h-8zM1744 496h8v8h-8zM1720 504h8v8h-8zM1688 512h16v8h-16zM1664 520h16v8h-16zM1648 528h8v8h-8zM1624 536h8v8h-8zM1600 544h16v8h-16zM1592 552h8v8h-8zM1584 560h8v8h-8zM1560 576h8v8h-8zM1552 584h8v8h-8zM1544 592h8v8h-8zM1536 600h8v8h-8zM1528 608h8v8h-8zM1520 616h8v8h-8zM1512 624h8v8h-8zM1504 632h8v8h-8zM1496 648h8v8h-8zM1488 664h8v8h-8zM1480 680h8v8h-8zM1472 688h8v8h-8zM1472 696h8v8h-8zM1464 704h8v8h-8zM1464 712h8v8h-8zM1456 728h8v8h-8zM1448 744h8v8h-8zM1440 760h8v8h-8zM1440 768h8v8h-8zM1432 784h8v8h-8zM1424 808h8v8h-8z"/>
<path fill="#232323" d="M2120 128h8v8h-8zM2040 160h8v8h-8zM1888 248h8v8h-8zM1848 280h8v8h-8zM1824 320h8v8h-8zM1816 360h8v8h-8zM1808 400h8v8h-8zM1808 408h8v8h-8zM1800 432h8v8h-8zM1792 456h8v8h-8zM1784 480h8v8h-8zM1768 488h8v8h-8zM1736 496h8v8h-8zM1704 504h16v8h-16zM1680 512h8v8h-8zM1656 520h8v8h-8zM1632 528h16v8h-16zM1616 536h8v8h-8zM1592 544h8v8h-8zM1584 552h8v8h-8zM1576 560h8v8h-8zM1568 568h8v8h-8zM1528 600h8v8h-8zM1520 608h8v8h-8zM1496 640h8v8h-8zM1488 656h8v8h-8zM1480 672h8v8h-8zM1472 680h8v8h-8zM1464 696h8v8h-8zM1456 712h8v8h-8zM1456 720h8v8h-8zM1448 728h8v8h-8zM1448 736h8v8h-8zM1440 752h8v8h-8zM1432 768h8v8h-8zM1432 776h8v8h-8zM1424 792h8v8h-8zM1424 800h8v8h-8zM1416 816h8v8h-8z"/>
<path fill="#242424" d="M2096 136h8v8h-8zM2056 152h8v8h-8zM1944 208h8v8h-8zM1920 224h8v8h-8zM1856 272h8v8h-8zM1824 312h8v8h-8zM1816 344h8v8h-8zM1816 352h8v8h-8zM1808 384h8v8h-8zM1808 392h8v8h-8zM1800 424h8v8h-8zM1792 448h8v8h-8zM1784 472h8v8h-8zM1760 488h8v8h-8zM1728 496h8v8h-8zM1696 504h8v8h-8zM1672 512h8v8h-8zM1648 520h8v8h-8zM1624 528h8v8h-8zM1600 536h16v8h-16zM1584 544h8v8h-8zM1576 552h8v8h-8zM1568 560h8v8h-8zM1560 568h8v8h-8zM1552 576h8v8h-8zM1544 584h8v8h-8zM1536 592h8v8h-8zM1512 616h8v8h-8zM1504 624h8v8h-8zM1496 632h8v8h-8zM1488 648h8v8h-8zM1480 664h8v8h-8zM1472 672h8v8h-8zM1464 688h8v8h-8zM1456 704h8v8h-8zM1448 720h8v8h-8zM1440 744h8v8h-8zM1432 760h8v8h-8zM1424 784h8v8h-8zM1416 808h8v8h-8z"/>
<path fill="#252525" d="M2112 128h8v8h-8zM2072 144h8v8h-8zM2016 168h8v8h-8zM2000 176h8v8h-8zM1984 184h8v8h-8zM1968 192h8v8h-8zM1896 240h8v8h-8zM1864 264h8v8h-8zM1816 336h8v8h-8zM1808 368h8v8h-8zM1808 376h8v8h-8zM1800 408h8v8h-8zM1800 416h8v8h-8zM1792 432h8v8h-8zM1792 440h8v8h-8zM1784 464h8v8h-8zM1752 488h8v8h-8zM1712 496h16v8h-16zM1680 504h16v8h-16zM1656 512h16v8h-16zM1632 520h16v8h-16zM1608 528h16v8h-16zM1592 536h8v8h-8zM1576 544h8v8h-8zM1568 552h8v8h-8zM1560 560h8v8h-8zM1552 568h8v8h-8zM1544 576h8v8h-8zM1536 584h8v8h-8zM1528 592h8v8h-8zM1520 600h8v8h-8zM1512 608h8v8h-8zM1504 616h8v8h-8zM1496 624h8v8h-8zM1488 640h8v8h-8zM1480 656h8v8h-8zM1472 664h8v8h-8zM1464 680h8v8h-8zM1456 696h8v8h-8zM1448 712h8v8h-8zM1440 728h8v8h-8zM1440 736h8v8h-8zM1432 752h8v8h-8zM1424 768h8v8h-8zM1424 776h8v8h-8zM1416 792h8v8h-8zM1416 800h8v8h-8zM1408 816h8v8h-8z"/>
<path fill="#262626" d="M2032 160h8v8h-8zM1952 200h8v8h-8zM1928 216h8v8h-8zM1904 232h8v8h-8zM1872 256h8v8h-8zM1840 280h8v8h-8zM1832 288h8v8h-8zM1824 304h8v8h-8zM1816 328h8v8h-8zM1808 360h8v8h-8zM1800 392h8v8h-8zM1800 400h8v8h-8zM1792 424h8v8h-8zM1784 456h8v8h-8zM1776 480h8v8h-8zM1736 488h16v8h-16zM1704 496h8v8h-8zM1672 504h8v8h-8zM1648 512h8v8h-8zM1624 520h8v8h-8zM1600 528h8v8h-8zM1584 536h8v8h-8zM1552 560h8v8h-8zM1544 568h8v8h-8zM1536 576h8v8h-8zM1528 584h8v8h-8zM1520 592h8v8h-8zM1512 600h8v8h-8zM1488 632h8v8h-8zM1480 648h8v8h-8zM1472 656h8v8h-8zM1464 672h8v8h-8zM1456 688h8v8h-8zM1448 704h8v8h-8zM1440 720h8v8h-8zM1432 736h8v8h-8zM1432 744h8v8h-8zM1424 760h8v8h-8zM1416 776h8v8h-8zM1416 784h8v8h-8zM1408 800h8v8h-8zM1408 808h8v8h-8z"/>
<path fill="#272727" d="M2128 120h8v8h-8zM2088 136h8v8h-8zM2048 152h8v8h-8zM1912 224h8v8h-8zM1880 248h8v8h-8zM1848 272h8v8h-8zM1824 296h8v8h-8zM1816 320h8v8h-8zM1808 344h8v8h-8zM1808 352h8v8h-8zM1800 376h8v8h-8zM1800 384h8v8h-8zM1792 400h8v8h-8zM1792 408h8v8h-8zM1792 416h8v8h-8zM1784 440h8v8h-8zM1784 448h8v8h-8zM1768 480h8v8h-8zM1728 488h8v8h-8zM1688 496h16v8h-16zM1664 504h8v8h-8zM1640 512h8v8h-8zM1616 520h8v8h-8zM1592 528h8v8h-8zM1576 536h8v8h-8zM1568 544h8v8h-8zM1560 552h8v8h-8zM1504 608h8v8h-8zM1496 616h8v8h-8zM1488 624h8v8h-8zM1480 640h8v8h-8zM1472 648h8v8h-8zM1464 664h8v8h-8zM1456 680h8v8h-8zM1448 696h8v8h-8zM1440 712h8v8h-8zM1432 728h8v8h-8zM1424 744h8v8h-8zM1424 752h8v8h-8zM1416 768h8v8h-8zM1408 784h8v8h-8zM1408 792h8v8h-8zM1400 808h8v8h-8zM1400 816h8v8h-8z"/>
<path fill="#282828" d="M2104 128h8v8h-8zM2064 144h8v8h-8zM2008 168h8v8h-8zM1992 176h8v8h-8zM1976 184h8v8h-8zM1936 208h8v8h-8zM1888 240h8v8h-8zM1856 264h8v8h-8zM1816 312h8v8h-8zM1808 336h8v8h-8zM1800 360h8v8h-8zM1800 368h8v8h-8zM1792 384h8v8h-8zM1792 392h8v8h-8zM1784 416h8v8h-8zM1784 424h8v8h-8zM1784 432h8v8h-8zM1776 464h8v8h-8zM1776 472h8v8h-8zM1752 480h16v8h-16zM1712 488h16v8h-16zM1680 496h8v8h-8zM1648 504h16v8h-16zM1624 512h16v8h-16zM1608 520h8v8h-8zM1584 528h8v8h-8zM1568 536h8v8h-8zM1560 544h8v8h-8zM1552 552h8v8h-8zM1544 560h8v8h-8zM1536 568h8v8h-8zM1528 576h8v8h-8zM1520 584h8v8h-8zM1512 592h8v8h-8zM1504 600h8v8h-8zM1496 608h8v8h-8zM1488 616h8v8h-8zM1480 632h8v8h-8zM1464 656h8v8h-8zM1456 672h8v8h-8zM1448 688h8v8h-8zM1440 704h8v8h-8zM1432 712h8v8h-8zM1432 720h8v8h-8zM1424 736h8v8h-8zM1416 752h8v8h-8zM1416 760h8v8h-8zM1408 776h8v8h-8zM1400 800h8v8h-8z"/>
<path fill="#292929" d="M2080 136h8v8h-8zM2024 160h8v8h-8zM1960 192h8v8h-8zM1944 200h8v8h-8zM1920 216h8v8h-8zM1896 232h8v8h-8zM1864 256h8v8h-8zM1832 280h8v8h-8zM1824 288h8v8h-8zM1816 304h8v8h-8zM1808 328h8v8h-8zM1800 344h8v8h-8zM1800 352h8v8h-8zM1792 368h8v8h-8zM1792 376h8v8h-8zM1784 392h8v8h-8zM1784 400h8v8h-8zM1784 408h8v8h-8zM1776 440h8v8h-8zM1776 448h8v8h-8zM1776 456h8v8h-8zM1736 480h16v8h-16zM1696 488h16v8h-16zM1664 496h16v8h-16zM1640 504h8v8h-8zM1616 512h8v8h-8zM1592 520h16v8h-16zM1576 528h8v8h-8zM1528 568h8v8h-8zM1480 624h8v8h-8zM1472 640h8v8h-8zM1464 648h8v8h-8zM1456 664h8v8h-8zM1448 680h8v8h-8zM1440 688h8v8h-8zM1440 696h8v8h-8zM1432 704h8v8h-8zM1424 720h8v8h-8zM1424 728h8v8h-8zM1416 744h8v8h-8zM1408 760h8v8h-8zM1408 768h8v8h-8zM1400 784h8v8h-8zM1400 792h8v8h-8zM1392 808h8v8h-8zM1392 816h8v8h-8z"/>
<path fill="#2a2a2a" d="M2120 120h8v8h-8zM2040 152h8v8h-8zM1904 224h8v8h-8zM1872 248h8v8h-8zM1840 272h8v8h-8zM1808 320h8v8h-8zM1800 336h8v8h-8zM1792 360h8v8h-8zM1784 376h8v8h-8zM1784 384h8v8h-8zM1776 416h8v8h-8zM1776 424h8v8h-8zM1776 432h8v8h-8zM1768 472h8v8h-8zM1720 480h16v8h-16zM1680 488h16v8h-16zM1656 496h8v8h-8zM1632 504h8v8h-8zM1608 512h8v8h-8zM1584 520h8v8h-8zM1568 528h8v8h-8zM1560 536h8v8h-8zM1552 544h8v8h-8zM1544 552h8v8h-8zM1536 560h8v8h-8zM1520 576h8v8h-8zM1512 584h8v8h-8zM1504 592h8v8h-8zM1496 600h8v8h-8zM1488 608h8v8h-8zM1480 616h8v8h-8zM1472 632h8v8h-8zM1464 640h8v8h-8zM1456 656h8v8h-8zM1448 672h8v8h-8zM1440 680h8v8h-8zM1432 696h8v8h-8zM1424 712h8v8h-8zM1416 728h8v8h-8zM1416 736h8v8h-8zM1408 744h8v8h-8zM1408 752h8v8h-8zM1400 768h8v8h-8zM1400 776h8v8h-8zM1392 792h8v8h-8zM1392 800h8v8h-8zM1384 816h8v8h-8z"/>
<path fill="#2b2b2b" d="M2096 128h8v8h-8zM2056 144h8v8h-8zM2000 168h8v8h-8zM1984 176h8v8h-8zM1968 184h8v8h-8zM1952 192h8v8h-8zM1928 208h8v8h-8zM1880 240h8v8h-8zM1856 256h8v8h-8zM1848 264h8v8h-8zM1816 296h8v8h-8zM1808 312h8v8h-8zM1800 328h8v8h-8zM1792 344h8v8h-8zM1792 352h8v8h-8zM1784 368h8v8h-8zM1776 392h8v8h-8zM1776 400h8v8h-8zM1776 408h8v8h-8zM1768 456h8v8h-8zM1768 464h8v8h-8zM1760 472h8v8h-8zM1712 480h8v8h-8zM1672 488h8v8h-8zM1648 496h8v8h-8zM1624 504h8v8h-8zM1600 512h8v8h-8zM1576 520h8v8h-8zM1560 528h8v8h-8zM1552 536h8v8h-8zM1544 544h8v8h-8zM1536 552h8v8h-8zM1528 560h8v8h-8zM1520 568h8v8h-8zM1512 576h8v8h-8zM1504 584h8v8h-8zM1496 592h8v8h-8zM1472 624h8v8h-8zM1456 648h8v8h-8zM1448 664h8v8h-8zM1440 672h8v8h-8zM1432 688h8v8h-8zM1424 704h8v8h-8zM1416 720h8v8h-8zM1408 736h8v8h-8zM1400 752h8v8h-8zM1400 760h8v8h-8zM1392 776h8v8h-8zM1392 784h8v8h-8zM1384 800h8v8h-8zM1384 808h8v8h-8z"/>
<path fill="#2c2c2c" d="M2112 120h8v8h-8zM2072 136h8v8h-8zM2032 152h8v8h-8zM2016 160h8v8h-8zM1936 200h8v8h-8zM1912 216h8v8h-8zM1888 232h8v8h-8zM1864 248h8v8h-8zM1832 272h8v8h-8zM1824 280h8v8h-8zM1808 304h8v8h-8zM1800 320h8v8h-8zM1792 336h8v8h-8zM1784 352h8v8h-8zM1784 360h8v8h-8zM1776 368h8v8h-8zM1776 376h8v8h-8zM1776 384h8v8h-8zM1768 424h8v8h-8zM1768 432h8v8h-8zM1768 440h8v8h-8zM1768 448h8v8h-8zM1744 472h16v8h-16zM1696 480h16v8h-16zM1664 488h8v8h-8zM1632 496h16v8h-16zM1608 504h16v8h-16zM1592 512h8v8h-8zM1568 520h8v8h-8zM1488 600h8v8h-8zM1480 608h8v8h-8zM1472 616h8v8h-8zM1464 632h8v8h-8zM1456 640h8v8h-8zM1448 656h8v8h-8zM1440 664h8v8h-8zM1432 680h8v8h-8zM1424 696h8v8h-8zM1416 704h8v8h-8zM1416 712h8v8h-8zM1408 720h8v8h-8zM1408 728h8v8h-8zM1400 744h8v8h-8zM1392 760h8v8h-8zM1392 768h8v8h-8zM1384 784h8v8h-8zM1384 792h8v8h-8zM1376 808h8v8h-8zM1376 816h8v8h-8z"/>
<path fill="#2d2d2d" d="M2088 128h8v8h-8zM2048 144h8v8h-8zM1896 224h8v8h-8zM1872 240h8v8h-8zM1840 264h8v8h-8zM1816 288h8v8h-8zM1800 312h8v8h-8zM1792 328h8v8h-8zM1784 344h8v8h-8zM1776 360h8v8h-8zM1768 384h8v8h-8zM1768 392h8v8h-8zM1768 400h8v8h-8zM1768 408h8v8h-8zM1768 416h8v8h-8zM1728 472h16v8h-16zM1680 480h16v8h-16zM1648 488h16v8h-16zM1624 496h8v8h-8zM1600 504h8v8h-8zM1584 512h8v8h-8zM1560 520h8v8h-8zM1552 528h8v8h-8zM1544 536h8v8h-8zM1536 544h8v8h-8zM1528 552h8v8h-8zM1520 560h8v8h-8zM1512 568h8v8h-8zM1504 576h8v8h-8zM1496 584h8v8h-8zM1488 592h8v8h-8zM1480 600h8v8h-8zM1464 624h8v8h-8zM1456 632h8v8h-8zM1448 648h8v8h-8zM1440 656h8v8h-8zM1432 672h8v8h-8zM1424 688h8v8h-8zM1416 696h8v8h-8zM1408 712h8v8h-8zM1400 728h8v8h-8zM1400 736h8v8h-8zM1392 752h8v8h-8zM1384 776h8v8h-8zM1376 792h8v8h-8zM1376 800h8v8h-8z"/>
<path fill="#2e2e2e" d="M2128 112h8v8h-8zM2064 136h8v8h-8zM2008 160h8v8h-8zM1992 168h8v8h-8zM1976 176h8v8h-8zM1960 184h8v8h-8zM1944 192h8v8h-8zM1920 208h8v8h-8zM1848 256h8v8h-8zM1808 296h8v8h-8zM1792 320h8v8h-8zM1784 336h8v8h-8zM1776 352h8v8h-8zM1768 368h8v8h-8zM1768 376h8v8h-8zM1760 464h8v8h-8zM1704 472h24v8h-24zM1664 480h16v8h-16zM1640 488h8v8h-8zM1616 496h8v8h-8zM1592 504h8v8h-8zM1576 512h8v8h-8zM1552 520h8v8h-8zM1544 528h8v8h-8zM1536 536h8v8h-8zM1528 544h8v8h-8zM1520 552h8v8h-8zM1512 560h8v8h-8zM1504 568h8v8h-8zM1496 576h8v8h-8zM1472 608h8v8h-8zM1464 616h8v8h-8zM1448 640h8v8h-8zM1432 664h8v8h-8zM1424 680h8v8h-8zM1416 688h8v8h-8zM1408 704h8v8h-8zM1400 720h8v8h-8zM1392 736h8v8h-8zM1392 744h8v8h-8zM1384 760h8v8h-8zM1384 768h8v8h-8zM1376 784h8v8h-8zM1368 808h8v8h-8zM1368 816h8v8h-8z"/>
<path fill="#2f2f2f" d="M2104 120h8v8h-8zM2024 152h8v8h-8zM1928 200h8v8h-8zM1904 216h8v8h-8zM1880 232h8v8h-8zM1856 248h8v8h-8zM1824 272h8v8h-8zM1816 280h8v8h-8zM1800 304h8v8h-8zM1784 328h8v8h-8zM1776 344h8v8h-8zM1768 352h8v8h-8zM1768 360h8v8h-8zM1760 384h8v8h-8zM1760 392h8v8h-8zM1760 400h8v8h-8zM1760 408h8v8h-8zM1760 416h8v8h-8zM1760 424h8v8h-8zM1760 432h8v8h-8zM1760 440h8v8h-8zM1760 448h8v8h-8zM1760 456h8v8h-8zM1744 464h16v8h-16zM1688 472h16v8h-16zM1656 480h8v8h-8zM1632 488h8v8h-8zM1608 496h8v8h-8zM1584 504h8v8h-8zM1568 512h8v8h-8zM1488 584h8v8h-8zM1480 592h8v8h-8zM1472 600h8v8h-8zM1464 608h8v8h-8zM1456 624h8v8h-8zM1448 632h8v8h-8zM1440 648h8v8h-8zM1432 656h8v8h-8zM1424 672h8v8h-8zM1416 680h8v8h-8zM1408 696h8v8h-8zM1400 712h8v8h-8zM1392 728h8v8h-8zM1384 744h8v8h-8zM1384 752h8v8h-8zM1376 768h8v8h-8zM1376 776h8v8h-8zM1368 792h8v8h-8zM1368 800h8v8h-8zM1360 816h8v8h-8z"/>
<path fill="#303030" d="M2120 112h8v8h-8zM2080 128h8v8h-8zM2040 144h8v8h-8zM1984 168h8v8h-8zM1968 176h8v8h-8zM1912 208h8v8h-8zM1888 224h8v8h-8zM1864 240h8v8h-8zM1832 264h8v8h-8zM1808 288h8v8h-8zM1800 296h8v8h-8zM1792 312h8v8h-8zM1784 320h8v8h-8zM1776 336h8v8h-8zM1768 344h8v8h-8zM1760 360h8v8h-8zM1760 368h8v8h-8zM1760 376h8v8h-8zM1728 464h16v8h-16zM1672 472h16v8h-16zM1640 480h16v8h-16zM1616 488h16v8h-16zM1600 496h8v8h-8zM1576 504h8v8h-8zM1552 512h16v8h-16zM1544 520h8v8h-8zM1536 528h8v8h-8zM1528 536h8v8h-8zM1520 544h8v8h-8zM1512 552h8v8h-8zM1504 560h8v8h-8zM1496 568h8v8h-8zM1488 576h8v8h-8zM1480 584h8v8h-8zM1456 616h8v8h-8zM1448 624h8v8h-8zM1440 640h8v8h-8zM1432 648h8v8h-8zM1424 664h8v8h-8zM1416 672h8v8h-8zM1408 688h8v8h-8zM1400 704h8v8h-8zM1392 712h8v8h-8zM1392 720h8v8h-8zM1384 736h8v8h-8zM1376 752h8v8h-8zM1376 760h8v8h-8zM1368 776h8v8h-8zM1368 784h8v8h-8zM1360 800h8v8h-8zM1360 808h8v8h-8z"/>
<path fill="#313131" d="M2096 120h8v8h-8zM2072 128h8v8h-8zM2056 136h8v8h-8zM2016 152h8v8h-8zM2000 160h8v8h-8zM1952 184h8v8h-8zM1936 192h8v8h-8zM1896 216h8v8h-8zM1872 232h8v8h-8zM1840 256h8v8h-8zM1816 272h8v8h-8zM1792 304h8v8h-8zM1784 312h8v8h-8zM1776 328h8v8h-8zM1768 336h8v8h-8zM1760 344h8v8h-8zM1760 352h8v8h-8zM1704 464h24v8h-24zM1656 472h16v8h-16zM1632 480h8v8h-8zM1608 488h8v8h-8zM1584 496h16v8h-16zM1568 504h8v8h-8zM1544 512h8v8h-8zM1536 520h8v8h-8zM1528 528h8v8h-8zM1520 536h8v8h-8zM1512 544h8v8h-8zM1504 552h8v8h-8zM1472 592h8v8h-8zM1464 600h8v8h-8zM1456 608h8v8h-8zM1440 632h8v8h-8zM1432 640h8v8h-8zM1424 656h8v8h-8zM1416 664h8v8h-8zM1408 680h8v8h-8zM1400 688h8v8h-8zM1400 696h8v8h-8zM1392 704h8v8h-8zM1384 720h8v8h-8zM1384 728h8v8h-8zM1376 744h8v8h-8zM1368 760h8v8h-8zM1368 768h8v8h-8zM1360 784h8v8h-8zM1360 792h8v8h-8z"/>
<path fill="#323232" d="M2112 112h8v8h-8zM2088 120h8v8h-8zM2048 136h8v8h-8zM2032 144h8v8h-8zM2008 152h8v8h-8zM1992 160h8v8h-8zM1976 168h8v8h-8zM1960 176h8v8h-8zM1944 184h8v8h-8zM1920 200h8v8h-8zM1904 208h8v8h-8zM1880 224h8v8h-8zM1856 240h8v8h-8zM1848 248h8v8h-8zM1824 264h8v8h-8zM1808 280h8v8h-8zM1800 288h8v8h-8zM1792 296h8v8h-8zM1776 320h8v8h-8zM1768 328h8v8h-8zM1760 336h8v8h-8zM1752 352h8v8h-8zM1752 360h8v8h-8zM1752 368h8v8h-8zM1752 376h8v8h-8zM1752 384h8v8h-8zM1752 392h8v8h-8zM1752 400h8v8h-8zM1752 408h8v8h-8zM1752 416h8v8h-8zM1752 424h8v8h-8zM1752 432h8v8h-8zM1752 440h8v8h-8zM1752 448h8v8h-8zM1752 456h8v8h-8zM1688 464h16v8h-16zM1648 472h8v8h-8zM1624 480h8v8h-8zM1600 488h8v8h-8zM1576 496h8v8h-8zM1560 504h8v8h-8zM1496 560h8v8h-8zM1488 568h8v8h-8zM1480 576h8v8h-8zM1472 584h8v8h-8zM1464 592h8v8h-8zM1448 616h8v8h-8zM1440 624h8v8h-8zM1424 648h8v8h-8zM1416 656h8v8h-8zM1408 672h8v8h-8zM1400 680h8v8h-8zM1392 696h8v8h-8zM1384 712h8v8h-8zM1376 728h8v8h-8zM1376 736h8v8h-8zM1368 752h8v8h-8zM1360 768h8v8h-8zM1360 776h8v8h-8z"/>
<path fill="#333333" d="M2120 104h16v8h-16zM2096 112h16v8h-16zM2072 120h16v8h-16zM2056 128h16v8h-16zM2032 136h16v8h-16zM2016 144h16v8h-16zM2000 152h8v8h-8zM1984 160h8v8h-8zM1968 168h8v8h-8zM1952 176h8v8h-8zM1936 184h8v8h-8zM1920 192h16v8h-16zM1912 200h8v8h-8zM1896 208h8v8h-8zM1888 216h8v8h-8zM1872 224h8v8h-8zM1864 232h8v8h-8zM1848 240h8v8h-8zM1840 248h8v8h-8zM1832 256h8v8h-8zM1816 264h8v8h-8zM1808 272h8v8h-8zM1800 280h8v8h-8zM1784 304h8v8h-8zM1776 312h8v8h-8zM1768 320h8v8h-8zM1760 328h8v8h-8zM1752 344h8v8h-8zM1712 456h40v8h-40zM1656 464h32v8h-32zM1632 472h16v8h-16zM1608 480h16v8h-16zM1584 488h16v8h-16zM1568 496h8v8h-8zM1544 504h16v8h-16zM1536 512h8v8h-8zM1528 520h8v8h-8zM1520 528h8v8h-8zM1512 536h8v8h-8zM1504 544h8v8h-8zM1496 552h8v8h-8zM1488 560h8v8h-8zM1480 568h8v8h-8zM1472 576h8v8h-8zM1464 584h8v8h-8zM1456 600h8v8h-8zM1448 608h8v8h-8zM1440 616h8v8h-8zM1432 632h8v8h-8zM1424 640h8v8h-8zM1408 664h8v8h-8zM1392 688h8v8h-8zM1384 704h8v8h-8zM1376 720h8v8h-8zM1368 736h8v8h-8zM1368 744h8v8h-8zM1360 760h8v8h-8z"/>
<path fill="#343434" d="M2120 96h16v8h-16zM2096 104h24v8h-24zM2080 112h16v8h-16zM2056 120h16v8h-16zM2040 128h16v8h-16zM2016 136h16v8h-16zM2000 144h16v8h-16zM1984 152h16v8h-16zM1968 160h16v8h-16zM1952 168h16v8h-16zM1936 176h16v8h-16zM1920 184h16v8h-16zM1912 192h8v8h-8zM1896 200h16v8h-16zM1888 208h8v8h-8zM1872 216h16v8h-16zM1864 224h8v8h-8zM1856 232h8v8h-8zM1840 240h8v8h-8zM1832 248h8v8h-8zM1824 256h8v8h-8zM1808 264h8v8h-8zM1800 272h8v8h-8zM1792 288h8v8h-8zM1784 296h8v8h-8zM1776 304h8v8h-8zM1768 312h8v8h-8zM1760 320h8v8h-8zM1752 336h8v8h-8zM1744 344h8v8h-8zM1744 352h8v8h-8zM1744 360h8v8h-8zM1744 368h8v8h-8zM1744 376h8v8h-8zM1744 384h8v8h-8zM1744 392h8v8h-8zM1744 400h8v8h-8zM1744 408h8v8h-8zM1744 416h8v8h-8zM1744 424h8v8h-8zM1744 432h8v8h-8zM1744 440h8v8h-8zM1736 448h16v8h-16zM1672 456h40v8h-40zM1640 464h16v8h-16zM1616 472h16v8h-16zM1592 480h16v8h-16zM1568 488h16v8h-16zM1552 496h16v8h-16zM1536 504h8v8h-8zM1528 512h8v8h-8zM1520 520h8v8h-8zM1512 528h8v8h-8zM1504 536h8v8h-8zM1496 544h8v8h-8zM1488 552h8v8h-8zM1480 560h8v8h-8zM1472 568h8v8h-8zM1456 592h8v8h-8zM1448 600h8v8h-8zM1440 608h8v8h-8zM1432 624h8v8h-8zM1424 632h8v8h-8zM1416 648h8v8h-8zM1408 656h8v8h-8zM1400 672h8v8h-8zM1392 680h8v8h-8zM1384 696h8v8h-8zM1376 704h8v8h-8zM1376 712h8v8h-8zM1368 728h8v8h-8zM1360 752h8v8h-8z"/>
<path fill="#353535" d="M2128 88h8v8h-8zM2104 96h16v8h-16zM2080 104h16v8h-16zM2064 112h16v8h-16zM2040 120h16v8h-16zM2024 128h16v8h-16zM2000 136h16v8h-16zM1984 144h16v8h-16zM1968 152h16v8h-16zM1952 160h16v8h-16zM1936 168h16v8h-16zM1920 176h16v8h-16zM1912 184h8v8h-8zM1896 192h16v8h-16zM1888 200h8v8h-8zM1880 208h8v8h-8zM1864 216h8v8h-8zM1856 224h8v8h-8zM1848 232h8v8h-8zM1832 240h8v8h-8zM1824 248h8v8h-8zM1816 256h8v8h-8zM1792 280h8v8h-8zM1784 288h8v8h-8zM1776 296h8v8h-8zM1768 304h8v8h-8zM1752 328h8v8h-8zM1744 336h8v8h-8zM1696 448h40v8h-40zM1648 456h24v8h-24zM1624 464h16v8h-16zM1600 472h16v8h-16zM1576 480h16v8h-16zM1560 488h8v8h-8zM1544 496h8v8h-8zM1528 504h8v8h-8zM1520 512h8v8h-8zM1512 520h8v8h-8zM1504 528h8v8h-8zM1496 536h8v8h-8zM1488 544h8v8h-8zM1480 552h8v8h-8zM1472 560h8v8h-8zM1464 576h8v8h-8zM1456 584h8v8h-8zM1448 592h8v8h-8zM1440 600h8v8h-8zM1432 616h8v8h-8zM1424 624h8v8h-8zM1416 640h8v8h-8zM1408 648h8v8h-8zM1400 664h8v8h-8zM1392 672h8v8h-8zM1384 688h8v8h-8zM1368 720h8v8h-8zM1360 736h8v8h-8zM1360 744h8v8h-8z"/>
<path fill="#363636" d="M2128 80h8v8h-8zM2104 88h24v8h-24zM2088 96h16v8h-16zM2064 104h16v8h-16zM2040 112h24v8h-24zM2024 120h16v8h-16zM2008 128h16v8h-16zM1984 136h16v8h-16zM1968 144h16v8h-16zM1952 152h16v8h-16zM1936 160h16v8h-16zM1928 168h8v8h-8zM1912 176h8v8h-8zM1904 184h8v8h-8zM1888 192h8v8h-8zM1880 200h8v8h-8zM1864 208h16v8h-16zM1856 216h8v8h-8zM1848 224h8v8h-8zM1832 232h16v8h-16zM1824 240h8v8h-8zM1816 248h8v8h-8zM1808 256h8v8h-8zM1800 264h8v8h-8zM1792 272h8v8h-8zM1784 280h8v8h-8zM1776 288h8v8h-8zM1768 296h8v8h-8zM1760 312h8v8h-8zM1752 320h8v8h-8zM1744 328h8v8h-8zM1736 344h8v8h-8zM1736 352h8v8h-8zM1736 360h8v8h-8zM1736 368h8v8h-8zM1736 376h8v8h-8zM1736 384h8v8h-8zM1736 392h8v8h-8zM1736 400h8v8h-8zM1736 408h8v8h-8zM1736 416h8v8h-8zM1736 424h8v8h-8zM1736 432h8v8h-8zM1728 440h16v8h-16zM1664 448h32v8h-32zM1624 456h24v8h-24zM1608 464h16v8h-16zM1584 472h16v8h-16zM1568 480h8v8h-8zM1544 488h16v8h-16zM1528 496h16v8h-16zM1520 504h8v8h-8zM1512 512h8v8h-8zM1504 520h8v8h-8zM1496 528h8v8h-8zM1488 536h8v8h-8zM1480 544h8v8h-8zM1464 568h8v8h-8zM1456 576h8v8h-8zM1448 584h8v8h-8zM1440 592h8v8h-8zM1432 608h8v8h-8zM1424 616h8v8h-8zM1416 632h8v8h-8zM1408 640h8v8h-8zM1400 656h8v8h-8zM1392 664h8v8h-8zM1384 680h8v8h-8zM1376 696h8v8h-8zM1368 704h8v8h-8zM1368 712h8v8h-8zM1360 728h8v8h-8z"/>
<path fill="#373737" d="M2112 80h16v8h-16zM2088 88h16v8h-16zM2064 96h24v8h-24zM2048 104h16v8h-16zM2024 112h16v8h-16zM2008 120h16v8h-16zM1992 128h16v8h-16zM1968 136h16v8h-16zM1952 144h16v8h-16zM1936 152h16v8h-16zM1928 160h8v8h-8zM1912 168h16v8h-16zM1904 176h8v8h-8zM1888 184h16v8h-16zM1880 192h8v8h-8zM1872 200h8v8h-8zM1856 208h8v8h-8zM1848 216h8v8h-8zM1840 224h8v8h-8zM1824 232h8v8h-8zM1816 240h8v8h-8zM1808 248h8v8h-8zM1800 256h8v8h-8zM1792 264h8v8h-8zM1784 272h8v8h-8zM1776 280h8v8h-8zM1768 288h8v8h-8zM1760 304h8v8h-8zM1752 312h8v8h-8zM1744 320h8v8h-8zM1736 328h8v8h-8zM1736 336h8v8h-8zM1728 432h8v8h-8zM1688 440h40v8h-40zM1632 448h32v8h-32zM1608 456h16v8h-16zM1592 464h16v8h-16zM1576 472h8v8h-8zM1552 480h16v8h-16zM1536 488h8v8h-8zM1520 496h8v8h-8zM1512 504h8v8h-8zM1504 512h8v8h-8zM1496 520h8v8h-8zM1488 528h8v8h-8zM1472 552h8v8h-8zM1464 560h8v8h-8zM1456 568h8v8h-8zM1448 576h8v8h-8zM1432 600h8v8h-8zM1424 608h8v8h-8zM1416 624h8v8h-8zM1408 632h8v8h-8zM1400 648h8v8h-8zM1392 656h8v8h-8zM1384 672h8v8h-8zM1376 688h8v8h-8zM1368 696h8v8h-8zM1360 712h8v8h-8zM1360 720h8v8h-8z"/>
<path fill="#383838" d="M2112 72h24v8h-24zM2096 80h16v8h-16zM2072 88h16v8h-16zM2048 96h16v8h-16zM2032 104h16v8h-16zM2008 112h16v8h-16zM1992 120h16v8h-16zM1976 128h16v8h-16zM1960 136h8v8h-8zM1944 144h8v8h-8zM1928 152h8v8h-8zM1912 160h16v8h-16zM1904 168h8v8h-8zM1888 176h16v8h-16zM1880 184h8v8h-8zM1872 192h8v8h-8zM1856 200h16v8h-16zM1848 208h8v8h-8zM1840 216h8v8h-8zM1832 224h8v8h-8zM1808 240h8v8h-8zM1800 248h8v8h-8zM1792 256h8v8h-8zM1784 264h8v8h-8zM1776 272h8v8h-8zM1760 296h8v8h-8zM1752 304h8v8h-8zM1744 312h8v8h-8zM1736 320h8v8h-8zM1728 344h8v8h-8zM1728 352h8v8h-8zM1728 360h8v8h-8zM1728 368h8v8h-8zM1728 376h8v8h-8zM1728 384h8v8h-8zM1728 392h8v8h-8zM1728 400h8v8h-8zM1728 408h8v8h-8zM1728 416h8v8h-8zM1728 424h8v8h-8zM1712 432h16v8h-16zM1656 440h32v8h-32zM1616 448h16v8h-16zM1600 456h8v8h-8zM1576 464h16v8h-16zM1560 472h16v8h-16zM1544 480h8v8h-8zM1528 488h8v8h-8zM1512 496h8v8h-8zM1504 504h8v8h-8zM1496 512h8v8h-8zM1488 520h8v8h-8zM1480 536h8v8h-8zM1472 544h8v8h-8zM1464 552h8v8h-8zM1456 560h8v8h-8zM1448 568h8v8h-8zM1440 584h8v8h-8zM1432 592h8v8h-8zM1424 600h8v8h-8zM1416 616h8v8h-8zM1408 624h8v8h-8zM1400 640h8v8h-8zM1392 648h8v8h-8zM1384 664h8v8h-8zM1376 680h8v8h-8zM1368 688h8v8h-8zM1360 704h8v8h-8z"/>
<path fill="#393939" d="M2120 64h16v8h-16zM2096 72h16v8h-16zM2072 80h24v8h-24zM2056 88h16v8h-16zM2032 96h16v8h-16zM2016 104h16v8h-16zM1992 112h16v8h-16zM1976 120h16v8h-16zM1960 128h16v8h-16zM1944 136h16v8h-16zM1928 144h16v8h-16zM1912 152h16v8h-16zM1904 160h8v8h-8zM1896 168h8v8h-8zM1880 176h8v8h-8zM1872 184h8v8h-8zM1864 192h8v8h-8zM1848 200h8v8h-8zM1840 208h8v8h-8zM1832 216h8v8h-8zM1824 224h8v8h-8zM1816 232h8v8h-8zM1800 240h8v8h-8zM1792 248h8v8h-8zM1784 256h8v8h-8zM1768 280h8v8h-8zM1760 288h8v8h-8zM1752 296h8v8h-8zM1744 304h8v8h-8zM1736 312h8v8h-8zM1728 328h8v8h-8zM1728 336h8v8h-8zM1720 392h8v8h-8zM1720 400h8v8h-8zM1720 408h8v8h-8zM1720 416h8v8h-8zM1720 424h8v8h-8zM1672 432h40v8h-40zM1624 440h32v8h-32zM1600 448h16v8h-16zM1584 456h16v8h-16zM1568 464h8v8h-8zM1544 472h16v8h-16zM1528 480h16v8h-16zM1520 488h8v8h-8zM1504 496h8v8h-8zM1496 504h8v8h-8zM1480 528h8v8h-8zM1472 536h8v8h-8zM1464 544h8v8h-8zM1456 552h8v8h-8zM1448 560h8v8h-8zM1440 576h8v8h-8zM1432 584h8v8h-8zM1424 592h8v8h-8zM1416 608h8v8h-8zM1408 616h8v8h-8zM1400 632h8v8h-8zM1392 640h8v8h-8zM1384 656h8v8h-8zM1376 672h8v8h-8zM1368 680h8v8h-8zM1360 696h8v8h-8z"/>
<path fill="#3a3a3a" d="M2096 64h24v8h-24zM2080 72h16v8h-16zM2056 80h16v8h-16zM2032 88h24v8h-24zM2016 96h16v8h-16zM1992 104h24v8h-24zM1976 112h16v8h-16zM1960 120h16v8h-16zM1944 128h16v8h-16zM1928 136h16v8h-16zM1912 144h16v8h-16zM1904 152h8v8h-8zM1896 160h8v8h-8zM1880 168h16v8h-16zM1872 176h8v8h-8zM1864 184h8v8h-8zM1848 192h16v8h-16zM1840 200h8v8h-8zM1832 208h8v8h-8zM1824 216h8v8h-8zM1816 224h8v8h-8zM1808 232h8v8h-8zM1776 264h8v8h-8zM1768 272h8v8h-8zM1760 280h8v8h-8zM1752 288h8v8h-8zM1744 296h8v8h-8zM1736 304h8v8h-8zM1728 320h8v8h-8zM1720 336h8v8h-8zM1720 344h8v8h-8zM1720 352h8v8h-8zM1720 360h8v8h-8zM1720 368h8v8h-8zM1720 376h8v8h-8zM1720 384h8v8h-8zM1712 392h8v8h-8zM1712 400h8v8h-8zM1712 408h8v8h-8zM1712 416h8v8h-8zM1664 424h56v8h-56zM1624 432h48v8h-48zM1600 440h24v8h-24zM1584 448h16v8h-16zM1568 456h16v8h-16zM1552 464h16v8h-16zM1536 472h8v8h-8zM1520 480h8v8h-8zM1504 488h16v8h-16zM1496 496h8v8h-8zM1488 512h8v8h-8zM1480 520h8v8h-8zM1472 528h8v8h-8zM1464 536h8v8h-8zM1456 544h8v8h-8zM1448 552h8v8h-8zM1440 568h8v8h-8zM1432 576h8v8h-8zM1424 584h8v8h-8zM1416 600h8v8h-8zM1408 608h8v8h-8zM1400 624h8v8h-8zM1392 632h8v8h-8zM1384 648h8v8h-8zM1376 656h8v8h-8zM1376 664h8v8h-8zM1368 672h8v8h-8zM1360 688h8v8h-8z"/>
<path fill="#3b3b3b" d="M2080 64h16v8h-16zM2056 72h24v8h-24zM2032 80h24v8h-24zM2016 88h16v8h-16zM1992 96h24v8h-24zM1976 104h16v8h-16zM1960 112h16v8h-16zM1944 120h16v8h-16zM1928 128h16v8h-16zM1912 136h16v8h-16zM1904 144h8v8h-8zM1896 152h8v8h-8zM1880 160h16v8h-16zM1872 168h8v8h-8zM1864 176h8v8h-8zM1856 184h8v8h-8zM1840 192h8v8h-8zM1832 200h8v8h-8zM1824 208h8v8h-8zM1816 216h8v8h-8zM1808 224h8v8h-8zM1800 232h8v8h-8zM1792 240h8v8h-8zM1784 248h8v8h-8zM1776 256h8v8h-8zM1768 264h8v8h-8zM1760 272h8v8h-8zM1752 280h8v8h-8zM1744 288h8v8h-8zM1736 296h8v8h-8zM1728 312h8v8h-8zM1720 320h8v8h-8zM1720 328h8v8h-8zM1712 344h8v8h-8zM1712 352h8v8h-8zM1712 360h8v8h-8zM1712 368h8v8h-8zM1704 376h16v8h-16zM1704 384h16v8h-16zM1704 392h8v8h-8zM1704 400h8v8h-8zM1696 408h16v8h-16zM1656 416h56v8h-56zM1624 424h40v8h-40zM1600 432h24v8h-24zM1584 440h16v8h-16zM1568 448h16v8h-16zM1552 456h16v8h-16zM1536 464h16v8h-16zM1520 472h16v8h-16zM1512 480h8v8h-8zM1496 488h8v8h-8zM1488 504h8v8h-8zM1480 512h8v8h-8zM1472 520h8v8h-8zM1464 528h8v8h-8zM1456 536h8v8h-8zM1448 544h8v8h-8zM1440 560h8v8h-8zM1432 568h8v8h-8zM1424 576h8v8h-8zM1416 584h8v8h-8zM1416 592h8v8h-8zM1408 600h8v8h-8zM1400 608h8v8h-8zM1400 616h8v8h-8zM1392 624h8v8h-8zM1384 640h8v8h-8zM1376 648h8v8h-8zM1368 664h8v8h-8zM1360 680h8v8h-8z"/>
<path fill="#3c3c3c" d="M2056 64h24v8h-24zM2032 72h24v8h-24zM2016 80h16v8h-16zM1992 88h24v8h-24zM1976 96h16v8h-16zM1960 104h16v8h-16zM1944 112h16v8h-16zM1928 120h16v8h-16zM1912 128h16v8h-16zM1904 136h8v8h-8zM1896 144h8v8h-8zM1880 152h16v8h-16zM1872 160h8v8h-8zM1864 168h8v8h-8zM1856 176h8v8h-8zM1840 184h16v8h-16zM1832 192h8v8h-8zM1824 200h8v8h-8zM1816 208h8v8h-8zM1808 216h8v8h-8zM1800 224h8v8h-8zM1792 232h8v8h-8zM1784 240h8v8h-8zM1776 248h8v8h-8zM1768 256h8v8h-8zM1760 264h8v8h-8zM1752 272h8v8h-8zM1744 280h8v8h-8zM1736 288h8v8h-8zM1728 296h8v8h-8zM1728 304h8v8h-8zM1720 312h8v8h-8zM1712 320h8v8h-8zM1712 328h8v8h-8zM1712 336h8v8h-8zM1704 344h8v8h-8zM1704 352h8v8h-8zM1704 360h8v8h-8zM1696 368h16v8h-16zM1696 376h8v8h-8zM1696 384h8v8h-8zM1688 392h16v8h-16zM1672 400h32v8h-32zM1648 408h48v8h-48zM1616 416h40v8h-40zM1600 424h24v8h-24zM1584 432h16v8h-16zM1568 440h16v8h-16zM1552 448h16v8h-16zM1536 456h16v8h-16zM1528 464h8v8h-8zM1512 472h8v8h-8zM1504 480h8v8h-8zM1488 496h8v8h-8zM1480 504h8v8h-8zM1472 512h8v8h-8zM1464 520h8v8h-8zM1456 528h8v8h-8zM1448 536h8v8h-8zM1440 552h8v8h-8zM1432 560h8v8h-8zM1424 568h8v8h-8zM1416 576h8v8h-8zM1408 592h8v8h-8zM1400 600h8v8h-8zM1392 616h8v8h-8zM1384 624h8v8h-8zM1384 632h8v8h-8zM1376 640h8v8h-8zM1368 656h8v8h-8zM1360 664h8v8h-8zM1360 672h8v8h-8z"/>
<path fill="#3d3d3d" d="M2032 64h24v8h-24zM2016 72h16v8h-16zM1992 80h24v8h-24zM1976 88h16v8h-16zM1960 96h16v8h-16zM1944 104h16v8h-16zM1928 112h16v8h-16zM1912 120h16v8h-16zM1904 128h8v8h-8zM1896 136h8v8h-8zM1880 144h16v8h-16zM1872 152h8v8h-8zM1864 160h8v8h-8zM1856 168h8v8h-8zM1840 176h16v8h-16zM1832 184h8v8h-8zM1824 192h8v8h-8zM1816 200h8v8h-8zM1808 208h8v8h-8zM1800 216h8v8h-8zM1792 224h8v8h-8zM1784 232h8v8h-8zM1776 240h8v8h-8zM1768 248h8v8h-8zM1760 256h8v8h-8zM1752 264h8v8h-8zM1744 272h8v8h-8zM1736 280h8v8h-8zM1728 288h8v8h-8zM1720 304h8v8h-8zM1712 312h8v8h-8zM1704 328h8v8h-8zM1704 336h8v8h-8zM1696 344h8v8h-8zM1696 352h8v8h-8zM1688 360h16v8h-16zM1688 368h8v8h-8zM1680 376h16v8h-16zM1680 384h16v8h-16zM1656 392h32v8h-32zM1632 400h40v8h-40zM1616 408h32v8h-32zM1592 416h24v8h-24zM1576 424h24v8h-24zM1568 432h16v8h-16zM1552 440h16v8h-16zM1536 448h16v8h-16zM1528 456h8v8h-8zM1512 464h16v8h-16zM1504 472h8v8h-8zM1496 480h8v8h-8zM1488 488h8v8h-8zM1480 496h8v8h-8zM1472 504h8v8h-8zM1464 512h8v8h-8zM1456 520h8v8h-8zM1448 528h8v8h-8zM1440 536h8v8h-8zM1440 544h8v8h-8zM1432 552h8v8h-8zM1424 560h8v8h-8zM1416 568h8v8h-8zM1408 584h8v8h-8zM1400 592h8v8h-8zM1392 608h8v8h-8zM1384 616h8v8h-8zM1376 632h8v8h-8zM1368 640h8v8h-8zM1368 648h8v8h-8zM1360 656h8v8h-8z"/>
<path fill="#3e3e3e" d="M2016 64h16v8h-16zM2000 72h16v8h-16zM1976 80h16v8h-16zM1960 88h16v8h-16zM1944 96h16v8h-16zM1928 104h16v8h-16zM1912 112h16v8h-16zM1904 120h8v8h-8zM1888 128h16v8h-16zM1880 136h16v8h-16zM1872 144h8v8h-8zM1864 152h8v8h-8zM1856 160h8v8h-8zM1840 168h16v8h-16zM1832 176h8v8h-8zM1824 184h8v8h-8zM1816 192h8v8h-8zM1808 200h8v8h-8zM1800 208h8v8h-8zM1792 216h8v8h-8zM1784 224h8v8h-8zM1776 232h8v8h-8zM1768 240h8v8h-8zM1760 248h8v8h-8zM1752 256h8v8h-8zM1744 264h8v8h-8zM1736 272h8v8h-8zM1728 280h8v8h-8zM1720 296h8v8h-8zM1712 304h8v8h-8zM1704 312h8v8h-8zM1696 320h16v8h-16zM1696 328h8v8h-8zM1688 336h16v8h-16zM1688 344h8v8h-8zM1680 352h16v8h-16zM1672 360h16v8h-16zM1672 368h16v8h-16zM1664 376h16v8h-16zM1640 384h40v8h-40zM1624 392h32v8h-32zM1608 400h24v8h-24zM1592 408h24v8h-24zM1576 416h16v8h-16zM1560 424h16v8h-16zM1552 432h16v8h-16zM1536 440h16v8h-16zM1528 448h8v8h-8zM1520 456h8v8h-8zM1504 464h8v8h-8zM1496 472h8v8h-8zM1488 480h8v8h-8zM1480 488h8v8h-8zM1472 496h8v8h-8zM1464 504h8v8h-8zM1456 512h8v8h-8zM1448 520h8v8h-8zM1440 528h8v8h-8zM1432 544h8v8h-8zM1424 552h8v8h-8zM1416 560h8v8h-8zM1408 568h8v8h-8zM1408 576h8v8h-8zM1400 584h8v8h-8zM1392 592h8v8h-8zM1392 600h8v8h-8zM1384 608h8v8h-8zM1376 616h8v8h-8zM1376 624h8v8h-8zM1368 632h8v8h-8zM1360 648h8v8h-8z"/>
<path fill="#3f3f3f" d="M2000 64h16v8h-16zM1976 72h24v8h-24zM1960 80h16v8h-16zM1944 88h16v8h-16zM1928 96h16v8h-16zM1912 104h16v8h-16zM1904 112h8v8h-8zM1888 120h16v8h-16zM1880 128h8v8h-8zM1872 136h8v8h-8zM1864 144h8v8h-8zM1856 152h8v8h-8zM1848 160h8v8h-8zM1832 168h8v8h-8zM1824 176h8v8h-8zM1816 184h8v8h-8zM1808 192h8v8h-8zM1800 200h8v8h-8zM1792 208h8v8h-8zM1784 216h8v8h-8zM1776 224h8v8h-8zM1768 232h8v8h-8zM1760 240h8v8h-8zM1752 248h8v8h-8zM1744 256h8v8h-8zM1736 264h8v8h-8zM1728 272h8v8h-8zM1720 288h8v8h-8zM1712 296h8v8h-8zM1704 304h8v8h-8zM1696 312h8v8h-8zM1688 320h8v8h-8zM1680 328h16v8h-16zM1680 336h8v8h-8zM1672 344h16v8h-16zM1664 352h16v8h-16zM1656 360h16v8h-16zM1648 368h24v8h-24zM1632 376h32v8h-32zM1616 384h24v8h-24zM1600 392h24v8h-24zM1584 400h24v8h-24zM1568 408h24v8h-24zM1560 416h16v8h-16zM1552 424h8v8h-8zM1536 432h16v8h-16zM1528 440h8v8h-8zM1520 448h8v8h-8zM1504 456h16v8h-16zM1496 464h8v8h-8zM1488 472h8v8h-8zM1480 480h8v8h-8zM1472 488h8v8h-8zM1464 496h8v8h-8zM1456 504h8v8h-8zM1448 512h8v8h-8zM1440 520h8v8h-8zM1432 536h8v8h-8zM1424 544h8v8h-8zM1416 552h8v8h-8zM1408 560h8v8h-8zM1400 576h8v8h-8zM1392 584h8v8h-8zM1384 600h8v8h-8zM1376 608h8v8h-8zM1368 624h8v8h-8zM1360 640h8v8h-8z"/>
<path fill="#404040" d="M1984 64h16v8h-16zM1968 72h8v8h-8zM1952 80h8v8h-8zM1936 88h8v8h-8zM1920 96h8v8h-8zM1904 104h8v8h-8zM1896 112h8v8h-8zM1880 120h8v8h-8zM1872 128h8v8h-8zM1864 136h8v8h-8zM1856 144h8v8h-8zM1848 152h8v8h-8zM1840 160h8v8h-8zM1808 184h8v8h-8zM1800 192h8v8h-8zM1792 200h8v8h-8zM1784 208h8v8h-8zM1776 216h8v8h-8zM1768 224h8v8h-8zM1760 232h8v8h-8zM1752 240h8v8h-8zM1744 248h8v8h-8zM1736 256h8v8h-8zM1720 280h8v8h-8zM1712 288h8v8h-8zM1704 296h8v8h-8zM1696 304h8v8h-8zM1688 312h8v8h-8zM1680 320h8v8h-8zM1672 328h8v8h-8zM1664 336h16v8h-16zM1656 344h16v8h-16zM1648 352h16v8h-16zM1640 360h16v8h-16zM1624 368h24v8h-24zM1608 376h24v8h-24zM1600 384h16v8h-16zM1584 392h16v8h-16zM1568 400h16v8h-16zM1560 408h8v8h-8zM1552 416h8v8h-8zM1536 424h16v8h-16zM1528 432h8v8h-8zM1520 440h8v8h-8zM1504 448h16v8h-16zM1496 456h8v8h-8zM1488 464h8v8h-8zM1480 472h8v8h-8zM1472 480h8v8h-8zM1464 488h8v8h-8zM1456 496h8v8h-8zM1448 504h8v8h-8zM1432 528h8v8h-8zM1424 536h8v8h-8zM1416 544h8v8h-8zM1408 552h8v8h-8zM1400 568h8v8h-8zM1392 576h8v8h-8zM1384 592h8v8h-8zM1376 600h8v8h-8zM1368 616h8v8h-8zM1360 624h8v8h-8zM1360 632h8v8h-8z"/>
<path fill="#414141" d="M1976 64h8v8h-8zM1960 72h8v8h-8zM1944 80h8v8h-8zM1928 88h8v8h-8zM1912 96h8v8h-8zM1896 104h8v8h-8zM1888 112h8v8h-8zM1856 136h8v8h-8zM1848 144h8v8h-8zM1840 152h8v8h-8zM1832 160h8v8h-8zM1824 168h8v8h-8zM1816 176h8v8h-8zM1728 264h8v8h-8zM1720 272h8v8h-8zM1712 280h8v8h-8zM1704 288h8v8h-8zM1696 296h8v8h-8zM1688 304h8v8h-8zM1680 312h8v8h-8zM1672 320h8v8h-8zM1664 328h8v8h-8zM1656 336h8v8h-8zM1648 344h8v8h-8zM1640 352h8v8h-8zM1624 360h16v8h-16zM1616 368h8v8h-8zM1600 376h8v8h-8zM1584 384h16v8h-16zM1576 392h8v8h-8zM1560 400h8v8h-8zM1552 408h8v8h-8zM1544 416h8v8h-8zM1528 424h8v8h-8zM1520 432h8v8h-8zM1512 440h8v8h-8zM1488 456h8v8h-8zM1480 464h8v8h-8zM1472 472h8v8h-8zM1464 480h8v8h-8zM1456 488h8v8h-8zM1440 512h8v8h-8zM1432 520h8v8h-8zM1424 528h8v8h-8zM1416 536h8v8h-8zM1400 560h8v8h-8zM1392 568h8v8h-8zM1384 584h8v8h-8zM1376 592h8v8h-8zM1368 608h8v8h-8z"/>
<path fill="#424242" d="M1968 64h8v8h-8zM1952 72h8v8h-8zM1936 80h8v8h-8zM1920 88h8v8h-8zM1904 96h8v8h-8zM1880 112h8v8h-8zM1872 120h8v8h-8zM1864 128h8v8h-8zM1824 160h8v8h-8zM1816 168h8v8h-8zM1808 176h8v8h-8zM1800 184h8v8h-8zM1792 192h8v8h-8zM1784 200h8v8h-8zM1776 208h8v8h-8zM1768 216h8v8h-8zM1760 224h8v8h-8zM1752 232h8v8h-8zM1744 240h8v8h-8zM1736 248h8v8h-8zM1728 256h8v8h-8zM1720 264h8v8h-8zM1712 272h8v8h-8zM1704 280h8v8h-8zM1696 288h8v8h-8zM1688 296h8v8h-8zM1680 304h8v8h-8zM1672 312h8v8h-8zM1664 320h8v8h-8zM1656 328h8v8h-8zM1648 336h8v8h-8zM1640 344h8v8h-8zM1632 352h8v8h-8zM1616 360h8v8h-8zM1600 368h16v8h-16zM1592 376h8v8h-8zM1576 384h8v8h-8zM1568 392h8v8h-8zM1552 400h8v8h-8zM1544 408h8v8h-8zM1536 416h8v8h-8zM1520 424h8v8h-8zM1512 432h8v8h-8zM1504 440h8v8h-8zM1496 448h8v8h-8zM1472 464h8v8h-8zM1464 472h8v8h-8zM1448 496h8v8h-8zM1440 504h8v8h-8zM1432 512h8v8h-8zM1424 520h8v8h-8zM1408 544h8v8h-8zM1400 552h8v8h-8zM1384 576h8v8h-8zM1368 600h8v8h-8zM1360 616h8v8h-8z"/>
<path fill="#434343" d="M1960 64h8v8h-8zM1944 72h8v8h-8zM1928 80h8v8h-8zM1912 88h8v8h-8zM1888 104h8v8h-8zM1856 128h8v8h-8zM1848 136h8v8h-8zM1840 144h8v8h-8zM1832 152h8v8h-8zM1760 216h8v8h-8zM1752 224h8v8h-8zM1744 232h8v8h-8zM1736 240h8v8h-8zM1728 248h8v8h-8zM1720 256h8v8h-8zM1712 264h8v8h-8zM1704 272h8v8h-8zM1696 280h8v8h-8zM1688 288h8v8h-8zM1680 296h8v8h-8zM1672 304h8v8h-8zM1664 312h8v8h-8zM1656 320h8v8h-8zM1648 328h8v8h-8zM1640 336h8v8h-8zM1632 344h8v8h-8zM1616 352h16v8h-16zM1600 360h16v8h-16zM1592 368h8v8h-8zM1576 376h16v8h-16zM1568 384h8v8h-8zM1560 392h8v8h-8zM1544 400h8v8h-8zM1536 408h8v8h-8zM1528 416h8v8h-8zM1512 424h8v8h-8zM1504 432h8v8h-8zM1496 440h8v8h-8zM1488 448h8v8h-8zM1480 456h8v8h-8zM1456 480h8v8h-8zM1448 488h8v8h-8zM1440 496h8v8h-8zM1432 504h8v8h-8zM1416 528h8v8h-8zM1408 536h8v8h-8zM1392 560h8v8h-8zM1384 568h8v8h-8zM1376 584h8v8h-8zM1368 592h8v8h-8zM1360 608h8v8h-8z"/>
<path fill="#444444" d="M1952 64h8v8h-8zM1936 72h8v8h-8zM1920 80h8v8h-8zM1896 96h8v8h-8zM1872 112h8v8h-8zM1864 120h8v8h-8zM1832 144h8v8h-8zM1824 152h8v8h-8zM1816 160h8v8h-8zM1808 168h8v8h-8zM1800 176h8v8h-8zM1792 184h8v8h-8zM1784 192h8v8h-8zM1776 200h8v8h-8zM1768 208h8v8h-8zM1680 288h8v8h-8zM1672 296h8v8h-8zM1664 304h8v8h-8zM1656 312h8v8h-8zM1648 320h8v8h-8zM1640 328h8v8h-8zM1632 336h8v8h-8zM1616 344h16v8h-16zM1608 352h8v8h-8zM1592 360h8v8h-8zM1584 368h8v8h-8zM1568 376h8v8h-8zM1560 384h8v8h-8zM1552 392h8v8h-8zM1536 400h8v8h-8zM1528 408h8v8h-8zM1520 416h8v8h-8zM1504 424h8v8h-8zM1496 432h8v8h-8zM1488 440h8v8h-8zM1480 448h8v8h-8zM1472 456h8v8h-8zM1464 464h8v8h-8zM1456 472h8v8h-8zM1448 480h8v8h-8zM1440 488h8v8h-8zM1424 512h8v8h-8zM1416 520h8v8h-8zM1400 544h8v8h-8zM1392 552h8v8h-8zM1376 576h8v8h-8zM1360 600h8v8h-8z"/>
<path fill="#454545" d="M1944 64h8v8h-8zM1928 72h8v8h-8zM1904 88h8v8h-8zM1888 96h8v8h-8zM1880 104h8v8h-8zM1856 120h8v8h-8zM1848 128h8v8h-8zM1840 136h8v8h-8zM1800 168h8v8h-8zM1792 176h8v8h-8zM1784 184h8v8h-8zM1776 192h8v8h-8zM1768 200h8v8h-8zM1760 208h8v8h-8zM1752 216h8v8h-8zM1744 224h8v8h-8zM1736 232h8v8h-8zM1728 240h8v8h-8zM1720 248h8v8h-8zM1712 256h8v8h-8zM1704 264h8v8h-8zM1696 272h8v8h-8zM1688 280h8v8h-8zM1672 288h8v8h-8zM1664 296h8v8h-8zM1656 304h8v8h-8zM1648 312h8v8h-8zM1640 320h8v8h-8zM1624 328h16v8h-16zM1616 336h16v8h-16zM1608 344h8v8h-8zM1592 352h16v8h-16zM1584 360h8v8h-8zM1568 368h16v8h-16zM1560 376h8v8h-8zM1552 384h8v8h-8zM1536 392h16v8h-16zM1528 400h8v8h-8zM1520 408h8v8h-8zM1512 416h8v8h-8zM1488 432h8v8h-8zM1480 440h8v8h-8zM1472 448h8v8h-8zM1464 456h8v8h-8zM1456 464h8v8h-8zM1448 472h8v8h-8zM1432 496h8v8h-8zM1424 504h8v8h-8zM1416 512h8v8h-8zM1408 528h8v8h-8zM1400 536h8v8h-8zM1392 544h8v8h-8zM1384 560h8v8h-8zM1376 568h8v8h-8zM1368 584h8v8h-8zM1360 592h8v8h-8z"/>
<path fill="#464646" d="M1936 64h8v8h-8zM1912 80h8v8h-8zM1896 88h8v8h-8zM1872 104h8v8h-8zM1864 112h8v8h-8zM1832 136h8v8h-8zM1824 144h8v8h-8zM1816 152h8v8h-8zM1808 160h8v8h-8zM1752 208h8v8h-8zM1744 216h8v8h-8zM1736 224h8v8h-8zM1728 232h8v8h-8zM1720 240h8v8h-8zM1712 248h8v8h-8zM1704 256h8v8h-8zM1696 264h8v8h-8zM1688 272h8v8h-8zM1680 280h8v8h-8zM1664 288h8v8h-8zM1656 296h8v8h-8zM1648 304h8v8h-8zM1640 312h8v8h-8zM1624 320h16v8h-16zM1616 328h8v8h-8zM1608 336h8v8h-8zM1592 344h16v8h-16zM1584 352h8v8h-8zM1576 360h8v8h-8zM1560 368h8v8h-8zM1552 376h8v8h-8zM1544 384h8v8h-8zM1528 392h8v8h-8zM1520 400h8v8h-8zM1512 408h8v8h-8zM1504 416h8v8h-8zM1496 424h8v8h-8zM1472 440h8v8h-8zM1464 448h8v8h-8zM1456 456h8v8h-8zM1448 464h8v8h-8zM1440 480h8v8h-8zM1432 488h8v8h-8zM1424 496h8v8h-8zM1408 520h8v8h-8zM1400 528h8v8h-8zM1384 552h8v8h-8zM1368 576h8v8h-8z"/>
<path fill="#474747" d="M1920 72h8v8h-8zM1904 80h8v8h-8zM1888 88h8v8h-8zM1880 96h8v8h-8zM1856 112h8v8h-8zM1848 120h8v8h-8zM1840 128h8v8h-8zM1808 152h8v8h-8zM1800 160h8v8h-8zM1792 168h8v8h-8zM1784 176h8v8h-8zM1776 184h8v8h-8zM1768 192h8v8h-8zM1760 200h8v8h-8zM1728 224h8v8h-8zM1720 232h8v8h-8zM1712 240h8v8h-8zM1704 248h8v8h-8zM1696 256h8v8h-8zM1688 264h8v8h-8zM1680 272h8v8h-8zM1672 280h8v8h-8zM1656 288h8v8h-8zM1648 296h8v8h-8zM1640 304h8v8h-8zM1624 312h16v8h-16zM1616 320h8v8h-8zM1608 328h8v8h-8zM1592 336h16v8h-16zM1584 344h8v8h-8zM1576 352h8v8h-8zM1560 360h16v8h-16zM1552 368h8v8h-8zM1544 376h8v8h-8zM1536 384h8v8h-8zM1512 400h8v8h-8zM1504 408h8v8h-8zM1496 416h8v8h-8zM1488 424h8v8h-8zM1480 432h8v8h-8zM1440 472h8v8h-8zM1432 480h8v8h-8zM1424 488h8v8h-8zM1416 504h8v8h-8zM1408 512h8v8h-8zM1392 536h8v8h-8zM1384 544h8v8h-8zM1376 560h8v8h-8zM1368 568h8v8h-8zM1360 584h8v8h-8z"/>
<path fill="#484848" d="M1928 64h8v8h-8zM1912 72h8v8h-8zM1896 80h8v8h-8zM1872 96h8v8h-8zM1864 104h8v8h-8zM1832 128h8v8h-8zM1824 136h8v8h-8zM1816 144h8v8h-8zM1776 176h8v8h-8zM1768 184h8v8h-8zM1760 192h8v8h-8zM1752 200h8v8h-8zM1744 208h8v8h-8zM1736 216h8v8h-8zM1696 248h8v8h-8zM1688 256h8v8h-8zM1680 264h8v8h-8zM1672 272h8v8h-8zM1664 280h8v8h-8zM1648 288h8v8h-8zM1640 296h8v8h-8zM1624 304h16v8h-16zM1616 312h8v8h-8zM1608 320h8v8h-8zM1592 328h16v8h-16zM1584 336h8v8h-8zM1576 344h8v8h-8zM1568 352h8v8h-8zM1552 360h8v8h-8zM1544 368h8v8h-8zM1536 376h8v8h-8zM1528 384h8v8h-8zM1520 392h8v8h-8zM1504 400h8v8h-8zM1496 408h8v8h-8zM1488 416h8v8h-8zM1480 424h8v8h-8zM1472 432h8v8h-8zM1464 440h8v8h-8zM1456 448h8v8h-8zM1448 456h8v8h-8zM1440 464h8v8h-8zM1432 472h8v8h-8zM1416 496h8v8h-8zM1408 504h8v8h-8zM1400 520h8v8h-8zM1392 528h8v8h-8zM1376 552h8v8h-8zM1360 576h8v8h-8z"/>
<path fill="#494949" d="M1920 64h8v8h-8zM1904 72h8v8h-8zM1880 88h8v8h-8zM1856 104h8v8h-8zM1848 112h8v8h-8zM1840 120h8v8h-8zM1816 136h8v8h-8zM1808 144h8v8h-8zM1800 152h8v8h-8zM1792 160h8v8h-8zM1784 168h8v8h-8zM1744 200h8v8h-8zM1736 208h8v8h-8zM1728 216h8v8h-8zM1720 224h8v8h-8zM1712 232h8v8h-8zM1704 240h8v8h-8zM1664 272h8v8h-8zM1656 280h8v8h-8zM1640 288h8v8h-8zM1632 296h8v8h-8zM1616 304h8v8h-8zM1608 312h8v8h-8zM1592 320h16v8h-16zM1584 328h8v8h-8zM1576 336h8v8h-8zM1568 344h8v8h-8zM1552 352h16v8h-16zM1544 360h8v8h-8zM1536 368h8v8h-8zM1528 376h8v8h-8zM1520 384h8v8h-8zM1512 392h8v8h-8zM1496 400h8v8h-8zM1488 408h8v8h-8zM1480 416h8v8h-8zM1472 424h8v8h-8zM1464 432h8v8h-8zM1456 440h8v8h-8zM1448 448h8v8h-8zM1440 456h8v8h-8zM1432 464h8v8h-8zM1424 480h8v8h-8zM1416 488h8v8h-8zM1408 496h8v8h-8zM1400 512h8v8h-8zM1392 520h8v8h-8zM1384 536h8v8h-8zM1376 544h8v8h-8zM1368 560h8v8h-8zM1360 568h8v8h-8z"/>
<path fill="#4a4a4a" d="M1912 64h8v8h-8zM1888 80h8v8h-8zM1872 88h8v8h-8zM1864 96h8v8h-8zM1832 120h8v8h-8zM1824 128h8v8h-8zM1792 152h8v8h-8zM1784 160h8v8h-8zM1776 168h8v8h-8zM1768 176h8v8h-8zM1760 184h8v8h-8zM1752 192h8v8h-8zM1720 216h8v8h-8zM1712 224h8v8h-8zM1704 232h8v8h-8zM1696 240h8v8h-8zM1688 248h8v8h-8zM1680 256h8v8h-8zM1672 264h8v8h-8zM1656 272h8v8h-8zM1640 280h16v8h-16zM1632 288h8v8h-8zM1616 296h16v8h-16zM1608 304h8v8h-8zM1592 312h16v8h-16zM1584 320h8v8h-8zM1576 328h8v8h-8zM1568 336h8v8h-8zM1560 344h8v8h-8zM1544 352h8v8h-8zM1536 360h8v8h-8zM1528 368h8v8h-8zM1520 376h8v8h-8zM1512 384h8v8h-8zM1504 392h8v8h-8zM1480 408h8v8h-8zM1472 416h8v8h-8zM1464 424h8v8h-8zM1456 432h8v8h-8zM1448 440h8v8h-8zM1440 448h8v8h-8zM1424 472h8v8h-8zM1416 480h8v8h-8zM1400 504h8v8h-8zM1384 528h8v8h-8zM1368 552h8v8h-8z"/>
<path fill="#4b4b4b" d="M1904 64h8v8h-8zM1896 72h8v8h-8zM1880 80h8v8h-8zM1848 104h8v8h-8zM1840 112h8v8h-8zM1816 128h8v8h-8zM1808 136h8v8h-8zM1800 144h8v8h-8zM1760 176h8v8h-8zM1752 184h8v8h-8zM1744 192h8v8h-8zM1736 200h8v8h-8zM1728 208h8v8h-8zM1704 224h8v8h-8zM1696 232h8v8h-8zM1688 240h8v8h-8zM1680 248h8v8h-8zM1672 256h8v8h-8zM1656 264h16v8h-16zM1648 272h8v8h-8zM1632 280h8v8h-8zM1616 288h16v8h-16zM1608 296h8v8h-8zM1592 304h16v8h-16zM1584 312h8v8h-8zM1576 320h8v8h-8zM1568 328h8v8h-8zM1560 336h8v8h-8zM1544 344h16v8h-16zM1536 352h8v8h-8zM1528 360h8v8h-8zM1520 368h8v8h-8zM1512 376h8v8h-8zM1504 384h8v8h-8zM1496 392h8v8h-8zM1488 400h8v8h-8zM1456 424h8v8h-8zM1448 432h8v8h-8zM1440 440h8v8h-8zM1432 456h8v8h-8zM1424 464h8v8h-8zM1416 472h8v8h-8zM1408 488h8v8h-8zM1400 496h8v8h-8zM1392 512h8v8h-8zM1384 520h8v8h-8zM1376 536h8v8h-8zM1368 544h8v8h-8zM1360 560h8v8h-8z"/>
<path fill="#4c4c4c" d="M1888 72h8v8h-8zM1864 88h8v8h-8zM1856 96h8v8h-8zM1832 112h8v8h-8zM1824 120h8v8h-8zM1792 144h8v8h-8zM1784 152h8v8h-8zM1776 160h8v8h-8zM1768 168h8v8h-8zM1736 192h8v8h-8zM1728 200h8v8h-8zM1720 208h8v8h-8zM1712 216h8v8h-8zM1688 232h8v8h-8zM1680 240h8v8h-8zM1672 248h8v8h-8zM1664 256h8v8h-8zM1648 264h8v8h-8zM1632 272h16v8h-16zM1624 280h8v8h-8zM1608 288h8v8h-8zM1592 296h16v8h-16zM1584 304h8v8h-8zM1576 312h8v8h-8zM1568 320h8v8h-8zM1560 328h8v8h-8zM1544 336h16v8h-16zM1536 344h8v8h-8zM1528 352h8v8h-8zM1520 360h8v8h-8zM1512 368h8v8h-8zM1504 376h8v8h-8zM1496 384h8v8h-8zM1488 392h8v8h-8zM1480 400h8v8h-8zM1472 408h8v8h-8zM1464 416h8v8h-8zM1432 448h8v8h-8zM1424 456h8v8h-8zM1416 464h8v8h-8zM1408 480h8v8h-8zM1400 488h8v8h-8zM1392 504h8v8h-8zM1384 512h8v8h-8zM1376 528h8v8h-8zM1368 536h8v8h-8zM1360 552h8v8h-8z"/>
<path fill="#4d4d4d" d="M1896 64h8v8h-8zM1880 72h8v8h-8zM1872 80h8v8h-8zM1856 88h8v8h-8zM1848 96h8v8h-8zM1840 104h8v8h-8zM1824 112h8v8h-8zM1816 120h8v8h-8zM1808 128h8v8h-8zM1800 136h8v8h-8zM1776 152h8v8h-8zM1768 160h8v8h-8zM1760 168h8v8h-8zM1752 176h8v8h-8zM1744 184h8v8h-8zM1720 200h8v8h-8zM1712 208h8v8h-8zM1704 216h8v8h-8zM1696 224h8v8h-8zM1672 240h8v8h-8zM1664 248h8v8h-8zM1656 256h8v8h-8zM1640 264h8v8h-8zM1624 272h8v8h-8zM1608 280h16v8h-16zM1600 288h8v8h-8zM1584 296h8v8h-8zM1576 304h8v8h-8zM1568 312h8v8h-8zM1560 320h8v8h-8zM1552 328h8v8h-8zM1504 368h8v8h-8zM1496 376h8v8h-8zM1488 384h8v8h-8zM1480 392h8v8h-8zM1472 400h8v8h-8zM1464 408h8v8h-8zM1456 416h8v8h-8zM1448 424h8v8h-8zM1440 432h8v8h-8zM1432 440h8v8h-8zM1424 448h8v8h-8zM1408 472h8v8h-8zM1400 480h8v8h-8zM1392 496h8v8h-8zM1384 504h8v8h-8zM1376 520h8v8h-8zM1360 544h8v8h-8z"/>
<path fill="#4e4e4e" d="M1888 64h8v8h-8zM1872 72h8v8h-8zM1864 80h8v8h-8zM1840 96h8v8h-8zM1832 104h8v8h-8zM1808 120h8v8h-8zM1800 128h8v8h-8zM1792 136h8v8h-8zM1784 144h8v8h-8zM1760 160h8v8h-8zM1752 168h8v8h-8zM1744 176h8v8h-8zM1736 184h8v8h-8zM1728 192h8v8h-8zM1712 200h8v8h-8zM1704 208h8v8h-8zM1696 216h8v8h-8zM1688 224h8v8h-8zM1680 232h8v8h-8zM1656 248h8v8h-8zM1648 256h8v8h-8zM1632 264h8v8h-8zM1616 272h8v8h-8zM1600 280h8v8h-8zM1592 288h8v8h-8zM1576 296h8v8h-8zM1568 304h8v8h-8zM1560 312h8v8h-8zM1552 320h8v8h-8zM1544 328h8v8h-8zM1536 336h8v8h-8zM1528 344h8v8h-8zM1520 352h8v8h-8zM1512 360h8v8h-8zM1488 376h8v8h-8zM1480 384h8v8h-8zM1472 392h8v8h-8zM1464 400h8v8h-8zM1456 408h8v8h-8zM1448 416h8v8h-8zM1440 424h8v8h-8zM1432 432h8v8h-8zM1424 440h8v8h-8zM1416 456h8v8h-8zM1408 464h8v8h-8zM1392 488h8v8h-8zM1376 512h8v8h-8zM1368 528h8v8h-8zM1360 536h8v8h-8z"/>
<path fill="#4f4f4f" d="M1880 64h8v8h-8zM1856 80h8v8h-8zM1848 88h8v8h-8zM1832 96h8v8h-8zM1824 104h8v8h-8zM1816 112h8v8h-8zM1792 128h8v8h-8zM1784 136h8v8h-8zM1776 144h8v8h-8zM1768 152h8v8h-8zM1752 160h8v8h-8zM1744 168h8v8h-8zM1736 176h8v8h-8zM1728 184h8v8h-8zM1720 192h8v8h-8zM1704 200h8v8h-8zM1696 208h8v8h-8zM1688 216h8v8h-8zM1680 224h8v8h-8zM1672 232h8v8h-8zM1664 240h8v8h-8zM1648 248h8v8h-8zM1632 256h16v8h-16zM1624 264h8v8h-8zM1608 272h8v8h-8zM1592 280h8v8h-8zM1584 288h8v8h-8zM1568 296h8v8h-8zM1560 304h8v8h-8zM1552 312h8v8h-8zM1544 320h8v8h-8zM1536 328h8v8h-8zM1528 336h8v8h-8zM1520 344h8v8h-8zM1512 352h8v8h-8zM1504 360h8v8h-8zM1496 368h8v8h-8zM1416 448h8v8h-8zM1408 456h8v8h-8zM1400 472h8v8h-8zM1392 480h8v8h-8zM1384 496h8v8h-8zM1376 504h8v8h-8zM1368 520h8v8h-8zM1360 528h8v8h-8z"/>
<path fill="#505050" d="M1872 64h8v8h-8zM1864 72h8v8h-8zM1848 80h8v8h-8zM1840 88h8v8h-8zM1816 104h8v8h-8zM1808 112h8v8h-8zM1800 120h8v8h-8zM1784 128h8v8h-8zM1776 136h8v8h-8zM1768 144h8v8h-8zM1760 152h8v8h-8zM1736 168h8v8h-8zM1728 176h8v8h-8zM1720 184h8v8h-8zM1712 192h8v8h-8zM1696 200h8v8h-8zM1688 208h8v8h-8zM1680 216h8v8h-8zM1672 224h8v8h-8zM1664 232h8v8h-8zM1656 240h8v8h-8zM1640 248h8v8h-8zM1624 256h8v8h-8zM1616 264h8v8h-8zM1600 272h8v8h-8zM1584 280h8v8h-8zM1576 288h8v8h-8zM1552 304h8v8h-8zM1544 312h8v8h-8zM1536 320h8v8h-8zM1528 328h8v8h-8zM1520 336h8v8h-8zM1512 344h8v8h-8zM1504 352h8v8h-8zM1496 360h8v8h-8zM1488 368h8v8h-8zM1480 376h8v8h-8zM1472 384h8v8h-8zM1464 392h8v8h-8zM1456 400h8v8h-8zM1448 408h8v8h-8zM1440 416h8v8h-8zM1432 424h8v8h-8zM1424 432h8v8h-8zM1416 440h8v8h-8zM1400 464h8v8h-8zM1392 472h8v8h-8zM1384 488h8v8h-8zM1376 496h8v8h-8zM1368 512h8v8h-8zM1360 520h8v8h-8z"/>
<path fill="#515151" d="M1864 64h8v8h-8zM1856 72h8v8h-8zM1840 80h8v8h-8zM1832 88h8v8h-8zM1824 96h8v8h-8zM1808 104h8v8h-8zM1800 112h8v8h-8zM1792 120h8v8h-8zM1776 128h8v8h-8zM1768 136h8v8h-8zM1760 144h8v8h-8zM1752 152h8v8h-8zM1744 160h8v8h-8zM1720 176h8v8h-8zM1712 184h8v8h-8zM1704 192h8v8h-8zM1680 208h8v8h-8zM1672 216h8v8h-8zM1664 224h8v8h-8zM1656 232h8v8h-8zM1648 240h8v8h-8zM1632 248h8v8h-8zM1616 256h8v8h-8zM1600 264h16v8h-16zM1592 272h8v8h-8zM1576 280h8v8h-8zM1568 288h8v8h-8zM1560 296h8v8h-8zM1496 352h8v8h-8zM1488 360h8v8h-8zM1480 368h8v8h-8zM1472 376h8v8h-8zM1464 384h8v8h-8zM1456 392h8v8h-8zM1448 400h8v8h-8zM1440 408h8v8h-8zM1432 416h8v8h-8zM1424 424h8v8h-8zM1416 432h8v8h-8zM1408 448h8v8h-8zM1400 456h8v8h-8zM1392 464h8v8h-8zM1384 480h8v8h-8zM1376 488h8v8h-8zM1368 504h8v8h-8zM1360 512h8v8h-8z"/>
<path fill="#525252" d="M1856 64h8v8h-8zM1848 72h8v8h-8zM1824 88h8v8h-8zM1816 96h8v8h-8zM1800 104h8v8h-8zM1792 112h8v8h-8zM1784 120h8v8h-8zM1760 136h8v8h-8zM1752 144h8v8h-8zM1744 152h8v8h-8zM1736 160h8v8h-8zM1728 168h8v8h-8zM1712 176h8v8h-8zM1704 184h8v8h-8zM1696 192h8v8h-8zM1688 200h8v8h-8zM1672 208h8v8h-8zM1664 216h8v8h-8zM1656 224h8v8h-8zM1648 232h8v8h-8zM1632 240h16v8h-16zM1624 248h8v8h-8zM1608 256h8v8h-8zM1592 264h8v8h-8zM1584 272h8v8h-8zM1568 280h8v8h-8zM1560 288h8v8h-8zM1552 296h8v8h-8zM1544 304h8v8h-8zM1536 312h8v8h-8zM1528 320h8v8h-8zM1520 328h8v8h-8zM1512 336h8v8h-8zM1504 344h8v8h-8zM1408 440h8v8h-8zM1400 448h8v8h-8zM1384 472h8v8h-8zM1376 480h8v8h-8zM1368 496h8v8h-8zM1360 504h8v8h-8z"/>
<path fill="#535353" d="M1840 72h8v8h-8zM1832 80h8v8h-8zM1816 88h8v8h-8zM1808 96h8v8h-8zM1784 112h8v8h-8zM1776 120h8v8h-8zM1768 128h8v8h-8zM1752 136h8v8h-8zM1744 144h8v8h-8zM1736 152h8v8h-8zM1728 160h8v8h-8zM1720 168h8v8h-8zM1704 176h8v8h-8zM1696 184h8v8h-8zM1688 192h8v8h-8zM1680 200h8v8h-8zM1664 208h8v8h-8zM1656 216h8v8h-8zM1648 224h8v8h-8zM1640 232h8v8h-8zM1624 240h8v8h-8zM1616 248h8v8h-8zM1600 256h8v8h-8zM1584 264h8v8h-8zM1576 272h8v8h-8zM1560 280h8v8h-8zM1552 288h8v8h-8zM1544 296h8v8h-8zM1536 304h8v8h-8zM1528 312h8v8h-8zM1520 320h8v8h-8zM1512 328h8v8h-8zM1504 336h8v8h-8zM1496 344h8v8h-8zM1488 352h8v8h-8zM1480 360h8v8h-8zM1472 368h8v8h-8zM1464 376h8v8h-8zM1456 384h8v8h-8zM1448 392h8v8h-8zM1440 400h8v8h-8zM1432 408h8v8h-8zM1424 416h8v8h-8zM1416 424h8v8h-8zM1408 432h8v8h-8zM1392 456h8v8h-8zM1384 464h8v8h-8zM1368 488h8v8h-8zM1360 496h8v8h-8z"/>
<path fill="#545454" d="M1848 64h8v8h-8zM1832 72h8v8h-8zM1824 80h8v8h-8zM1808 88h8v8h-8zM1800 96h8v8h-8zM1792 104h8v8h-8zM1776 112h8v8h-8zM1768 120h8v8h-8zM1760 128h8v8h-8zM1736 144h8v8h-8zM1728 152h8v8h-8zM1720 160h8v8h-8zM1712 168h8v8h-8zM1696 176h8v8h-8zM1688 184h8v8h-8zM1680 192h8v8h-8zM1672 200h8v8h-8zM1648 216h8v8h-8zM1640 224h8v8h-8zM1632 232h8v8h-8zM1616 240h8v8h-8zM1608 248h8v8h-8zM1592 256h8v8h-8zM1576 264h8v8h-8zM1568 272h8v8h-8zM1544 288h8v8h-8zM1536 296h8v8h-8zM1528 304h8v8h-8zM1520 312h8v8h-8zM1512 320h8v8h-8zM1504 328h8v8h-8zM1496 336h8v8h-8zM1488 344h8v8h-8zM1480 352h8v8h-8zM1472 360h8v8h-8zM1464 368h8v8h-8zM1456 376h8v8h-8zM1448 384h8v8h-8zM1440 392h8v8h-8zM1432 400h8v8h-8zM1424 408h8v8h-8zM1416 416h8v8h-8zM1408 424h8v8h-8zM1400 440h8v8h-8zM1392 448h8v8h-8zM1384 456h8v8h-8zM1376 472h8v8h-8zM1368 480h8v8h-8z"/>
<path fill="#555555" d="M1840 64h8v8h-8zM1824 72h8v8h-8zM1816 80h8v8h-8zM1800 88h8v8h-8zM1792 96h8v8h-8zM1784 104h8v8h-8zM1768 112h8v8h-8zM1760 120h8v8h-8zM1752 128h8v8h-8zM1744 136h8v8h-8zM1728 144h8v8h-8zM1720 152h8v8h-8zM1712 160h8v8h-8zM1704 168h8v8h-8zM1688 176h8v8h-8zM1680 184h8v8h-8zM1672 192h8v8h-8zM1664 200h8v8h-8zM1656 208h8v8h-8zM1632 224h8v8h-8zM1624 232h8v8h-8zM1608 240h8v8h-8zM1600 248h8v8h-8zM1584 256h8v8h-8zM1568 264h8v8h-8zM1560 272h8v8h-8zM1552 280h8v8h-8zM1504 320h8v8h-8zM1496 328h8v8h-8zM1480 344h8v8h-8zM1472 352h8v8h-8zM1464 360h8v8h-8zM1456 368h8v8h-8zM1448 376h8v8h-8zM1440 384h8v8h-8zM1400 432h8v8h-8zM1392 440h8v8h-8zM1376 464h8v8h-8zM1368 472h8v8h-8zM1360 488h8v8h-8z"/>
<path fill="#565656" d="M1832 64h8v8h-8zM1816 72h8v8h-8zM1808 80h8v8h-8zM1784 96h8v8h-8zM1776 104h8v8h-8zM1760 112h8v8h-8zM1752 120h8v8h-8zM1744 128h8v8h-8zM1736 136h8v8h-8zM1720 144h8v8h-8zM1712 152h8v8h-8zM1704 160h8v8h-8zM1696 168h8v8h-8zM1680 176h8v8h-8zM1672 184h8v8h-8zM1664 192h8v8h-8zM1656 200h8v8h-8zM1648 208h8v8h-8zM1640 216h8v8h-8zM1624 224h8v8h-8zM1616 232h8v8h-8zM1600 240h8v8h-8zM1584 248h16v8h-16zM1576 256h8v8h-8zM1560 264h8v8h-8zM1552 272h8v8h-8zM1544 280h8v8h-8zM1536 288h8v8h-8zM1528 296h8v8h-8zM1520 304h8v8h-8zM1512 312h8v8h-8zM1488 336h8v8h-8zM1432 392h8v8h-8zM1424 400h8v8h-8zM1416 408h8v8h-8zM1408 416h8v8h-8zM1400 424h8v8h-8zM1392 432h8v8h-8zM1384 448h8v8h-8zM1376 456h8v8h-8zM1368 464h8v8h-8zM1360 480h8v8h-8z"/>
<path fill="#575757" d="M1824 64h8v8h-8zM1808 72h8v8h-8zM1800 80h8v8h-8zM1792 88h8v8h-8zM1776 96h8v8h-8zM1768 104h8v8h-8zM1744 120h8v8h-8zM1736 128h8v8h-8zM1728 136h8v8h-8zM1712 144h8v8h-8zM1704 152h8v8h-8zM1696 160h8v8h-8zM1688 168h8v8h-8zM1672 176h8v8h-8zM1664 184h8v8h-8zM1656 192h8v8h-8zM1648 200h8v8h-8zM1640 208h8v8h-8zM1632 216h8v8h-8zM1616 224h8v8h-8zM1608 232h8v8h-8zM1592 240h8v8h-8zM1576 248h8v8h-8zM1568 256h8v8h-8zM1544 272h8v8h-8zM1536 280h8v8h-8zM1528 288h8v8h-8zM1520 296h8v8h-8zM1512 304h8v8h-8zM1504 312h8v8h-8zM1496 320h8v8h-8zM1488 328h8v8h-8zM1480 336h8v8h-8zM1472 344h8v8h-8zM1464 352h8v8h-8zM1456 360h8v8h-8zM1448 368h8v8h-8zM1440 376h8v8h-8zM1432 384h8v8h-8zM1424 392h8v8h-8zM1416 400h8v8h-8zM1408 408h8v8h-8zM1384 440h8v8h-8zM1376 448h8v8h-8zM1360 472h8v8h-8z"/>
<path fill="#585858" d="M1816 64h8v8h-8zM1800 72h8v8h-8zM1792 80h8v8h-8zM1784 88h8v8h-8zM1768 96h8v8h-8zM1760 104h8v8h-8zM1752 112h8v8h-8zM1736 120h8v8h-8zM1728 128h8v8h-8zM1720 136h8v8h-8zM1704 144h8v8h-8zM1696 152h8v8h-8zM1688 160h8v8h-8zM1680 168h8v8h-8zM1656 184h8v8h-8zM1648 192h8v8h-8zM1640 200h8v8h-8zM1632 208h8v8h-8zM1624 216h8v8h-8zM1608 224h8v8h-8zM1600 232h8v8h-8zM1584 240h8v8h-8zM1560 256h8v8h-8zM1552 264h8v8h-8zM1536 272h8v8h-8zM1528 280h8v8h-8zM1520 288h8v8h-8zM1512 296h8v8h-8zM1504 304h8v8h-8zM1496 312h8v8h-8zM1488 320h8v8h-8zM1480 328h8v8h-8zM1472 336h8v8h-8zM1464 344h8v8h-8zM1456 352h8v8h-8zM1448 360h8v8h-8zM1440 368h8v8h-8zM1432 376h8v8h-8zM1424 384h8v8h-8zM1400 416h8v8h-8zM1392 424h8v8h-8zM1384 432h8v8h-8zM1368 456h8v8h-8zM1360 464h8v8h-8z"/>
<path fill="#595959" d="M1808 64h8v8h-8zM1784 80h8v8h-8zM1776 88h8v8h-8zM1760 96h8v8h-8zM1752 104h8v8h-8zM1744 112h8v8h-8zM1728 120h8v8h-8zM1720 128h8v8h-8zM1712 136h8v8h-8zM1688 152h8v8h-8zM1680 160h8v8h-8zM1672 168h8v8h-8zM1664 176h8v8h-8zM1648 184h8v8h-8zM1640 192h8v8h-8zM1632 200h8v8h-8zM1624 208h8v8h-8zM1616 216h8v8h-8zM1600 224h8v8h-8zM1592 232h8v8h-8zM1576 240h8v8h-8zM1568 248h8v8h-8zM1552 256h8v8h-8zM1544 264h8v8h-8zM1496 304h8v8h-8zM1488 312h8v8h-8zM1416 392h8v8h-8zM1408 400h8v8h-8zM1400 408h8v8h-8zM1392 416h8v8h-8zM1376 440h8v8h-8zM1368 448h8v8h-8zM1360 456h8v8h-8z"/>
<path fill="#5a5a5a" d="M1800 64h8v8h-8zM1792 72h8v8h-8zM1776 80h8v8h-8zM1768 88h8v8h-8zM1744 104h8v8h-8zM1736 112h8v8h-8zM1712 128h8v8h-8zM1704 136h8v8h-8zM1696 144h8v8h-8zM1672 160h8v8h-8zM1664 168h8v8h-8zM1656 176h8v8h-8zM1624 200h8v8h-8zM1616 208h8v8h-8zM1608 216h8v8h-8zM1592 224h8v8h-8zM1584 232h8v8h-8zM1568 240h8v8h-8zM1560 248h8v8h-8zM1544 256h8v8h-8zM1536 264h8v8h-8zM1528 272h8v8h-8zM1520 280h8v8h-8zM1512 288h8v8h-8zM1504 296h8v8h-8zM1480 320h8v8h-8zM1472 328h8v8h-8zM1464 336h8v8h-8zM1456 344h8v8h-8zM1448 352h8v8h-8zM1440 360h8v8h-8zM1432 368h8v8h-8zM1424 376h8v8h-8zM1416 384h8v8h-8zM1408 392h8v8h-8zM1400 400h8v8h-8zM1384 424h8v8h-8zM1376 432h8v8h-8zM1368 440h8v8h-8z"/>
<path fill="#5b5b5b" d="M1792 64h8v8h-8zM1784 72h8v8h-8zM1760 88h8v8h-8zM1752 96h8v8h-8zM1728 112h8v8h-8zM1720 120h8v8h-8zM1696 136h8v8h-8zM1688 144h8v8h-8zM1680 152h8v8h-8zM1656 168h8v8h-8zM1648 176h8v8h-8zM1640 184h8v8h-8zM1632 192h8v8h-8zM1608 208h8v8h-8zM1600 216h8v8h-8zM1584 224h8v8h-8zM1576 232h8v8h-8zM1560 240h8v8h-8zM1552 248h8v8h-8zM1536 256h8v8h-8zM1528 264h8v8h-8zM1520 272h8v8h-8zM1512 280h8v8h-8zM1504 288h8v8h-8zM1496 296h8v8h-8zM1488 304h8v8h-8zM1480 312h8v8h-8zM1472 320h8v8h-8zM1464 328h8v8h-8zM1456 336h8v8h-8zM1448 344h8v8h-8zM1440 352h8v8h-8zM1432 360h8v8h-8zM1424 368h8v8h-8zM1392 408h8v8h-8zM1384 416h8v8h-8zM1376 424h8v8h-8zM1360 448h8v8h-8z"/>
<path fill="#5c5c5c" d="M1776 72h8v8h-8zM1768 80h8v8h-8zM1752 88h8v8h-8zM1744 96h8v8h-8zM1736 104h8v8h-8zM1712 120h8v8h-8zM1704 128h8v8h-8zM1680 144h8v8h-8zM1672 152h8v8h-8zM1664 160h8v8h-8zM1632 184h8v8h-8zM1624 192h8v8h-8zM1616 200h8v8h-8zM1592 216h8v8h-8zM1576 224h8v8h-8zM1568 232h8v8h-8zM1552 240h8v8h-8zM1544 248h8v8h-8zM1512 272h8v8h-8zM1504 280h8v8h-8zM1496 288h8v8h-8zM1488 296h8v8h-8zM1480 304h8v8h-8zM1472 312h8v8h-8zM1464 320h8v8h-8zM1456 328h8v8h-8zM1416 376h8v8h-8zM1408 384h8v8h-8zM1400 392h8v8h-8zM1392 400h8v8h-8zM1368 432h8v8h-8zM1360 440h8v8h-8z"/>
<path fill="#5d5d5d" d="M1784 64h8v8h-8zM1768 72h8v8h-8zM1760 80h8v8h-8zM1736 96h8v8h-8zM1728 104h8v8h-8zM1720 112h8v8h-8zM1696 128h8v8h-8zM1688 136h8v8h-8zM1656 160h8v8h-8zM1648 168h8v8h-8zM1640 176h8v8h-8zM1616 192h8v8h-8zM1608 200h8v8h-8zM1600 208h8v8h-8zM1584 216h8v8h-8zM1560 232h8v8h-8zM1536 248h8v8h-8zM1528 256h8v8h-8zM1520 264h8v8h-8zM1448 336h8v8h-8zM1440 344h8v8h-8zM1432 352h8v8h-8zM1424 360h8v8h-8zM1416 368h8v8h-8zM1408 376h8v8h-8zM1384 408h8v8h-8zM1376 416h8v8h-8zM1368 424h8v8h-8z"/>
<path fill="#5e5e5e" d="M1776 64h8v8h-8zM1752 80h8v8h-8zM1744 88h8v8h-8zM1712 112h8v8h-8zM1704 120h8v8h-8zM1680 136h8v8h-8zM1672 144h8v8h-8zM1664 152h8v8h-8zM1640 168h8v8h-8zM1632 176h8v8h-8zM1624 184h8v8h-8zM1600 200h8v8h-8zM1592 208h8v8h-8zM1576 216h8v8h-8zM1568 224h8v8h-8zM1552 232h8v8h-8zM1544 240h8v8h-8zM1528 248h8v8h-8zM1520 256h8v8h-8zM1512 264h8v8h-8zM1504 272h8v8h-8zM1496 280h8v8h-8zM1488 288h8v8h-8zM1480 296h8v8h-8zM1472 304h8v8h-8zM1464 312h8v8h-8zM1456 320h8v8h-8zM1448 328h8v8h-8zM1440 336h8v8h-8zM1432 344h8v8h-8zM1424 352h8v8h-8zM1400 384h8v8h-8zM1392 392h8v8h-8zM1384 400h8v8h-8zM1360 432h8v8h-8z"/>
<path fill="#5f5f5f" d="M1768 64h8v8h-8zM1760 72h8v8h-8zM1736 88h8v8h-8zM1728 96h8v8h-8zM1720 104h8v8h-8zM1696 120h8v8h-8zM1688 128h8v8h-8zM1664 144h8v8h-8zM1656 152h8v8h-8zM1648 160h8v8h-8zM1624 176h8v8h-8zM1616 184h8v8h-8zM1608 192h8v8h-8zM1592 200h8v8h-8zM1584 208h8v8h-8zM1568 216h8v8h-8zM1560 224h8v8h-8zM1544 232h8v8h-8zM1536 240h8v8h-8zM1520 248h8v8h-8zM1512 256h8v8h-8zM1504 264h8v8h-8zM1496 272h8v8h-8zM1488 280h8v8h-8zM1480 288h8v8h-8zM1472 296h8v8h-8zM1464 304h8v8h-8zM1456 312h8v8h-8zM1448 320h8v8h-8zM1416 360h8v8h-8zM1408 368h8v8h-8zM1400 376h8v8h-8zM1392 384h8v8h-8zM1376 408h8v8h-8zM1368 416h8v8h-8zM1360 424h8v8h-8z"/>
<path fill="#606060" d="M1752 72h8v8h-8zM1744 80h8v8h-8zM1720 96h8v8h-8zM1712 104h8v8h-8zM1704 112h8v8h-8zM1680 128h8v8h-8zM1672 136h8v8h-8zM1648 152h8v8h-8zM1640 160h8v8h-8zM1632 168h8v8h-8zM1608 184h8v8h-8zM1600 192h8v8h-8zM1576 208h8v8h-8zM1560 216h8v8h-8zM1552 224h8v8h-8zM1536 232h8v8h-8zM1528 240h8v8h-8zM1440 328h8v8h-8zM1432 336h8v8h-8zM1424 344h8v8h-8zM1416 352h8v8h-8zM1408 360h8v8h-8zM1384 392h8v8h-8zM1376 400h8v8h-8zM1368 408h8v8h-8z"/>
<path fill="#616161" d="M1760 64h8v8h-8zM1744 72h8v8h-8zM1736 80h8v8h-8zM1728 88h8v8h-8zM1696 112h8v8h-8zM1688 120h8v8h-8zM1664 136h8v8h-8zM1656 144h8v8h-8zM1632 160h8v8h-8zM1624 168h8v8h-8zM1616 176h8v8h-8zM1592 192h8v8h-8zM1584 200h8v8h-8zM1568 208h8v8h-8zM1544 224h8v8h-8zM1520 240h8v8h-8zM1512 248h8v8h-8zM1504 256h8v8h-8zM1496 264h8v8h-8zM1488 272h8v8h-8zM1480 280h8v8h-8zM1472 288h8v8h-8zM1464 296h8v8h-8zM1456 304h8v8h-8zM1448 312h8v8h-8zM1440 320h8v8h-8zM1432 328h8v8h-8zM1424 336h8v8h-8zM1400 368h8v8h-8zM1392 376h8v8h-8zM1384 384h8v8h-8zM1360 416h8v8h-8z"/>
<path fill="#626262" d="M1752 64h8v8h-8zM1720 88h8v8h-8zM1712 96h8v8h-8zM1704 104h8v8h-8zM1672 128h8v8h-8zM1648 144h8v8h-8zM1640 152h8v8h-8zM1616 168h8v8h-8zM1608 176h8v8h-8zM1600 184h8v8h-8zM1584 192h8v8h-8zM1576 200h8v8h-8zM1560 208h8v8h-8zM1552 216h8v8h-8zM1536 224h8v8h-8zM1528 232h8v8h-8zM1512 240h8v8h-8zM1504 248h8v8h-8zM1496 256h8v8h-8zM1488 264h8v8h-8zM1480 272h8v8h-8zM1472 280h8v8h-8zM1464 288h8v8h-8zM1456 296h8v8h-8zM1448 304h8v8h-8zM1440 312h8v8h-8zM1416 344h8v8h-8zM1408 352h8v8h-8zM1400 360h8v8h-8zM1392 368h8v8h-8zM1376 392h8v8h-8zM1368 400h8v8h-8zM1360 408h8v8h-8z"/>
<path fill="#636363" d="M1744 64h8v8h-8zM1736 72h8v8h-8zM1728 80h8v8h-8zM1696 104h8v8h-8zM1688 112h8v8h-8zM1680 120h8v8h-8zM1664 128h8v8h-8zM1656 136h8v8h-8zM1632 152h8v8h-8zM1624 160h8v8h-8zM1592 184h8v8h-8zM1568 200h8v8h-8zM1552 208h8v8h-8zM1544 216h8v8h-8zM1528 224h8v8h-8zM1520 232h8v8h-8zM1488 256h8v8h-8zM1480 264h8v8h-8zM1472 272h8v8h-8zM1432 320h8v8h-8zM1424 328h8v8h-8zM1416 336h8v8h-8zM1408 344h8v8h-8zM1400 352h8v8h-8zM1384 376h8v8h-8zM1376 384h8v8h-8z"/>
<path fill="#646464" d="M1728 72h8v8h-8zM1720 80h8v8h-8zM1712 88h8v8h-8zM1704 96h8v8h-8zM1672 120h8v8h-8zM1648 136h8v8h-8zM1640 144h8v8h-8zM1616 160h8v8h-8zM1608 168h8v8h-8zM1600 176h8v8h-8zM1584 184h8v8h-8zM1576 192h8v8h-8zM1560 200h8v8h-8zM1544 208h8v8h-8zM1536 216h8v8h-8zM1520 224h8v8h-8zM1512 232h8v8h-8zM1504 240h8v8h-8zM1496 248h8v8h-8zM1464 280h8v8h-8zM1456 288h8v8h-8zM1448 296h8v8h-8zM1440 304h8v8h-8zM1432 312h8v8h-8zM1424 320h8v8h-8zM1416 328h8v8h-8zM1392 360h8v8h-8zM1384 368h8v8h-8zM1368 392h8v8h-8zM1360 400h8v8h-8z"/>
<path fill="#656565" d="M1736 64h8v8h-8zM1704 88h8v8h-8zM1696 96h8v8h-8zM1688 104h8v8h-8zM1680 112h8v8h-8zM1664 120h8v8h-8zM1656 128h8v8h-8zM1632 144h8v8h-8zM1624 152h8v8h-8zM1600 168h8v8h-8zM1592 176h8v8h-8zM1576 184h8v8h-8zM1568 192h8v8h-8zM1552 200h8v8h-8zM1528 216h8v8h-8zM1512 224h8v8h-8zM1504 232h8v8h-8zM1496 240h8v8h-8zM1488 248h8v8h-8zM1480 256h8v8h-8zM1472 264h8v8h-8zM1464 272h8v8h-8zM1456 280h8v8h-8zM1448 288h8v8h-8zM1440 296h8v8h-8zM1432 304h8v8h-8zM1408 336h8v8h-8zM1400 344h8v8h-8zM1392 352h8v8h-8zM1376 376h8v8h-8zM1368 384h8v8h-8zM1360 392h8v8h-8z"/>
<path fill="#666666" d="M1728 64h8v8h-8zM1720 72h8v8h-8zM1712 80h8v8h-8zM1672 112h8v8h-8zM1648 128h8v8h-8zM1640 136h8v8h-8zM1616 152h8v8h-8zM1608 160h8v8h-8zM1584 176h8v8h-8zM1568 184h8v8h-8zM1560 192h8v8h-8zM1544 200h8v8h-8zM1536 208h8v8h-8zM1520 216h8v8h-8zM1496 232h8v8h-8zM1488 240h8v8h-8zM1480 248h8v8h-8zM1472 256h8v8h-8zM1464 264h8v8h-8zM1456 272h8v8h-8zM1448 280h8v8h-8zM1424 312h8v8h-8zM1416 320h8v8h-8zM1408 328h8v8h-8zM1400 336h8v8h-8zM1384 360h8v8h-8zM1376 368h8v8h-8zM1368 376h8v8h-8z"/>
<path fill="#676767" d="M1712 72h8v8h-8zM1704 80h8v8h-8zM1696 88h8v8h-8zM1688 96h8v8h-8zM1680 104h8v8h-8zM1664 112h8v8h-8zM1656 120h8v8h-8zM1632 136h8v8h-8zM1624 144h8v8h-8zM1608 152h8v8h-8zM1600 160h8v8h-8zM1592 168h8v8h-8zM1576 176h8v8h-8zM1552 192h8v8h-8zM1536 200h8v8h-8zM1528 208h8v8h-8zM1512 216h8v8h-8zM1504 224h8v8h-8zM1440 288h8v8h-8zM1432 296h8v8h-8zM1424 304h8v8h-8zM1416 312h8v8h-8zM1408 320h8v8h-8zM1392 344h8v8h-8zM1384 352h8v8h-8zM1376 360h8v8h-8zM1360 384h8v8h-8z"/>
<path fill="#686868" d="M1720 64h8v8h-8zM1672 104h8v8h-8zM1648 120h8v8h-8zM1640 128h8v8h-8zM1624 136h8v8h-8zM1616 144h8v8h-8zM1592 160h8v8h-8zM1584 168h8v8h-8zM1568 176h8v8h-8zM1560 184h8v8h-8zM1544 192h8v8h-8zM1528 200h8v8h-8zM1520 208h8v8h-8zM1504 216h8v8h-8zM1496 224h8v8h-8zM1488 232h8v8h-8zM1480 240h8v8h-8zM1472 248h8v8h-8zM1464 256h8v8h-8zM1456 264h8v8h-8zM1448 272h8v8h-8zM1440 280h8v8h-8zM1432 288h8v8h-8zM1424 296h8v8h-8zM1400 328h8v8h-8zM1392 336h8v8h-8zM1384 344h8v8h-8zM1368 368h8v8h-8zM1360 376h8v8h-8z"/>
<path fill="#696969" d="M1712 64h8v8h-8zM1704 72h8v8h-8zM1696 80h8v8h-8zM1688 88h8v8h-8zM1680 96h8v8h-8zM1656 112h8v8h-8zM1632 128h8v8h-8zM1608 144h8v8h-8zM1600 152h8v8h-8zM1576 168h8v8h-8zM1560 176h8v8h-8zM1552 184h8v8h-8zM1536 192h8v8h-8zM1512 208h8v8h-8zM1496 216h8v8h-8zM1488 224h8v8h-8zM1480 232h8v8h-8zM1472 240h8v8h-8zM1464 248h8v8h-8zM1456 256h8v8h-8zM1448 264h8v8h-8zM1440 272h8v8h-8zM1432 280h8v8h-8zM1416 304h8v8h-8zM1408 312h8v8h-8zM1400 320h8v8h-8zM1392 328h8v8h-8zM1376 352h8v8h-8zM1368 360h8v8h-8z"/>
<path fill="#6a6a6a" d="M1680 88h8v8h-8zM1672 96h8v8h-8zM1664 104h8v8h-8zM1648 112h8v8h-8zM1640 120h8v8h-8zM1624 128h8v8h-8zM1616 136h8v8h-8zM1592 152h8v8h-8zM1584 160h8v8h-8zM1568 168h8v8h-8zM1544 184h8v8h-8zM1528 192h8v8h-8zM1520 200h8v8h-8zM1504 208h8v8h-8zM1424 288h8v8h-8zM1416 296h8v8h-8zM1408 304h8v8h-8zM1400 312h8v8h-8zM1384 336h8v8h-8zM1376 344h8v8h-8zM1360 368h8v8h-8z"/>
<path fill="#6b6b6b" d="M1704 64h8v8h-8zM1696 72h8v8h-8zM1688 80h8v8h-8zM1656 104h8v8h-8zM1632 120h8v8h-8zM1608 136h8v8h-8zM1600 144h8v8h-8zM1584 152h8v8h-8zM1576 160h8v8h-8zM1560 168h8v8h-8zM1552 176h8v8h-8zM1536 184h8v8h-8zM1520 192h8v8h-8zM1512 200h8v8h-8zM1496 208h8v8h-8zM1488 216h8v8h-8zM1480 224h8v8h-8zM1472 232h8v8h-8zM1464 240h8v8h-8zM1456 248h8v8h-8zM1448 256h8v8h-8zM1440 264h8v8h-8zM1432 272h8v8h-8zM1424 280h8v8h-8zM1416 288h8v8h-8zM1392 320h8v8h-8zM1384 328h8v8h-8zM1368 352h8v8h-8zM1360 360h8v8h-8z"/>
<path fill="#6c6c6c" d="M1688 72h8v8h-8zM1680 80h8v8h-8zM1672 88h8v8h-8zM1664 96h8v8h-8zM1648 104h8v8h-8zM1640 112h8v8h-8zM1624 120h8v8h-8zM1616 128h8v8h-8zM1600 136h8v8h-8zM1592 144h8v8h-8zM1568 160h8v8h-8zM1552 168h8v8h-8zM1544 176h8v8h-8zM1528 184h8v8h-8zM1512 192h8v8h-8zM1504 200h8v8h-8zM1488 208h8v8h-8zM1480 216h8v8h-8zM1472 224h8v8h-8zM1464 232h8v8h-8zM1456 240h8v8h-8zM1448 248h8v8h-8zM1440 256h8v8h-8zM1432 264h8v8h-8zM1424 272h8v8h-8zM1408 296h8v8h-8zM1400 304h8v8h-8zM1392 312h8v8h-8zM1376 336h8v8h-8zM1368 344h8v8h-8z"/>
<path fill="#6d6d6d" d="M1696 64h8v8h-8zM1656 96h8v8h-8zM1632 112h8v8h-8zM1608 128h8v8h-8zM1584 144h8v8h-8zM1576 152h8v8h-8zM1560 160h8v8h-8zM1544 168h8v8h-8zM1536 176h8v8h-8zM1520 184h8v8h-8zM1504 192h8v8h-8zM1496 200h8v8h-8zM1480 208h8v8h-8zM1472 216h8v8h-8zM1464 224h8v8h-8zM1456 232h8v8h-8zM1448 240h8v8h-8zM1416 280h8v8h-8zM1408 288h8v8h-8zM1400 296h8v8h-8zM1384 320h8v8h-8zM1376 328h8v8h-8zM1368 336h8v8h-8zM1360 352h8v8h-8z"/>
<path fill="#6e6e6e" d="M1688 64h8v8h-8zM1680 72h8v8h-8zM1672 80h8v8h-8zM1664 88h8v8h-8zM1648 96h8v8h-8zM1640 104h8v8h-8zM1624 112h8v8h-8zM1616 120h8v8h-8zM1600 128h8v8h-8zM1592 136h8v8h-8zM1576 144h8v8h-8zM1568 152h8v8h-8zM1552 160h8v8h-8zM1528 176h8v8h-8zM1512 184h8v8h-8zM1488 200h8v8h-8zM1440 248h8v8h-8zM1432 256h8v8h-8zM1424 264h8v8h-8zM1416 272h8v8h-8zM1408 280h8v8h-8zM1400 288h8v8h-8zM1392 304h8v8h-8zM1384 312h8v8h-8zM1376 320h8v8h-8zM1360 344h8v8h-8z"/>
<path fill="#6f6f6f" d="M1656 88h8v8h-8zM1632 104h8v8h-8zM1616 112h8v8h-8zM1608 120h8v8h-8zM1592 128h8v8h-8zM1584 136h8v8h-8zM1560 152h8v8h-8zM1544 160h8v8h-8zM1536 168h8v8h-8zM1520 176h8v8h-8zM1504 184h8v8h-8zM1496 192h8v8h-8zM1480 200h8v8h-8zM1472 208h8v8h-8zM1464 216h8v8h-8zM1456 224h8v8h-8zM1448 232h8v8h-8zM1440 240h8v8h-8zM1432 248h8v8h-8zM1424 256h8v8h-8zM1416 264h8v8h-8zM1408 272h8v8h-8zM1392 296h8v8h-8zM1384 304h8v8h-8zM1368 328h8v8h-8zM1360 336h8v8h-8z"/>
<path fill="#707070" d="M1680 64h8v8h-8zM1672 72h8v8h-8zM1664 80h8v8h-8zM1648 88h8v8h-8zM1640 96h8v8h-8zM1624 104h8v8h-8zM1600 120h8v8h-8zM1576 136h8v8h-8zM1568 144h8v8h-8zM1552 152h8v8h-8zM1536 160h8v8h-8zM1528 168h8v8h-8zM1512 176h8v8h-8zM1496 184h8v8h-8zM1488 192h8v8h-8zM1472 200h8v8h-8zM1464 208h8v8h-8zM1456 216h8v8h-8zM1448 224h8v8h-8zM1440 232h8v8h-8zM1432 240h8v8h-8zM1424 248h8v8h-8zM1416 256h8v8h-8zM1400 280h8v8h-8zM1392 288h8v8h-8zM1384 296h8v8h-8zM1376 312h8v8h-8zM1368 320h8v8h-8zM1360 328h8v8h-8z"/>
<path fill="#717171" d="M1672 64h8v8h-8zM1664 72h8v8h-8zM1656 80h8v8h-8zM1640 88h8v8h-8zM1624 96h16v8h-16zM1616 104h8v8h-8zM1600 112h16v8h-16zM1592 120h8v8h-8zM1576 128h16v8h-16zM1568 136h8v8h-8zM1552 144h16v8h-16zM1544 152h8v8h-8zM1528 160h8v8h-8zM1512 168h16v8h-16zM1504 176h8v8h-8zM1488 184h8v8h-8zM1480 192h8v8h-8zM1464 200h8v8h-8zM1456 208h8v8h-8zM1448 216h8v8h-8zM1440 224h8v8h-8zM1432 232h8v8h-8zM1424 240h8v8h-8zM1408 264h8v8h-8zM1400 272h8v8h-8zM1392 280h8v8h-8zM1384 288h8v8h-8zM1376 304h8v8h-8zM1368 312h8v8h-8zM1360 320h8v8h-8z"/>
<path fill="#727272" d="M1664 64h8v8h-8zM1656 72h8v8h-8zM1640 80h16v8h-16zM1632 88h8v8h-8zM1616 96h8v8h-8zM1608 104h8v8h-8zM1592 112h8v8h-8zM1584 120h8v8h-8zM1568 128h8v8h-8zM1560 136h8v8h-8zM1544 144h8v8h-8zM1528 152h16v8h-16zM1520 160h8v8h-8zM1504 168h8v8h-8zM1496 176h8v8h-8zM1480 184h8v8h-8zM1464 192h16v8h-16zM1456 200h8v8h-8zM1448 208h8v8h-8zM1440 216h8v8h-8zM1432 224h8v8h-8zM1424 232h8v8h-8zM1416 248h8v8h-8zM1408 256h8v8h-8zM1400 264h8v8h-8zM1392 272h8v8h-8zM1384 280h8v8h-8zM1376 288h8v8h-8zM1376 296h8v8h-8zM1368 304h8v8h-8zM1360 312h8v8h-8z"/>
<path fill="#737373" d="M1656 64h8v8h-8zM1640 72h16v8h-16zM1632 80h8v8h-8zM1616 88h16v8h-16zM1608 96h8v8h-8zM1592 104h16v8h-16zM1584 112h8v8h-8zM1568 120h16v8h-16zM1560 128h8v8h-8zM1544 136h16v8h-16zM1536 144h8v8h-8zM1520 152h8v8h-8zM1512 160h8v8h-8zM1496 168h8v8h-8zM1480 176h16v8h-16zM1472 184h8v8h-8zM1416 240h8v8h-8zM1408 248h8v8h-8zM1400 256h8v8h-8zM1392 264h8v8h-8zM1384 272h8v8h-8zM1376 280h8v8h-8zM1368 296h8v8h-8zM1360 304h8v8h-8z"/>
<path fill="#747474" d="M1648 64h8v8h-8zM1632 72h8v8h-8zM1624 80h8v8h-8zM1608 88h8v8h-8zM1592 96h16v8h-16zM1584 104h8v8h-8zM1576 112h8v8h-8zM1560 120h8v8h-8zM1552 128h8v8h-8zM1536 136h8v8h-8zM1528 144h8v8h-8zM1512 152h8v8h-8zM1496 160h16v8h-16zM1488 168h8v8h-8zM1472 176h8v8h-8zM1464 184h8v8h-8zM1456 192h8v8h-8zM1448 200h8v8h-8zM1440 208h8v8h-8zM1432 216h8v8h-8zM1424 224h8v8h-8zM1416 232h8v8h-8zM1408 240h8v8h-8zM1400 248h8v8h-8zM1392 256h8v8h-8zM1384 264h8v8h-8zM1376 272h8v8h-8zM1368 280h8v8h-8zM1368 288h8v8h-8zM1360 296h8v8h-8z"/>
<path fill="#757575" d="M1632 64h16v8h-16zM1624 72h8v8h-8zM1608 80h16v8h-16zM1600 88h8v8h-8zM1584 96h8v8h-8zM1576 104h8v8h-8zM1560 112h16v8h-16zM1552 120h8v8h-8zM1536 128h16v8h-16zM1528 136h8v8h-8zM1512 144h16v8h-16zM1504 152h8v8h-8zM1488 160h8v8h-8zM1480 168h8v8h-8zM1464 176h8v8h-8zM1456 184h8v8h-8zM1448 192h8v8h-8zM1440 200h8v8h-8zM1432 208h8v8h-8zM1424 216h8v8h-8zM1416 224h8v8h-8zM1408 232h8v8h-8zM1400 240h8v8h-8zM1392 248h8v8h-8zM1384 256h8v8h-8zM1376 264h8v8h-8zM1368 272h8v8h-8zM1360 288h8v8h-8z"/>
<path fill="#767676" d="M1624 64h8v8h-8zM1608 72h16v8h-16zM1600 80h8v8h-8zM1584 88h16v8h-16zM1576 96h8v8h-8zM1568 104h8v8h-8zM1552 112h8v8h-8zM1544 120h8v8h-8zM1528 128h8v8h-8zM1520 136h8v8h-8zM1504 144h8v8h-8zM1496 152h8v8h-8zM1480 160h8v8h-8zM1472 168h8v8h-8zM1456 176h8v8h-8zM1448 184h8v8h-8zM1440 192h8v8h-8zM1432 200h8v8h-8zM1424 208h8v8h-8zM1416 216h8v8h-8zM1408 224h8v8h-8zM1400 232h8v8h-8zM1392 240h8v8h-8zM1384 248h8v8h-8zM1376 256h8v8h-8zM1368 264h8v8h-8zM1360 280h8v8h-8z"/>
<path fill="#777777" d="M1616 64h8v8h-8zM1600 72h8v8h-8zM1592 80h8v8h-8zM1576 88h8v8h-8zM1568 96h8v8h-8zM1552 104h16v8h-16zM1544 112h8v8h-8zM1536 120h8v8h-8zM1520 128h8v8h-8zM1504 136h16v8h-16zM1496 144h8v8h-8zM1480 152h16v8h-16zM1472 160h8v8h-8zM1464 168h8v8h-8zM1448 176h8v8h-8zM1440 184h8v8h-8zM1432 192h8v8h-8zM1424 200h8v8h-8zM1416 208h8v8h-8zM1408 216h8v8h-8zM1400 224h8v8h-8zM1392 232h8v8h-8zM1384 240h8v8h-8zM1376 248h8v8h-8zM1368 256h8v8h-8zM1360 264h8v8h-8zM1360 272h8v8h-8z"/>
<path fill="#787878" d="M1600 64h16v8h-16zM1592 72h8v8h-8zM1576 80h16v8h-16zM1568 88h8v8h-8zM1560 96h8v8h-8zM1544 104h8v8h-8zM1536 112h8v8h-8zM1520 120h16v8h-16zM1512 128h8v8h-8zM1496 136h8v8h-8zM1488 144h8v8h-8zM1472 152h8v8h-8zM1464 160h8v8h-8zM1456 168h8v8h-8zM1440 176h8v8h-8zM1432 184h8v8h-8zM1424 192h8v8h-8zM1416 200h8v8h-8zM1408 208h8v8h-8zM1400 216h8v8h-8zM1392 224h8v8h-8zM1384 232h8v8h-8zM1376 240h8v8h-8zM1368 248h8v8h-8zM1360 256h8v8h-8z"/>
<path fill="#797979" d="M1592 64h8v8h-8zM1584 72h8v8h-8zM1568 80h8v8h-8zM1560 88h8v8h-8zM1544 96h16v8h-16zM1536 104h8v8h-8zM1528 112h8v8h-8zM1512 120h8v8h-8zM1504 128h8v8h-8zM1488 136h8v8h-8zM1480 144h8v8h-8zM1464 152h8v8h-8zM1456 160h8v8h-8zM1448 168h8v8h-8zM1432 176h8v8h-8zM1424 184h8v8h-8zM1416 192h8v8h-8zM1408 200h8v8h-8zM1400 208h8v8h-8zM1392 216h8v8h-8zM1384 224h8v8h-8zM1376 232h8v8h-8zM1368 240h8v8h-8zM1360 248h8v8h-8z"/>
<path fill="#7a7a7a" d="M1584 64h8v8h-8zM1568 72h16v8h-16zM1560 80h8v8h-8zM1552 88h8v8h-8zM1536 96h8v8h-8zM1528 104h8v8h-8zM1512 112h16v8h-16zM1504 120h8v8h-8zM1488 128h16v8h-16zM1480 136h8v8h-8zM1472 144h8v8h-8zM1456 152h8v8h-8zM1448 160h8v8h-8zM1440 168h8v8h-8zM1416 184h8v8h-8zM1408 192h8v8h-8zM1400 200h8v8h-8zM1392 208h8v8h-8zM1384 216h8v8h-8zM1376 224h8v8h-8zM1368 232h8v8h-8zM1360 240h8v8h-8z"/>
<path fill="#7b7b7b" d="M1576 64h8v8h-8zM1560 72h8v8h-8zM1552 80h8v8h-8zM1536 88h16v8h-16zM1528 96h8v8h-8zM1520 104h8v8h-8zM1504 112h8v8h-8zM1496 120h8v8h-8zM1480 128h8v8h-8zM1472 136h8v8h-8zM1464 144h8v8h-8zM1448 152h8v8h-8zM1440 160h8v8h-8zM1432 168h8v8h-8zM1424 176h8v8h-8zM1408 184h8v8h-8zM1400 192h8v8h-8zM1392 200h8v8h-8zM1384 208h8v8h-8zM1376 216h8v8h-8zM1368 224h8v8h-8zM1360 232h8v8h-8z"/>
<path fill="#7c7c7c" d="M1560 64h16v8h-16zM1552 72h8v8h-8zM1544 80h8v8h-8zM1528 88h8v8h-8zM1520 96h8v8h-8zM1504 104h16v8h-16zM1496 112h8v8h-8zM1488 120h8v8h-8zM1472 128h8v8h-8zM1464 136h8v8h-8zM1456 144h8v8h-8zM1440 152h8v8h-8zM1432 160h8v8h-8zM1424 168h8v8h-8zM1416 176h8v8h-8zM1392 192h8v8h-8zM1384 200h8v8h-8zM1376 208h8v8h-8zM1368 216h8v8h-8zM1360 224h8v8h-8z"/>
<path fill="#7d7d7d" d="M1552 64h8v8h-8zM1544 72h8v8h-8zM1528 80h16v8h-16zM1520 88h8v8h-8zM1512 96h8v8h-8zM1496 104h8v8h-8zM1488 112h8v8h-8zM1472 120h16v8h-16zM1464 128h8v8h-8zM1456 136h8v8h-8zM1448 144h8v8h-8zM1432 152h8v8h-8zM1424 160h8v8h-8zM1416 168h8v8h-8zM1408 176h8v8h-8zM1400 184h8v8h-8zM1376 200h8v8h-8zM1368 208h8v8h-8zM1360 216h8v8h-8z"/>
<path fill="#7e7e7e" d="M1544 64h8v8h-8zM1528 72h16v8h-16zM1520 80h8v8h-8zM1512 88h8v8h-8zM1496 96h16v8h-16zM1488 104h8v8h-8zM1480 112h8v8h-8zM1464 120h8v8h-8zM1456 128h8v8h-8zM1448 136h8v8h-8zM1440 144h8v8h-8zM1424 152h8v8h-8zM1416 160h8v8h-8zM1408 168h8v8h-8zM1400 176h8v8h-8zM1392 184h8v8h-8zM1384 192h8v8h-8zM1368 200h8v8h-8zM1360 208h8v8h-8z"/>
<path fill="#7f7f7f" d="M1536 64h8v8h-8zM1520 72h8v8h-8zM1512 80h8v8h-8zM1504 88h8v8h-8zM1488 96h8v8h-8zM1480 104h8v8h-8zM1472 112h8v8h-8zM1456 120h8v8h-8zM1448 128h8v8h-8zM1440 136h8v8h-8zM1432 144h8v8h-8zM1416 152h8v8h-8zM1408 160h8v8h-8zM1400 168h8v8h-8zM1392 176h8v8h-8zM1384 184h8v8h-8zM1376 192h8v8h-8z"/>
<path fill="#808080" d="M1528 64h8v8h-8zM1504 80h8v8h-8zM1496 88h8v8h-8zM1472 104h8v8h-8zM1464 112h8v8h-8zM1440 128h8v8h-8zM1432 136h8v8h-8zM1424 144h8v8h-8zM1400 160h8v8h-8zM1392 168h8v8h-8zM1384 176h8v8h-8zM1376 184h8v8h-8zM1368 192h8v8h-8zM1360 200h8v8h-8z"/>
<path fill="#818181" d="M1520 64h8v8h-8zM1512 72h8v8h-8zM1488 88h8v8h-8zM1480 96h8v8h-8zM1456 112h8v8h-8zM1448 120h8v8h-8zM1424 136h8v8h-8zM1416 144h8v8h-8zM1408 152h8v8h-8zM1376 176h8v8h-8zM1368 184h8v8h-8zM1360 192h8v8h-8z"/>
<path fill="#828282" d="M1504 72h8v8h-8zM1496 80h8v8h-8zM1472 96h8v8h-8zM1464 104h8v8h-8zM1448 112h8v8h-8zM1440 120h8v8h-8zM1432 128h8v8h-8zM1408 144h8v8h-8zM1400 152h8v8h-8zM1392 160h8v8h-8zM1384 168h8v8h-8z"/>
<path fill="#838383" d="M1512 64h8v8h-8zM1488 80h8v8h-8zM1480 88h8v8h-8zM1464 96h8v8h-8zM1456 104h8v8h-8zM1432 120h8v8h-8zM1424 128h8v8h-8zM1416 136h8v8h-8zM1392 152h8v8h-8zM1384 160h8v8h-8zM1376 168h8v8h-8zM1368 176h8v8h-8zM1360 184h8v8h-8z"/>
<path fill="#848484" d="M1504 64h8v8h-8zM1496 72h8v8h-8zM1480 80h8v8h-8zM1472 88h8v8h-8zM1448 104h8v8h-8zM1440 112h8v8h-8zM1416 128h8v8h-8zM1408 136h8v8h-8zM1400 144h8v8h-8zM1376 160h8v8h-8zM1368 168h8v8h-8zM1360 176h8v8h-8z"/>
<path fill="#858585" d="M1496 64h8v8h-8zM1488 72h8v8h-8zM1464 88h8v8h-8zM1456 96h8v8h-8zM1440 104h8v8h-8zM1432 112h8v8h-8zM1424 120h8v8h-8zM1400 136h8v8h-8zM1392 144h8v8h-8zM1384 152h8v8h-8z"/>
<path fill="#868686" d="M1480 72h8v8h-8zM1472 80h8v8h-8zM1456 88h8v8h-8zM1448 96h8v8h-8zM1424 112h8v8h-8zM1416 120h8v8h-8zM1408 128h8v8h-8zM1392 136h8v8h-8zM1384 144h8v8h-8zM1376 152h8v8h-8zM1368 160h8v8h-8zM1360 168h8v8h-8z"/>
<path fill="#878787" d="M1488 64h8v8h-8zM1464 80h8v8h-8zM1440 96h8v8h-8zM1432 104h8v8h-8zM1408 120h8v8h-8zM1400 128h8v8h-8zM1368 152h8v8h-8zM1360 160h8v8h-8z"/>
<path fill="#888888" d="M1480 64h8v8h-8zM1472 72h8v8h-8zM1456 80h8v8h-8zM1448 88h8v8h-8zM1424 104h8v8h-8zM1416 112h8v8h-8zM1400 120h8v8h-8zM1392 128h8v8h-8zM1384 136h8v8h-8zM1376 144h8v8h-8z"/>
<path fill="#898989" d="M1464 72h8v8h-8zM1440 88h8v8h-8zM1432 96h8v8h-8zM1416 104h8v8h-8zM1408 112h8v8h-8zM1384 128h8v8h-8zM1376 136h8v8h-8zM1368 144h8v8h-8zM1360 152h8v8h-8z"/>
<path fill="#8a8a8a" d="M1472 64h8v8h-8zM1456 72h8v8h-8zM1448 80h8v8h-8zM1432 88h8v8h-8zM1424 96h8v8h-8zM1400 112h8v8h-8zM1392 120h8v8h-8zM1368 136h8v8h-8zM1360 144h8v8h-8z"/>
<path fill="#8b8b8b" d="M1464 64h8v8h-8zM1448 72h8v8h-8zM1440 80h8v8h-8zM1416 96h8v8h-8zM1408 104h8v8h-8zM1392 112h8v8h-8zM1384 120h8v8h-8zM1376 128h8v8h-8z"/>
<path fill="#8c8c8c" d="M1456 64h8v8h-8zM1432 80h8v8h-8zM1424 88h8v8h-8zM1408 96h8v8h-8zM1400 104h8v8h-8zM1376 120h8v8h-8zM1368 128h8v8h-8zM1360 136h8v8h-8z"/>
<path fill="#8d8d8d" d="M1448 64h8v8h-8zM1440 72h8v8h-8zM1424 80h8v8h-8zM1416 88h8v8h-8zM1392 104h8v8h-8zM1384 112h8v8h-8zM1360 128h8v8h-8z"/>
<path fill="#8e8e8e" d="M1432 72h8v8h-8zM1408 88h8v8h-8zM1400 96h8v8h-8zM1384 104h8v8h-8zM1376 112h8v8h-8zM1368 120h8v8h-8z"/>
<path fill="#8f8f8f" d="M1440 64h8v8h-8zM1424 72h8v8h-8zM1416 80h8v8h-8zM1400 88h8v8h-8zM1392 96h8v8h-8zM1368 112h8v8h-8zM1360 120h8v8h-8z"/>
<path fill="#909090" d="M1432 64h8v8h-8zM1408 80h8v8h-8zM1384 96h8v8h-8zM1376 104h8v8h-8zM1360 112h8v8h-8z"/>
<path fill="#919191" d="M1424 64h8v8h-8zM1416 72h8v8h-8zM1400 80h8v8h-8zM1392 88h8v8h-8zM1376 96h8v8h-8zM1368 104h8v8h-8z"/>
<path fill="#929292" d="M1416 64h8v8h-8zM1408 72h8v8h-8zM1392 80h8v8h-8zM1384 88h8v8h-8zM1368 96h8v8h-8zM1360 104h8v8h-8z"/>
<path fill="#939393" d="M1400 72h8v8h-8zM1376 88h8v8h-8z"/>
<path fill="#949494" d="M1408 64h8v8h-8zM1392 72h8v8h-8zM1384 80h8v8h-8zM1368 88h8v8h-8zM1360 96h8v8h-8z"/>
<path fill="#959595" d="M1400 64h8v8h-8zM1384 72h8v8h-8zM1376 80h8v8h-8zM1360 88h8v8h-8z"/>
<path fill="#969696" d="M1392 64h8v8h-8zM1368 80h8v8h-8z"/>
<path fill="#979797" d="M1384 64h8v8h-8zM1376 72h8v8h-8zM1360 80h8v8h-8z"/>
<path fill="#989898" d="M1376 64h8v8h-8zM1368 72h8v8h-8z"/>
<path fill="#999999" d="M1360 72h8v8h-8z"/>
<path fill="#9a9a9a" d="M1368 64h8v8h-8z"/>
<path fill="#9b9b9b" d="M1360 64h8v8h-8z"/>
</g></g>
<clipPath id="lc1"><rect x="166.0" y="86.9" width="731.7" height="720.3"/></clipPath>
<g clip-path="url(#lc1)">
<ellipse cx="1305.1" cy="1161.7" rx="1395.1" ry="1368.0" fill="none" stroke="#fff" stroke-width="2.2"/>
<ellipse cx="1305.1" cy="1161.7" rx="670.6" ry="657.6" fill="none" stroke="#fff" stroke-width="2.2"/>
<ellipse cx="1305.1" cy="1161.7" rx="1237.9" ry="1213.9" fill="none" stroke="#000" stroke-width="2.7" stroke-dasharray="20 19"/>
<ellipse cx="1305.1" cy="1161.7" rx="888.4" ry="871.2" fill="none" stroke="#000" stroke-width="2.7" stroke-dasharray="20 19"/>
<line x1="174.0" y1="95.4" x2="891.7" y2="802.2" stroke="#000" stroke-width="2" stroke-dasharray="3.6 7.6"/>
<ellipse cx="532.5" cy="447.3" rx="72.7" ry="72.5" fill="none" stroke="#000" stroke-width="2.6"/>
</g>
<rect x="166.0" y="86.9" width="731.7" height="720.3" fill="none" stroke="#000" stroke-width="3.6"/>
<path d="M326.1 807.2v-17M326.1 86.9v17M570.9 807.2v-17M570.9 86.9v17M815.6 807.2v-17M815.6 86.9v17M166.0 201.7h16M897.7 201.7h-16M166.0 441.7h16M897.7 441.7h-16M166.0 681.7h16M897.7 681.7h-16" stroke="#000" stroke-width="3.6" fill="none"/>
<text x="326.1" y="842.5" text-anchor="middle" style="font-family:'Liberation Sans',Arial,Helvetica,sans-serif;font-weight:bold;font-size:37px">-4</text>
<text x="570.9" y="842.5" text-anchor="middle" style="font-family:'Liberation Sans',Arial,Helvetica,sans-serif;font-weight:bold;font-size:37px">-3</text>
<text x="815.6" y="842.5" text-anchor="middle" style="font-family:'Liberation Sans',Arial,Helvetica,sans-serif;font-weight:bold;font-size:37px">-2</text>
<text x="153.5" y="215.2" text-anchor="end" style="font-family:'Liberation Sans',Arial,Helvetica,sans-serif;font-weight:bold;font-size:37px">4</text>
<text x="153.5" y="455.2" text-anchor="end" style="font-family:'Liberation Sans',Arial,Helvetica,sans-serif;font-weight:bold;font-size:37px">3</text>
<text x="153.5" y="695.2" text-anchor="end" style="font-family:'Liberation Sans',Arial,Helvetica,sans-serif;font-weight:bold;font-size:37px">2</text>
<text x="515.3" y="914.8" style="font-family:'Liberation Sans',Arial,Helvetica,sans-serif;font-weight:bold;font-size:63.5px">x</text>
<text transform="translate(509.0 933.9) scale(1.08 0.907)" style="font-family:'Liberation Serif','Times New Roman',Times,serif;font-size:118px">&#732;</text>
<text transform="translate(83.3 464.5) rotate(-90)" style="font-family:'Liberation Sans',Arial,Helvetica,sans-serif;font-weight:bold;font-size:63.5px">y</text>
<text transform="translate(106.4 467.5) rotate(-90) scale(1.08 0.907)" style="font-family:'Liberation Serif','Times New Roman',Times,serif;font-size:118px">&#732;</text>
<text transform="translate(293.9 219.3) rotate(-46.0)" text-anchor="middle" fill="#fff" style="font-family:'Liberation Sans',Arial,Helvetica,sans-serif;font-weight:bold;font-size:45.0px">m=2 OLR</text><text transform="translate(576.3 177.1) rotate(-36.0)" text-anchor="middle" fill="#fff" style="font-family:'Liberation Sans',Arial,Helvetica,sans-serif;font-weight:bold;font-size:43.0px">OMR</text><text transform="translate(776.3 446.8) rotate(-36.0)" text-anchor="middle" fill="#000" style="font-family:'Liberation Sans',Arial,Helvetica,sans-serif;font-weight:bold;font-size:45.0px">IMR</text><text transform="translate(812.7 711.1) rotate(-46.5)" text-anchor="middle" fill="#fff" style="font-family:'Liberation Sans',Arial,Helvetica,sans-serif;font-weight:bold;font-size:45.0px">m=2 ILR</text><path id="parc1" d="M462.8 407.1A80.5 80.5 0 0 1 602.2 407.1" fill="none"/><text style="font-family:'Liberation Sans',Arial,Helvetica,sans-serif;font-weight:bold;font-size:45px" text-anchor="middle"><textPath href="#parc1" startOffset="47%">Planet</textPath></text>
<line x1="518.2" y1="434.0" x2="518.2" y2="1400.5" stroke="#000" stroke-width="2.3" stroke-dasharray="3.4 4.6"/>
<line x1="561.8" y1="477.5" x2="561.8" y2="1336.5" stroke="#000" stroke-width="2.3" stroke-dasharray="3.4 4.6"/>
<line x1="590.3" y1="505.0" x2="590.3" y2="1368.0" stroke="#000" stroke-width="2.3" stroke-dasharray="3.4 4.6"/>
<linearGradient id="cbg1" x1="0" y1="1" x2="0" y2="0"><stop offset="0" stop-color="#0000ff"/><stop offset=".25" stop-color="#00ffff"/><stop offset=".5" stop-color="#00ff00"/><stop offset=".75" stop-color="#ffff00"/><stop offset="1" stop-color="#ff0000"/></linearGradient>
<rect x="979.4" y="207" width="49.7" height="275" fill="url(#cbg1)"/>
<text x="1054.9" y="224.3" style="font-family:'Liberation Sans',Arial,Helvetica,sans-serif;font-weight:bold;font-size:32.5px">2.74</text>
<text x="1054.9" y="263.6" style="font-family:'Liberation Sans',Arial,Helvetica,sans-serif;font-weight:bold;font-size:32.5px">2.68</text>
<text x="1054.9" y="302.9" style="font-family:'Liberation Sans',Arial,Helvetica,sans-serif;font-weight:bold;font-size:32.5px">2.61</text>
<text x="1054.9" y="342.2" style="font-family:'Liberation Sans',Arial,Helvetica,sans-serif;font-weight:bold;font-size:32.5px">2.55</text>
<text x="1054.9" y="381.5" style="font-family:'Liberation Sans',Arial,Helvetica,sans-serif;font-weight:bold;font-size:32.5px">2.49</text>
<text x="1054.9" y="420.8" style="font-family:'Liberation Sans',Arial,Helvetica,sans-serif;font-weight:bold;font-size:32.5px">2.43</text>
<text x="1054.9" y="460.1" style="font-family:'Liberation Sans',Arial,Helvetica,sans-serif;font-weight:bold;font-size:32.5px">2.36</text>
<text x="1054.9" y="499.4" style="font-family:'Liberation Sans',Arial,Helvetica,sans-serif;font-weight:bold;font-size:32.5px">2.30</text>
<text transform="translate(1021.7 171.3) scale(1.055 1)" style="font-family:'Liberation Serif','Times New Roman',Times,serif;font-size:114px">&#931;</text><text transform="translate(1027.2 182.8) scale(1.043 1)" style="font-family:'Liberation Serif','Times New Roman',Times,serif;font-size:162px">&#732;</text>
<clipPath id="lc2"><rect x="1383.5" y="86.9" width="731.7" height="720.3"/></clipPath>
<g clip-path="url(#lc2)">
<ellipse cx="2522.6" cy="1161.7" rx="1395.1" ry="1368.0" fill="none" stroke="#fff" stroke-width="2.2"/>
<ellipse cx="2522.6" cy="1161.7" rx="670.6" ry="657.6" fill="none" stroke="#fff" stroke-width="2.2"/>
<ellipse cx="2522.6" cy="1161.7" rx="1237.9" ry="1213.9" fill="none" stroke="#000" stroke-width="2.7" stroke-dasharray="20 19"/>
<ellipse cx="2522.6" cy="1161.7" rx="888.4" ry="871.2" fill="none" stroke="#000" stroke-width="2.7" stroke-dasharray="20 19"/>
<line x1="1391.5" y1="95.4" x2="2109.2" y2="802.2" stroke="#000" stroke-width="2" stroke-dasharray="3.6 7.6"/>
<ellipse cx="1750.0" cy="447.3" rx="72.7" ry="72.5" fill="none" stroke="#000" stroke-width="2.6"/>
</g>
<rect x="1383.5" y="86.9" width="731.7" height="720.3" fill="none" stroke="#000" stroke-width="3.6"/>
<path d="M1543.6 807.2v-17M1543.6 86.9v17M1788.3 807.2v-17M1788.3 86.9v17M2033.1 807.2v-17M2033.1 86.9v17M1383.5 201.7h16M2115.2 201.7h-16M1383.5 441.7h16M2115.2 441.7h-16M1383.5 681.7h16M2115.2 681.7h-16" stroke="#000" stroke-width="3.6" fill="none"/>
<text x="1543.6" y="842.5" text-anchor="middle" style="font-family:'Liberation Sans',Arial,Helvetica,sans-serif;font-weight:bold;font-size:37px">-4</text>
<text x="1788.3" y="842.5" text-anchor="middle" style="font-family:'Liberation Sans',Arial,Helvetica,sans-serif;font-weight:bold;font-size:37px">-3</text>
<text x="2033.1" y="842.5" text-anchor="middle" style="font-family:'Liberation Sans',Arial,Helvetica,sans-serif;font-weight:bold;font-size:37px">-2</text>
<text x="1371.0" y="215.2" text-anchor="end" style="font-family:'Liberation Sans',Arial,Helvetica,sans-serif;font-weight:bold;font-size:37px">4</text>
<text x="1371.0" y="455.2" text-anchor="end" style="font-family:'Liberation Sans',Arial,Helvetica,sans-serif;font-weight:bold;font-size:37px">3</text>
<text x="1371.0" y="695.2" text-anchor="end" style="font-family:'Liberation Sans',Arial,Helvetica,sans-serif;font-weight:bold;font-size:37px">2</text>
<text x="1732.8" y="914.8" style="font-family:'Liberation Sans',Arial,Helvetica,sans-serif;font-weight:bold;font-size:63.5px">x</text>
<text transform="translate(1726.5 933.9) scale(1.08 0.907)" style="font-family:'Liberation Serif','Times New Roman',Times,serif;font-size:118px">&#732;</text>
<text transform="translate(1300.8 464.5) rotate(-90)" style="font-family:'Liberation Sans',Arial,Helvetica,sans-serif;font-weight:bold;font-size:63.5px">y</text>
<text transform="translate(1323.9 467.5) rotate(-90) scale(1.08 0.907)" style="font-family:'Liberation Serif','Times New Roman',Times,serif;font-size:118px">&#732;</text>
<text transform="translate(1503.9 221.3) rotate(-46.0)" text-anchor="middle" fill="#000" style="font-family:'Liberation Sans',Arial,Helvetica,sans-serif;font-weight:bold;font-size:45.0px">m=2 OLR</text><text transform="translate(1786.7 171.4) rotate(-36.0)" text-anchor="middle" fill="#000" style="font-family:'Liberation Sans',Arial,Helvetica,sans-serif;font-weight:bold;font-size:43.0px">OMR</text><text transform="translate(1985.5 452.2) rotate(-36.0)" text-anchor="middle" fill="#fff" style="font-family:'Liberation Sans',Arial,Helvetica,sans-serif;font-weight:bold;font-size:45.0px">IMR</text><text transform="translate(2022.0 718.3) rotate(-46.5)" text-anchor="middle" fill="#fff" style="font-family:'Liberation Sans',Arial,Helvetica,sans-serif;font-weight:bold;font-size:45.0px">m=2 ILR</text><path id="parc2" d="M1680.3 407.1A80.5 80.5 0 0 1 1819.7 407.1" fill="none"/><text style="font-family:'Liberation Sans',Arial,Helvetica,sans-serif;font-weight:bold;font-size:45px" text-anchor="middle"><textPath href="#parc2" startOffset="47%">Planet</textPath></text>
<line x1="1657.4" y1="356.0" x2="1657.4" y2="1332.6" stroke="#000" stroke-width="2.3" stroke-dasharray="3.4 4.6"/>
<line x1="1716.4" y1="413.8" x2="1716.4" y2="1328.8" stroke="#000" stroke-width="2.3" stroke-dasharray="3.4 4.6"/>
<line x1="1750.0" y1="446.5" x2="1750.0" y2="1371.7" stroke="#000" stroke-width="2.3" stroke-dasharray="3.4 4.6"/>
<linearGradient id="cbg2" x1="0" y1="1" x2="0" y2="0"><stop offset="0" stop-color="#0000ff"/><stop offset=".25" stop-color="#00ffff"/><stop offset=".5" stop-color="#00ff00"/><stop offset=".75" stop-color="#ffff00"/><stop offset="1" stop-color="#ff0000"/></linearGradient>
<rect x="2197.5" y="207" width="49.7" height="275" fill="url(#cbg2)"/>
<text x="2273.0" y="224.3" style="font-family:'Liberation Sans',Arial,Helvetica,sans-serif;font-weight:bold;font-size:32.5px">0.60</text>
<text x="2273.0" y="263.6" style="font-family:'Liberation Sans',Arial,Helvetica,sans-serif;font-weight:bold;font-size:32.5px">0.52</text>
<text x="2273.0" y="302.9" style="font-family:'Liberation Sans',Arial,Helvetica,sans-serif;font-weight:bold;font-size:32.5px">0.45</text>
<text x="2273.0" y="342.2" style="font-family:'Liberation Sans',Arial,Helvetica,sans-serif;font-weight:bold;font-size:32.5px">0.39</text>
<text x="2273.0" y="381.5" style="font-family:'Liberation Sans',Arial,Helvetica,sans-serif;font-weight:bold;font-size:32.5px">0.34</text>
<text x="2273.0" y="420.8" style="font-family:'Liberation Sans',Arial,Helvetica,sans-serif;font-weight:bold;font-size:32.5px">0.29</text>
<text x="2273.0" y="460.1" style="font-family:'Liberation Sans',Arial,Helvetica,sans-serif;font-weight:bold;font-size:32.5px">0.25</text>
<text x="2273.0" y="499.4" style="font-family:'Liberation Sans',Arial,Helvetica,sans-serif;font-weight:bold;font-size:32.5px">0.22</text>
<text transform="translate(2240.6 170) scale(1.062 0.967)" style="font-family:'Liberation Serif','Times New Roman',Times,serif;font-size:112px">&#946;</text>
<path d="M168.2 1027V1746.6H898.4" stroke="#000" stroke-width="3.6" fill="none"/>
<path d="M328.2 1746.6v-17M571.8 1746.6v-17M815.6 1746.6v-17M168.2 1109.0h16M168.2 1305.0h16M168.2 1501.5h16M168.2 1697.7h16" stroke="#000" stroke-width="3.6" fill="none"/>
<text x="328.2" y="1782" text-anchor="middle" style="font-family:'Liberation Sans',Arial,Helvetica,sans-serif;font-weight:bold;font-size:37px">-4</text>
<text x="571.8" y="1782" text-anchor="middle" style="font-family:'Liberation Sans',Arial,Helvetica,sans-serif;font-weight:bold;font-size:37px">-3</text>
<text x="815.6" y="1782" text-anchor="middle" style="font-family:'Liberation Sans',Arial,Helvetica,sans-serif;font-weight:bold;font-size:37px">-2</text>
<text x="153.7" y="1122.5" text-anchor="end" style="font-family:'Liberation Sans',Arial,Helvetica,sans-serif;font-weight:bold;font-size:37px">3</text>
<text x="153.7" y="1318.5" text-anchor="end" style="font-family:'Liberation Sans',Arial,Helvetica,sans-serif;font-weight:bold;font-size:37px">2.7</text>
<text x="153.7" y="1515.0" text-anchor="end" style="font-family:'Liberation Sans',Arial,Helvetica,sans-serif;font-weight:bold;font-size:37px">2.4</text>
<text x="153.7" y="1711.2" text-anchor="end" style="font-family:'Liberation Sans',Arial,Helvetica,sans-serif;font-weight:bold;font-size:37px">2.1</text>
<path d="M167.9 1744.2C171.0 1742.0 179.8 1734.6 186.4 1730.9C193.0 1727.2 201.0 1724.0 207.6 1722.2C214.2 1720.5 219.5 1721.8 226.1 1720.4C232.7 1719.0 239.7 1717.2 247.2 1713.7C254.7 1710.2 263.9 1702.7 271.0 1699.2C278.1 1695.7 283.3 1695.9 289.5 1692.6C295.7 1689.3 301.8 1683.8 308.0 1679.4C314.2 1675.0 318.7 1671.4 326.6 1666.2C334.5 1661.0 346.8 1656.3 355.6 1648.4C364.4 1640.5 372.3 1627.1 379.4 1618.6C386.4 1610.1 392.2 1604.7 397.9 1597.4C403.6 1590.1 408.9 1582.3 413.8 1575.0C418.7 1567.7 422.1 1561.7 427.0 1553.8C431.9 1545.9 438.0 1536.2 442.9 1527.4C447.8 1518.6 452.1 1510.6 456.1 1500.9C460.1 1491.2 463.2 1478.9 466.7 1469.2C470.2 1459.5 473.8 1449.8 477.3 1442.8C480.8 1435.8 483.9 1432.9 487.8 1426.9C491.8 1421.0 497.7 1411.7 501.0 1407.1C504.3 1402.5 505.7 1400.2 507.7 1399.1C509.7 1398.0 511.1 1399.8 512.9 1400.5C514.6 1401.2 515.8 1404.0 518.2 1403.1C520.6 1402.2 524.2 1399.6 527.5 1395.2C530.8 1390.8 534.6 1383.5 538.1 1376.7C541.6 1369.9 545.1 1360.2 548.6 1354.2C552.1 1348.2 556.8 1344.0 559.2 1341.0C561.7 1338.0 561.0 1334.5 563.3 1336.3C565.6 1338.1 569.0 1346.4 572.9 1351.9C576.8 1357.5 582.4 1367.4 586.8 1369.6C591.2 1371.8 595.6 1365.5 599.4 1365.3C603.2 1365.1 605.9 1369.0 609.5 1368.4C613.1 1367.9 616.9 1364.0 620.9 1362.0C624.9 1360.0 629.4 1356.7 633.6 1356.2C637.8 1355.7 642.4 1360.8 646.2 1358.8C650.0 1356.8 652.9 1349.9 656.3 1344.3C659.7 1338.7 663.4 1332.7 666.4 1325.4C669.4 1318.1 672.1 1302.9 674.0 1300.6C675.9 1298.3 676.9 1297.9 677.8 1311.5C678.6 1325.1 678.7 1352.0 679.1 1382.3C679.5 1412.6 679.7 1464.0 680.3 1493.5C680.9 1523.0 682.0 1543.1 682.9 1559.3C683.8 1575.5 684.4 1593.0 685.9 1590.9C687.4 1588.8 689.1 1572.9 691.7 1546.6C694.4 1520.2 698.8 1464.4 701.8 1432.8C704.8 1401.2 706.4 1385.7 709.4 1357.0C712.4 1328.3 716.9 1284.2 719.5 1260.9C722.1 1237.6 723.2 1231.2 724.8 1217.0C726.4 1202.8 727.6 1187.1 729.0 1175.6C730.4 1164.1 731.7 1156.8 733.1 1148.0C734.5 1139.2 735.9 1129.5 737.3 1123.1C738.7 1116.6 740.0 1113.0 741.4 1109.3C742.8 1105.6 743.7 1103.6 745.5 1101.1C747.3 1098.6 750.1 1094.2 752.4 1094.2C754.7 1094.2 757.2 1097.6 759.3 1101.1C761.4 1104.5 763.2 1109.4 764.8 1114.9C766.4 1120.4 767.6 1126.9 769.0 1134.2C770.4 1141.5 771.7 1151.7 773.1 1159.0C774.5 1166.3 775.7 1172.8 777.3 1178.3C778.9 1183.8 780.6 1188.3 782.8 1192.1C785.0 1195.9 787.6 1200.6 790.4 1201.1C793.1 1201.6 796.2 1198.2 799.3 1194.9C802.4 1191.6 805.5 1187.5 809.0 1181.1C812.5 1174.6 816.3 1163.1 820.0 1156.2C823.7 1149.3 827.0 1146.4 831.1 1139.7C835.2 1133.0 841.0 1124.0 844.9 1116.2C848.8 1108.4 851.5 1099.7 854.5 1092.8C857.5 1085.9 858.6 1081.7 862.8 1074.8C866.9 1067.9 873.5 1059.3 879.4 1051.4C885.3 1043.5 894.9 1031.2 898.0 1027.2" stroke="#000" stroke-width="2.6" fill="none" stroke-linejoin="round"/>
<text x="516.0" y="1855.2" style="font-family:'Liberation Sans',Arial,Helvetica,sans-serif;font-weight:bold;font-size:63.5px">x</text>
<text transform="translate(515.1 1876) scale(1.08 0.907)" style="font-family:'Liberation Serif','Times New Roman',Times,serif;font-size:118px">&#732;</text>
<text transform="translate(96.7 1405) rotate(-90) scale(1.061 1)" style="font-family:'Liberation Serif','Times New Roman',Times,serif;font-size:62px">&#931;</text><text transform="translate(110 1410.1) rotate(-90) scale(1.08 0.907)" style="font-family:'Liberation Serif','Times New Roman',Times,serif;font-size:118px">&#732;</text>
<path d="M1385.2 1027V1746.6H2115.4" stroke="#000" stroke-width="3.6" fill="none"/>
<path d="M1545.2 1746.6v-17M1788.8 1746.6v-17M2032.6 1746.6v-17M1385.2 1284.2h16M1385.2 1562.2h16" stroke="#000" stroke-width="3.6" fill="none"/>
<text x="1545.2" y="1782" text-anchor="middle" style="font-family:'Liberation Sans',Arial,Helvetica,sans-serif;font-weight:bold;font-size:37px">-4</text>
<text x="1788.8" y="1782" text-anchor="middle" style="font-family:'Liberation Sans',Arial,Helvetica,sans-serif;font-weight:bold;font-size:37px">-3</text>
<text x="2032.6" y="1782" text-anchor="middle" style="font-family:'Liberation Sans',Arial,Helvetica,sans-serif;font-weight:bold;font-size:37px">-2</text>
<text x="1370.7" y="1297.7" text-anchor="end" style="font-family:'Liberation Sans',Arial,Helvetica,sans-serif;font-weight:bold;font-size:37px">0.3</text>
<text x="1370.7" y="1575.7" text-anchor="end" style="font-family:'Liberation Sans',Arial,Helvetica,sans-serif;font-weight:bold;font-size:37px">0.2</text>
<path d="M1385.7 1031.5C1388.6 1035.3 1397.0 1046.5 1403.0 1054.5C1409.0 1062.5 1415.7 1071.8 1421.4 1079.8C1427.2 1087.8 1432.5 1095.1 1437.5 1102.8C1442.5 1110.5 1445.5 1117.3 1451.3 1125.7C1457.0 1134.1 1464.7 1144.1 1472.0 1153.3C1479.3 1162.5 1488.5 1173.4 1495.0 1180.9C1501.5 1188.4 1505.3 1192.5 1511.0 1198.2C1516.7 1204.0 1524.4 1210.6 1529.4 1215.4C1534.4 1220.2 1537.1 1222.3 1540.9 1226.9C1544.7 1231.5 1548.6 1237.6 1552.4 1243.0C1556.2 1248.4 1559.3 1253.0 1563.9 1259.1C1568.5 1265.2 1574.2 1274.2 1580.0 1279.8C1585.8 1285.3 1591.5 1287.8 1598.4 1292.4C1605.3 1297.0 1614.5 1302.6 1621.4 1307.4C1628.3 1312.2 1633.9 1316.9 1639.8 1321.1C1645.7 1325.3 1652.4 1330.7 1657.0 1332.6C1661.6 1334.5 1663.4 1333.8 1667.4 1332.6C1671.4 1331.4 1676.5 1327.5 1681.1 1325.7C1685.7 1323.9 1690.7 1321.6 1694.9 1321.6C1699.1 1321.6 1703.0 1324.4 1706.4 1325.7C1709.9 1327.0 1712.5 1327.9 1715.6 1329.2C1718.7 1330.5 1722.1 1330.5 1724.8 1333.8C1727.5 1337.0 1729.4 1343.9 1731.7 1348.7C1734.0 1353.5 1735.7 1358.7 1738.6 1362.5C1741.5 1366.3 1745.2 1370.1 1749.0 1371.7C1752.8 1373.3 1757.4 1371.6 1761.6 1372.2C1765.8 1372.8 1770.8 1371.8 1774.3 1375.2C1777.8 1378.6 1779.6 1384.8 1782.3 1392.4C1785.0 1400.0 1787.2 1411.9 1790.3 1420.7C1793.4 1429.5 1797.2 1437.9 1800.7 1445.5C1804.2 1453.1 1807.5 1459.3 1811.0 1466.2C1814.5 1473.1 1818.0 1481.0 1821.4 1486.9C1824.9 1492.8 1828.2 1497.1 1831.7 1501.4C1835.2 1505.7 1838.6 1508.6 1842.1 1512.7C1845.5 1516.8 1849.7 1521.5 1852.4 1526.2C1855.2 1530.9 1856.2 1535.9 1858.6 1540.7C1861.0 1545.5 1863.5 1551.6 1866.9 1555.2C1870.4 1558.8 1875.3 1561.2 1879.3 1562.4C1883.3 1563.6 1888.3 1560.5 1890.7 1562.4C1893.1 1564.3 1893.0 1566.4 1893.8 1573.8C1894.6 1581.2 1895.1 1594.5 1895.8 1606.9C1896.5 1619.3 1897.2 1631.0 1897.9 1648.2C1898.6 1665.4 1899.0 1694.4 1900.0 1710.3C1901.0 1726.2 1902.0 1741.3 1903.7 1743.4C1905.4 1745.5 1907.5 1733.4 1910.3 1722.7C1913.1 1712.0 1917.2 1693.4 1920.7 1679.3C1924.2 1665.2 1927.9 1650.0 1931.0 1637.9C1934.1 1625.8 1936.2 1616.2 1939.3 1606.9C1942.4 1597.6 1946.3 1588.2 1949.6 1582.0C1952.9 1575.8 1955.8 1570.6 1958.9 1569.6C1962.0 1568.6 1965.0 1571.0 1968.3 1575.8C1971.6 1580.6 1975.5 1590.0 1978.6 1598.6C1981.7 1607.2 1984.5 1617.6 1986.9 1627.6C1989.3 1637.6 1990.7 1649.6 1993.1 1658.6C1995.5 1667.5 1997.2 1673.7 2001.3 1681.3C2005.4 1688.9 2011.7 1698.6 2017.9 1704.1C2024.1 1709.6 2031.7 1711.0 2038.6 1714.4C2045.5 1717.9 2052.4 1722.0 2059.3 1724.8C2066.2 1727.6 2071.4 1727.7 2080.0 1731.0C2088.6 1734.3 2105.8 1742.2 2111.0 1744.4" stroke="#000" stroke-width="2.6" fill="none" stroke-linejoin="round"/>
<text x="1733.0" y="1855.2" style="font-family:'Liberation Sans',Arial,Helvetica,sans-serif;font-weight:bold;font-size:63.5px">x</text>
<text transform="translate(1732.1 1876) scale(1.08 0.907)" style="font-family:'Liberation Serif','Times New Roman',Times,serif;font-size:118px">&#732;</text>
<text transform="translate(1313.7 1404.6) rotate(-90) scale(1.167 1)" style="font-family:'Liberation Serif','Times New Roman',Times,serif;font-size:60px">&#946;</text>
<text x="500.2" y="1957.4" style="font-family:'Liberation Serif','Times New Roman',Times,serif;font-size:64px">(a)</text>
<text x="1715.4" y="1957.5" style="font-family:'Liberation Serif','Times New Roman',Times,serif;font-size:64px">(b)</text>
</svg></body></html>
